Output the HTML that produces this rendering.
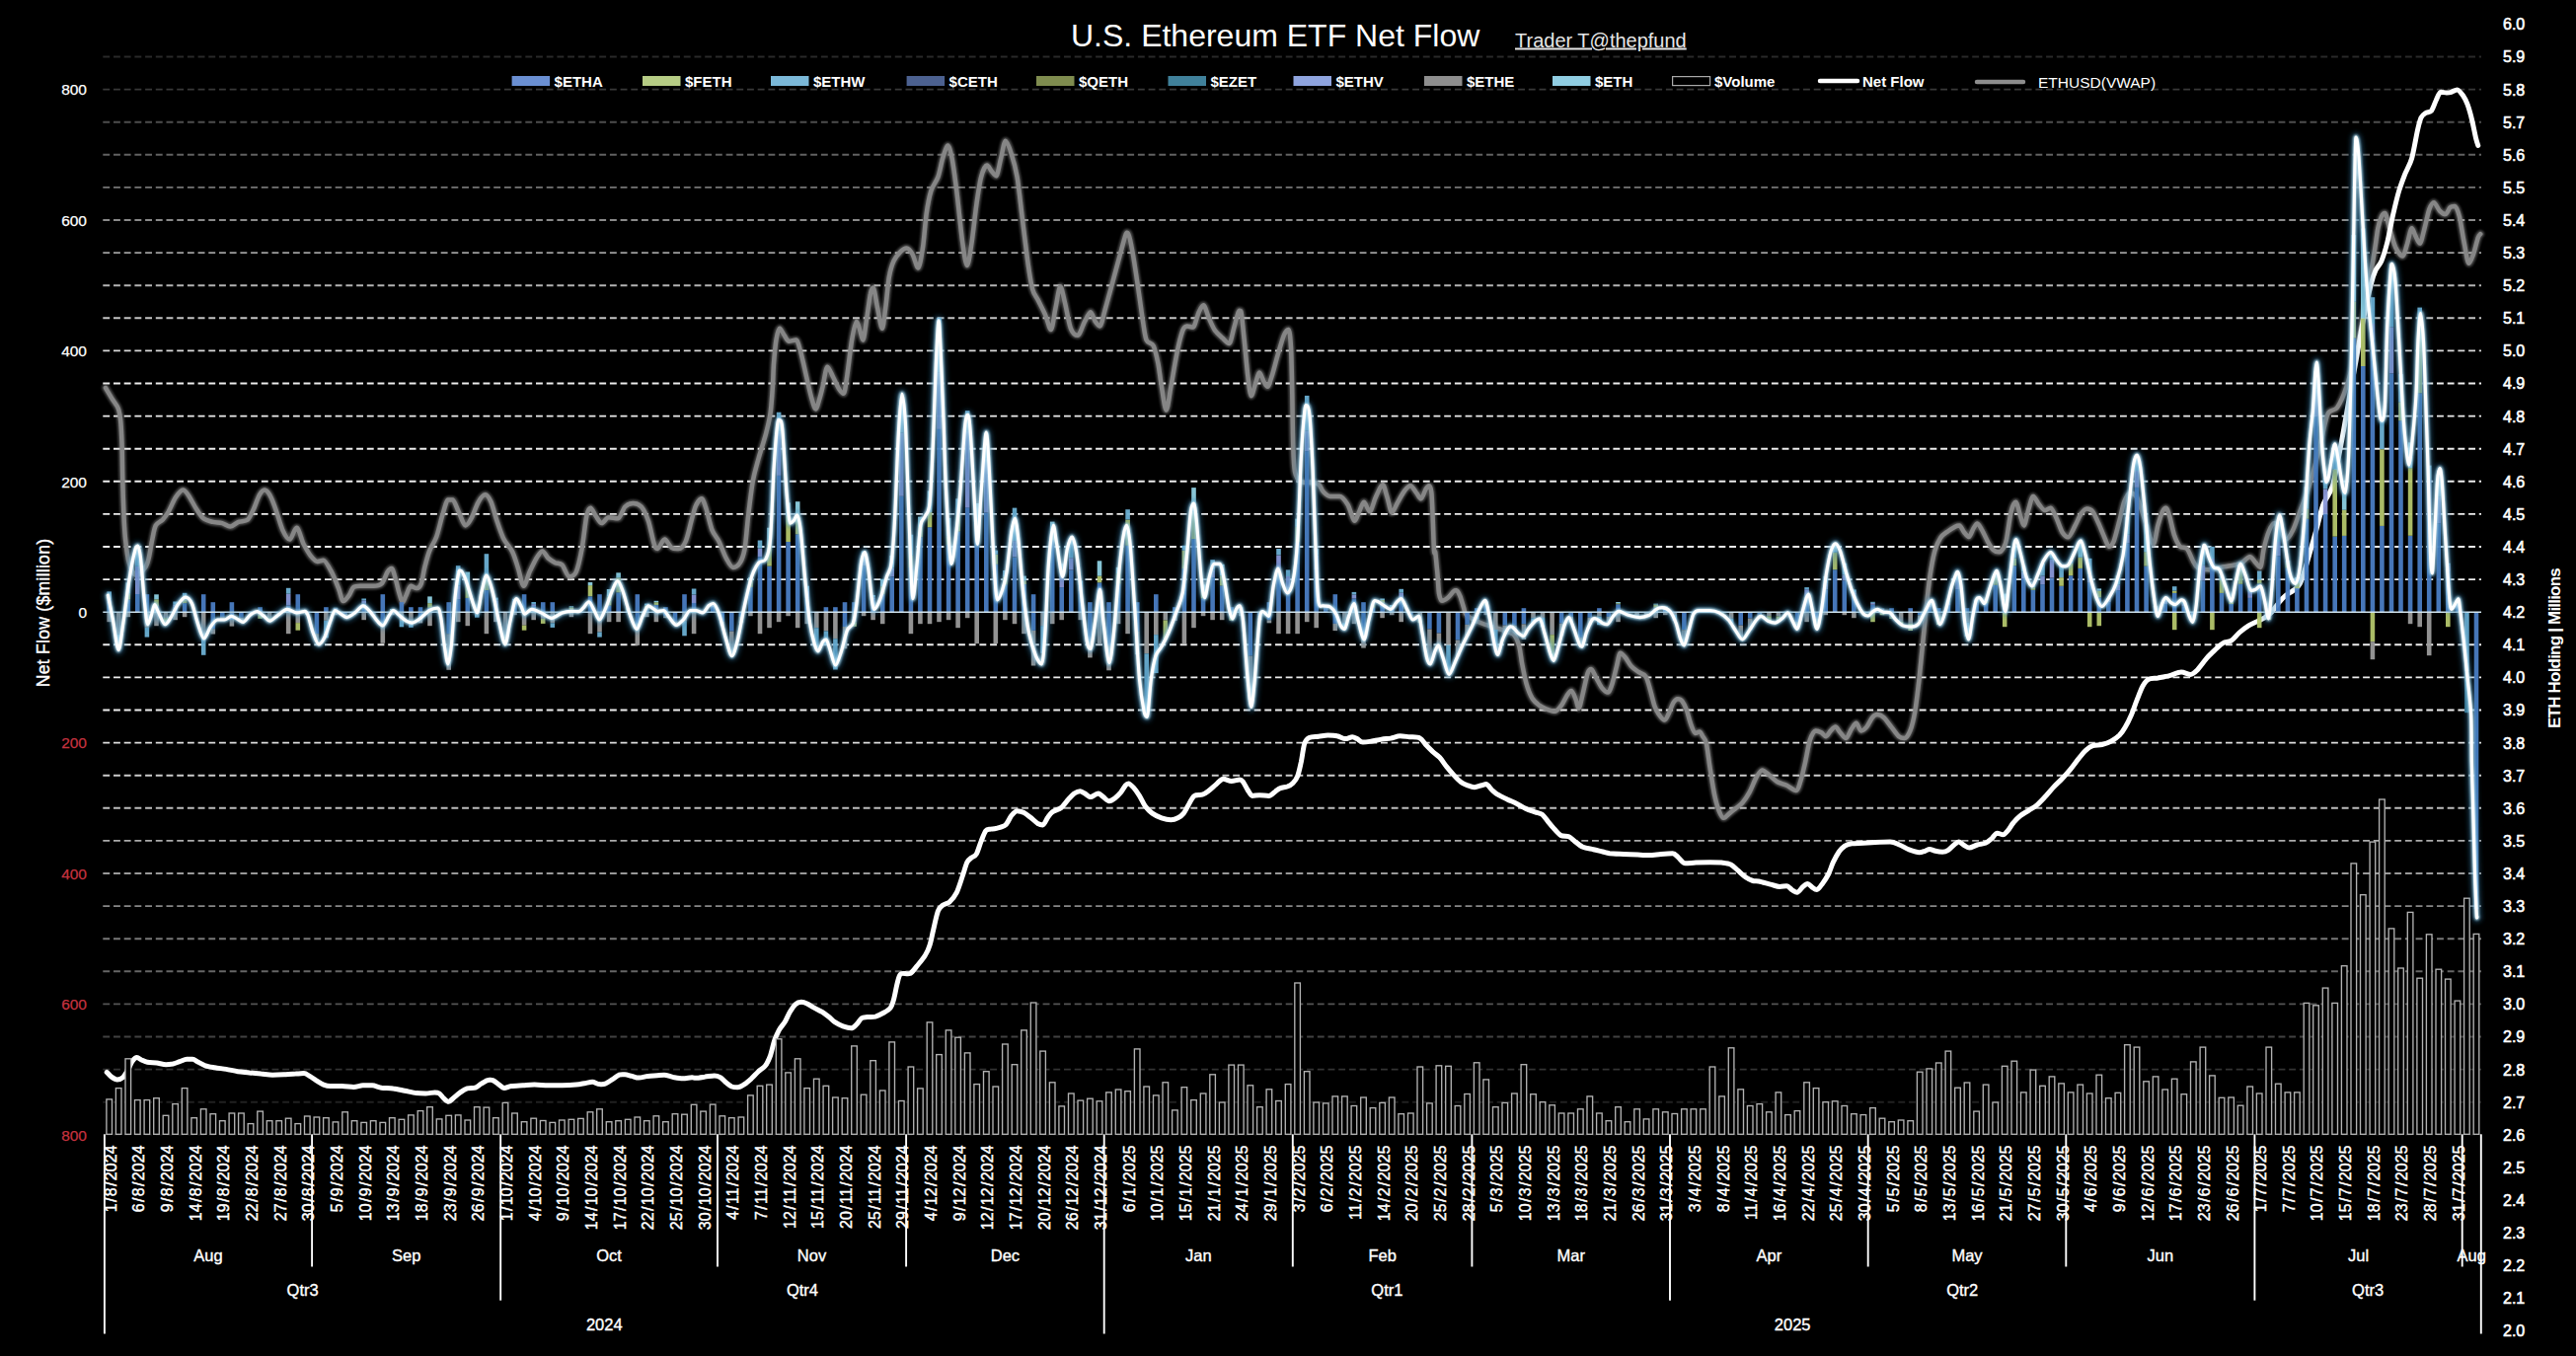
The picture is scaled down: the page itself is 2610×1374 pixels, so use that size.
<!DOCTYPE html><html><head><meta charset="utf-8"><title>U.S. Ethereum ETF Net Flow</title><style>html,body{margin:0;padding:0;background:#000}body{width:2610px;height:1374px;overflow:hidden}svg{display:block;font-family:"Liberation Sans",sans-serif}</style></head><body>
<svg width="2610" height="1374" viewBox="0 0 2610 1374">
<defs><filter id="b3" x="-5%" y="-5%" width="110%" height="110%"><feGaussianBlur stdDeviation="2.4"/></filter><filter id="b2" x="-5%" y="-5%" width="110%" height="110%"><feGaussianBlur stdDeviation="1.2"/></filter></defs>
<rect width="2610" height="1374" fill="#000"/>
<g stroke="#fff" stroke-width="1.9" stroke-dasharray="6.9 3.8" fill="none">
<path d="M104.3 1149.8H2514" stroke-opacity="0.07"/>
<path d="M104.3 1116.7H2514" stroke-opacity="0.13"/>
<path d="M104.3 1083.6H2514" stroke-opacity="0.20"/>
<path d="M104.3 1050.5H2514" stroke-opacity="0.26"/>
<path d="M104.3 1017.4H2514" stroke-opacity="0.33"/>
<path d="M104.3 984.3H2514" stroke-opacity="0.40"/>
<path d="M104.3 951.2H2514" stroke-opacity="0.47"/>
<path d="M104.3 918.1H2514" stroke-opacity="0.53"/>
<path d="M104.3 885H2514" stroke-opacity="0.60"/>
<path d="M104.3 851.9H2514" stroke-opacity="0.67"/>
<path d="M104.3 818.8H2514" stroke-opacity="0.74"/>
<path d="M104.3 785.7H2514" stroke-opacity="0.80"/>
<path d="M104.3 752.6H2514" stroke-opacity="0.87"/>
<path d="M104.3 719.5H2514" stroke-opacity="0.93"/>
<path d="M104.3 686.4H2514" stroke-opacity="0.93"/>
<path d="M104.3 653.3H2514" stroke-opacity="0.93"/>
<path d="M104.3 587.1H2514" stroke-opacity="0.93"/>
<path d="M104.3 554H2514" stroke-opacity="0.93"/>
<path d="M104.3 520.9H2514" stroke-opacity="0.93"/>
<path d="M104.3 487.8H2514" stroke-opacity="0.93"/>
<path d="M104.3 454.7H2514" stroke-opacity="0.93"/>
<path d="M104.3 421.6H2514" stroke-opacity="0.93"/>
<path d="M104.3 388.5H2514" stroke-opacity="0.93"/>
<path d="M104.3 355.4H2514" stroke-opacity="0.85"/>
<path d="M104.3 322.3H2514" stroke-opacity="0.77"/>
<path d="M104.3 289.2H2514" stroke-opacity="0.70"/>
<path d="M104.3 256.1H2514" stroke-opacity="0.62"/>
<path d="M104.3 223H2514" stroke-opacity="0.54"/>
<path d="M104.3 189.9H2514" stroke-opacity="0.46"/>
<path d="M104.3 156.8H2514" stroke-opacity="0.38"/>
<path d="M104.3 123.7H2514" stroke-opacity="0.30"/>
<path d="M104.3 90.6H2514" stroke-opacity="0.22"/>
<path d="M104.3 57.5H2514" stroke-opacity="0.16"/>
</g>
<path d="M107 393C108.1 394.8 112.2 401.8 114.2 405C116.2 408.2 118.8 410.9 120 414.4C121.2 417.9 121.9 422.9 122.4 428.6C122.9 434.3 123.3 443.3 123.6 452.2C123.9 461.1 124 477 124.3 487.6C124.6 498.2 125.1 514.1 125.5 523C125.9 531.9 126.3 539.5 127.1 546.6C127.9 553.7 129.1 564.7 130.7 570.2C132.3 575.7 135.5 583 138 583C140.5 583 145.3 577.5 147.2 574.9C149.1 572.3 149.7 569.7 150.7 565.5C151.8 561.2 153.2 551.5 154.3 546.6C155.3 541.6 156.2 535.4 157.8 532.4C159.4 529.4 162.9 528.6 164.9 526.5C166.8 524.4 168.8 521.6 170.8 518.3C172.7 514.9 175.7 507.4 177.9 504.1C180.1 500.8 183.5 496.6 185.4 496.6C187.4 496.6 188.8 498.8 190.8 501.7C192.9 504.6 196.8 512.4 199.1 515.9C201.4 519.4 203.7 523.4 206.2 525.3C208.7 527.3 212.8 528.2 215.6 528.9C218.5 529.6 222.4 529.4 225.1 530.1C227.7 530.8 230.8 533.6 233.3 533.6C235.8 533.6 238.9 529.9 241.6 528.9C244.2 527.8 248.7 528.5 251 526.5C253.3 524.6 255.1 519.6 256.9 515.9C258.7 512.2 261.1 504.6 262.8 501.7C264.5 498.8 266.4 496.6 268 496.6C269.6 496.6 271.7 498.8 273.4 501.7C275.1 504.6 277.4 510.6 279.3 515.9C281.3 521.2 284.3 532.5 286.4 537.1C288.5 541.7 291.4 546.6 293.5 546.6C295.6 546.6 298.4 534.8 300.6 534.8C302.7 534.8 305.5 547 307.6 551.3C309.8 555.5 312.6 560.4 314.7 563.1C316.8 565.7 319.9 569 321.8 569C323.7 569 325.6 567.8 327.7 567.8C329.8 567.8 333.7 575.4 336 579.6C338.3 583.9 341.3 591.7 343 596.1C344.8 600.6 346.2 609.1 347.8 609.1C349.4 609.1 352.1 605.3 353.7 603.2C355.3 601.1 356.4 596.4 358.4 594.9C360.3 593.5 363.6 593.8 366.6 593.8C369.6 593.8 375.4 593.8 378.4 593.8C381.4 593.8 384.6 593.5 386.7 591.4C388.8 589.3 391.1 581.9 392.6 579.6C394.1 577.3 395.6 576.1 396.8 576.1C398.1 576.1 399.7 583 400.8 586.7C402 590.4 403.3 597.3 404.4 600.8C405.5 604.4 406.9 610.3 407.9 610.3C409 610.3 410.2 605.7 411.5 603.2C412.7 600.7 414.6 593.8 416.2 593.8C417.8 593.8 420.5 596.1 422.1 596.1C423.7 596.1 425.6 594.6 426.8 591.4C428 588.2 429.1 579.8 430.3 574.9C431.6 569.9 433.3 563 435.1 558.4C436.8 553.8 440.2 549.5 442.1 544.2C444.1 538.9 446.3 528.6 448 523C449.8 517.3 452.3 506.5 453.9 506.5C455.5 506.5 457.1 506.5 458.7 506.5C460.3 506.5 462.6 514.4 464.6 518.3C466.5 522.2 469.7 532.4 471.6 532.4C473.6 532.4 475.6 528.9 477.5 525.3C479.5 521.8 482.5 512.4 484.6 508.8C486.7 505.2 489.7 501.3 491.7 501.3C493.6 501.3 495.8 504.9 497.6 508.8C499.4 512.8 501.5 522 503.5 527.7C505.4 533.4 508.3 542 510.6 546.6C512.9 551.2 516.7 554.1 518.8 558.4C521 562.6 523 569.6 524.7 574.9C526.5 580.2 528.9 593.8 530.6 593.8C532.4 593.8 534.6 583.9 536.5 579.6C538.5 575.4 541.7 568.6 543.6 565.5C545.6 562.3 547.7 558.4 549.5 558.4C551.3 558.4 553.5 563.7 555.4 565.5C557.4 567.2 560.4 569.1 562.5 570.2C564.6 571.2 567.4 570.4 569.6 572.5C571.7 574.7 574.5 584.3 576.6 584.3C578.8 584.3 581.8 583.9 583.7 579.6C585.7 575.4 588 564.5 589.6 556C591.2 547.5 593 529.2 594.3 523C595.6 516.8 596.9 514.7 598.3 514.7C599.8 514.7 602.1 520.7 603.8 523C605.5 525.3 607.7 530.1 609.7 530.1C611.6 530.1 614.3 524.2 616.8 524.2C619.2 524.2 623.7 525.3 626.2 525.3C628.7 525.3 631 515.8 633.3 513.5C635.6 511.2 639.1 510 641.5 510C644 510 647.5 510.9 649.8 513.5C652.1 516.2 654.9 522 656.9 527.7C658.8 533.4 661.3 547 662.8 551.3C664.2 555.5 664.7 556 666.3 556C667.9 556 671.3 546.6 673.4 546.6C675.5 546.6 678.3 553.4 680.5 554.8C682.6 556.3 685.4 556 687.5 556C689.7 556 692.7 553.2 694.6 548.9C696.6 544.7 699 533.2 700.5 527.7C702.1 522.2 703.4 515.7 705 512.4C706.6 509 709.3 505.3 710.9 505.3C712.5 505.3 714 511.1 715.6 515.9C717.2 520.7 719.6 532.2 721.5 537.1C723.5 542.1 726.5 544.7 728.6 548.9C730.7 553.2 733.6 561.6 735.7 565.5C737.8 569.3 740.6 574.9 742.8 574.9C744.9 574.9 748.1 573 749.8 570.2C751.6 567.3 753.3 563.1 754.6 556C755.8 548.9 756.9 533.2 758.1 523C759.3 512.7 761.2 496.4 762.8 487.6C764.4 478.7 766.8 471.1 768.7 464C770.7 456.9 774 447.1 775.8 440.4C777.6 433.7 779.4 426.5 780.5 419.2C781.6 411.9 782.3 399.4 782.9 391.7C783.4 384.1 783.5 375.2 784 368.2C784.6 361.1 785.5 349.9 786.4 344.6C787.3 339.2 788.7 332.8 789.9 332.8C791.2 332.8 793.2 337.9 794.7 339.8C796.1 341.8 797.6 345.7 799.4 345.7C801.2 345.7 804.7 344.6 806.5 344.6C808.2 344.6 809.4 350 811.2 356.4C813 362.7 816.5 379.6 818.3 387C820 394.5 821.7 401.8 823 405.9C824.2 410 825.4 414.4 826.5 414.4C827.7 414.4 829.5 406.9 830.5 403.5C831.6 400.1 832.4 396.5 833.6 391.7C834.8 387 836.7 371.7 838.3 371.7C839.9 371.7 842.4 378.9 844.2 382.3C846 385.7 848.5 391.6 850.1 394.1C851.7 396.6 853.6 398.8 854.8 398.8C856.1 398.8 857.1 388.1 858.4 380C859.6 371.8 861.7 352.7 863.1 344.6C864.5 336.4 866.6 325.7 867.8 325.7C869.1 325.7 870.4 332.3 871.4 335.1C872.3 337.9 873.4 344.6 874.4 344.6C875.5 344.6 877.3 328 878.4 321C879.6 313.9 881 301.8 882 297.4C882.9 292.9 883.7 291.5 884.8 291.5C885.9 291.5 887.7 305.3 889 311.5C890.4 317.7 892.5 332.8 893.8 332.8C895 332.8 896.2 319.3 897.3 311.5C898.4 303.7 899.6 287.9 900.8 280.8C902.1 273.8 903.8 268.2 905.6 264.3C907.3 260.4 910.7 256.8 912.6 254.9C914.6 252.9 916.8 251.4 918.5 251.4C920.3 251.4 922.7 254.2 924.4 257.3C926.2 260.3 928.7 271.4 930.3 271.4C931.9 271.4 933.8 258.3 935.1 250.2C936.3 242 937.4 225.6 938.6 217.1C939.8 208.6 941.6 199.2 943.3 193.5C945.1 187.9 948.6 184.3 950.4 179.4C952.2 174.4 953.6 165.3 955.1 160.5C956.6 155.7 958.9 147.5 960.3 147.5C961.7 147.5 963.2 153.6 964.6 160.5C965.9 167.4 967.7 180.8 969.3 193.5C970.9 206.3 973.6 234.1 975.2 245.5C976.8 256.8 978.5 269 979.9 269C981.3 269 983.2 254.7 984.6 245.5C986 236.3 987.9 217.6 989.3 207.7C990.7 197.8 992.5 185.4 994.1 179.4C995.6 173.4 998.4 167.6 1000 167.6C1001.5 167.6 1003.3 171.9 1004.7 173.5C1006.1 175.1 1008 178.2 1009.4 178.2C1010.8 178.2 1012.7 165.8 1014.1 160.5C1015.5 155.2 1017.2 142.8 1018.8 142.8C1020.4 142.8 1023 150.3 1024.7 155.8C1026.5 161.3 1029 170.2 1030.6 179.4C1032.2 188.6 1033.8 204.4 1035.3 217.1C1036.9 229.9 1039.7 253 1041.2 264.3C1042.8 275.7 1044.4 286.6 1046 292.6C1047.6 298.7 1049.9 300.5 1051.9 304.4C1053.8 308.3 1057 314.2 1058.9 318.6C1060.9 323 1063.2 333.9 1064.8 333.9C1066.4 333.9 1068.1 318.1 1069.6 311.5C1071 305 1072.9 290.3 1074.3 290.3C1075.7 290.3 1077.4 300.4 1079 306.8C1080.6 313.2 1082.9 327.8 1084.9 332.8C1086.8 337.7 1089.9 339.8 1092 339.8C1094.1 339.8 1097.1 329.2 1099.1 325.7C1101 322.1 1103.4 316.2 1105 316.2C1106.5 316.2 1108.3 323.6 1109.7 325.7C1111.1 327.8 1112.8 330.4 1114.4 330.4C1116 330.4 1118.3 318.2 1120.3 311.5C1122.2 304.8 1125.2 293.4 1127.4 285.6C1129.5 277.8 1132.5 266.7 1134.4 259.6C1136.4 252.5 1139.1 241.9 1140.3 238.4C1141.6 234.8 1141.6 236 1142.7 236C1143.8 236 1145.8 246.4 1147.4 254.9C1149 263.4 1151.7 282 1153.3 292.6C1154.9 303.3 1156.8 317.9 1158 325.7C1159.3 333.5 1160 340.8 1161.6 344.6C1163.2 348.3 1166.9 346.9 1168.7 350.5C1170.4 354 1172.1 362 1173.4 368.2C1174.6 374.3 1175.7 384.6 1176.9 391.7C1178.2 398.9 1180.2 415.6 1181.6 415.6C1183.1 415.6 1184.8 400.3 1186.4 391.7C1188 383.2 1190.5 367.2 1192.3 358.7C1194 350.2 1196.6 339.4 1198.2 335.1C1199.7 330.9 1201.3 330.4 1202.9 330.4C1204.5 330.4 1207 331.6 1208.8 331.6C1210.5 331.6 1213.1 319.6 1214.7 316.2C1216.3 312.9 1217.8 309.2 1219.4 309.2C1221 309.2 1223.5 319.4 1225.3 323.3C1227.1 327.2 1229.2 332.3 1231.2 335.1C1233.1 337.9 1236.1 340.3 1238.3 342.2C1240.4 344.1 1243.6 348.1 1245.3 348.1C1247.1 348.1 1248.7 337.5 1250.1 332.8C1251.5 328 1253.7 318.9 1254.8 316.2C1255.8 313.6 1256.3 315.1 1257.1 315.1C1258 315.1 1259.6 334.8 1260.7 344.6C1261.7 354.3 1263.2 371.5 1264.2 380C1265.3 388.4 1266.5 401.2 1267.8 401.2C1269 401.2 1271.2 390.6 1272.5 387C1273.7 383.5 1274.8 377.6 1276 377.6C1277.3 377.6 1279.5 384.9 1280.7 387C1282 389.2 1283 391.7 1284.3 391.7C1285.5 391.7 1287.4 384.9 1289 380C1290.6 375 1293.1 364.7 1294.9 358.7C1296.7 352.7 1299.2 343.6 1300.8 339.8C1302.4 336.1 1304.4 333.9 1305.5 333.9C1306.6 333.9 1307.4 342.1 1308 352C1308.6 361.9 1309 385.3 1309.3 400C1309.6 414.7 1309.8 438.3 1310.2 450C1310.6 461.7 1310.8 472.3 1312 478C1313.2 483.7 1314.6 486.2 1318 488C1321.4 489.8 1331.4 488.4 1334.8 489.9C1338.2 491.5 1338.7 496.3 1340.7 498.2C1342.6 500.2 1345.3 502.9 1347.8 502.9C1350.2 502.9 1354.5 502.9 1357.2 502.9C1359.8 502.9 1363.2 507.5 1365.5 511.2C1367.8 514.9 1370.8 527.7 1372.5 527.7C1374.3 527.7 1375.8 521.1 1377.2 518.3C1378.7 515.4 1380.4 508.8 1382 508.8C1383.6 508.8 1386.1 518.3 1387.9 518.3C1389.6 518.3 1391.8 508.2 1393.8 504.1C1395.7 500 1399.1 491.1 1400.8 491.1C1402.6 491.1 1404.1 499.9 1405.6 504.1C1407 508.4 1408.7 519.4 1410.3 519.4C1411.9 519.4 1414.2 512.2 1416.2 508.8C1418.1 505.5 1421.3 499.5 1423.3 497C1425.2 494.5 1427.4 492.3 1429.2 492.3C1430.9 492.3 1433.5 497.4 1435.1 499.4C1436.7 501.3 1438.4 505.3 1439.8 505.3C1441.2 505.3 1443.3 497.8 1444.5 495.8C1445.7 493.9 1447.2 492.3 1448 492.3C1448.9 492.3 1449.9 494.8 1450.4 499.4C1450.9 504 1451.2 514.1 1451.6 523C1452 531.8 1452.6 552.8 1453 558.4C1453.4 563.9 1453.8 556.4 1454.3 560C1454.8 563.6 1455.9 575.9 1456.5 582.1C1457.1 588.3 1457.3 597.3 1458 601.3C1458.7 605.3 1459.7 608.7 1461 608.7C1462.3 608.7 1465.1 607.1 1466.9 605.7C1468.7 604.3 1471.5 600.2 1472.8 599.1C1474.1 598 1474.7 598.3 1475.7 598.3C1476.7 598.3 1478.3 601.5 1479.4 604.2C1480.5 606.9 1482.1 613.1 1483.1 616C1484.1 618.9 1483.5 621.1 1486 623.4C1488.5 625.6 1495.2 629 1500 631C1504.8 633 1513 635.3 1518 637C1523 638.7 1530 640 1533.2 642.6C1536.4 645.2 1537.8 650 1539.1 654.4C1540.4 658.8 1541 666.4 1542.1 672.1C1543.2 677.8 1545 687.4 1546.5 692.7C1548 698 1550.4 704.2 1552.4 707.5C1554.4 710.8 1557.6 713.2 1559.8 714.9C1562 716.6 1564.9 717.7 1567.2 718.6C1569.5 719.5 1573.1 720.8 1575.3 720.8C1577.5 720.8 1580 717.3 1581.9 714.9C1583.8 712.5 1586.3 706.7 1587.8 704.5C1589.3 702.3 1590.9 700.1 1592.2 700.1C1593.5 700.1 1595.6 706.3 1596.7 709C1597.8 711.7 1598.5 717.8 1599.6 717.8C1600.7 717.8 1602.7 706.9 1604 701.6C1605.3 696.3 1607.3 685.9 1608.5 682.4C1609.7 678.9 1610.9 678 1612.2 678C1613.5 678 1615.6 683.9 1617.3 686.8C1619 689.7 1621.4 695 1623.2 697.2C1625 699.4 1627.6 701.6 1629.1 701.6C1630.6 701.6 1632.2 696.7 1633.5 692.7C1634.8 688.7 1636.8 679.6 1638 675C1639.2 670.4 1640.4 661.8 1641.7 661.8C1643 661.8 1645.1 664.2 1646.8 666.2C1648.5 668.2 1650.7 672.8 1652.7 675C1654.7 677.2 1657.9 679.3 1660.1 680.9C1662.3 682.5 1665.7 682.7 1667.5 685.4C1669.3 688.1 1670.6 694.2 1671.9 698.6C1673.2 703 1675 711.1 1676.3 714.9C1677.6 718.7 1679.2 721.5 1680.7 723.7C1682.2 725.9 1685 729.6 1686.6 729.6C1688.2 729.6 1689.8 724.9 1691.1 722.2C1692.4 719.5 1694.2 714 1695.5 711.9C1696.8 709.8 1698.6 708.2 1699.9 708.2C1701.2 708.2 1703 708.7 1704.3 710.4C1705.6 712.1 1707.5 715.8 1708.8 719.3C1710.1 722.8 1711.9 730.5 1713.2 734C1714.5 737.5 1716.3 742.9 1717.6 742.9C1718.9 742.9 1720.9 741.4 1722 741.4C1723.1 741.4 1724 744.1 1725 745.8C1726 747.5 1727.7 748.3 1728.8 753C1729.9 757.7 1731.2 769.1 1732.4 776.9C1733.6 784.7 1735.7 798.5 1737.1 805.2C1738.5 811.9 1740.4 818.3 1741.8 821.8C1743.2 825.3 1744.9 828.8 1746.5 828.8C1748.1 828.8 1750.6 825.5 1752.4 824.1C1754.2 822.7 1756.3 821 1758.3 819.4C1760.2 817.8 1763.3 816 1765.4 813.5C1767.5 811 1770.4 806.8 1772.5 802.9C1774.6 799 1777.6 790.9 1779.6 787.5C1781.5 784.1 1783.6 780.5 1785.5 780.5C1787.4 780.5 1790.2 783.4 1792.5 785.2C1794.8 787 1798.1 790.7 1800.8 792.3C1803.5 793.9 1807.4 794.5 1810.2 795.8C1813 797.1 1817.6 801 1819.7 801C1821.8 801 1823 795.4 1824.4 791.1C1825.8 786.8 1827.7 778.4 1829.1 772.2C1830.5 766 1832.2 754.8 1833.8 750C1835.4 745.2 1837.9 740.4 1839.6 740.4C1841.3 740.4 1843.7 741.4 1845.3 742.3C1846.9 743.2 1848.7 746.2 1850.1 746.2C1851.5 746.2 1853.5 741.8 1854.9 740.4C1856.3 739 1858.3 736.6 1859.7 736.6C1861.1 736.6 1862.9 740.6 1864.5 742.3C1866.1 744 1868.6 748.1 1870.3 748.1C1872 748.1 1874.4 740.8 1876 738.5C1877.6 736.2 1879.4 732.8 1880.8 732.8C1882.2 732.8 1884 740.4 1885.6 740.4C1887.2 740.4 1889.6 738.6 1891.3 736.6C1893 734.6 1895.5 728.9 1897.1 727C1898.7 725.1 1900.2 724.1 1901.9 724.1C1903.6 724.1 1906.4 725.1 1908.6 727C1910.8 728.9 1914 733.7 1916.3 736.6C1918.6 739.5 1921.9 744.5 1923.9 746.2C1925.9 747.9 1928 748.1 1929.7 748.1C1931.4 748.1 1933.8 744.4 1935.4 740.4C1937 736.4 1938.9 728.5 1940.2 721.3C1941.5 714.1 1942.8 702.6 1944 692.5C1945.2 682.4 1946.7 665.7 1947.9 654.2C1949.1 642.7 1950.6 626.4 1951.7 615.8C1952.8 605.2 1954.2 591.9 1955.5 583.3C1956.8 574.7 1958.7 564.1 1960.3 558.3C1961.9 552.5 1964.1 547.9 1966.1 544.9C1968.1 541.9 1971.5 539.9 1973.8 538.2C1976.1 536.5 1979.7 534.3 1981.4 533.4C1983.1 532.5 1984 532.5 1985.3 532.5C1986.6 532.5 1988.6 537.5 1990 539.2C1991.4 540.9 1993.4 544 1994.8 544C1996.2 544 1998.3 537.3 1999.6 535.3C2000.9 533.3 2002.2 530.5 2003.5 530.5C2004.8 530.5 2006.7 534.6 2008.3 537.3C2009.9 540 2012.3 545.8 2014 548.8C2015.7 551.8 2018.1 555.8 2019.8 557.4C2021.5 559 2023.9 559.3 2025.5 559.3C2027.1 559.3 2029.2 556.4 2030.3 554.5C2031.4 552.6 2031.9 552 2033 546.6C2034.1 541.1 2036.3 523.9 2037.7 518.3C2039.1 512.6 2041 508.8 2042.4 508.8C2043.8 508.8 2045.9 519.4 2047.1 523C2048.4 526.5 2049.4 532.4 2050.7 532.4C2051.9 532.4 2054 520.3 2055.4 515.9C2056.8 511.5 2058.5 502.9 2060.1 502.9C2061.7 502.9 2064.2 509.1 2066 511.2C2067.8 513.3 2070.1 517.1 2071.9 517.1C2073.7 517.1 2076 514.7 2077.8 514.7C2079.6 514.7 2081.9 521.6 2083.7 525.3C2085.5 529.1 2087.8 536.7 2089.6 539.5C2091.4 542.3 2093.6 544.2 2095.5 544.2C2097.5 544.2 2100.6 536 2102.6 532.4C2104.5 528.9 2106.7 523.2 2108.5 520.6C2110.3 518.1 2112.6 515.4 2114.4 515.4C2116.2 515.4 2118.5 516.1 2120.3 518.3C2122.1 520.5 2124.4 526.2 2126.2 530.1C2128 534 2130.5 540.7 2132.1 544.2C2133.7 547.8 2135.4 553.7 2136.8 553.7C2138.2 553.7 2139.9 552.8 2141.5 548.9C2143.1 545 2145.8 533.7 2147.4 527.7C2149 521.7 2150.5 513.1 2152.1 508.8C2153.7 504.6 2156.1 499.4 2158 499.4C2160 499.4 2162.8 499.9 2165.1 504.1C2167.4 508.4 2170.9 520.6 2173.4 527.7C2175.9 534.8 2179.7 551.3 2181.6 551.3C2183.6 551.3 2184.9 537.4 2186.4 532.4C2187.8 527.5 2189.8 520.9 2191.1 518.3C2192.3 515.6 2193.6 514.7 2194.6 514.7C2195.7 514.7 2196.9 518.9 2198.2 523C2199.4 527.1 2201.3 537.3 2202.9 541.9C2204.5 546.5 2206.8 551.5 2208.8 553.7C2210.7 555.8 2213.9 553.9 2215.8 556C2217.8 558.1 2220.2 565 2221.7 567.8C2223.3 570.6 2224 573.5 2226.5 574.9C2228.9 576.3 2234.7 577.3 2238.3 577.3C2241.8 577.3 2247.2 575.4 2250.1 574.9C2252.9 574.4 2255 574.1 2257.1 573.7C2259.3 573.4 2262.1 573.1 2264.2 572.5C2266.3 572 2269 571.4 2271.3 570.2C2273.6 568.9 2277.4 564.3 2279.6 564.3C2281.7 564.3 2283.9 568.6 2285.5 570.2C2287.1 571.8 2288.9 574.9 2290.2 574.9C2291.4 574.9 2292.5 561.3 2293.7 556C2295 550.7 2296.8 543.4 2298.4 539.5C2300 535.6 2302.6 530.1 2304.3 530.1C2306.1 530.1 2308.5 534.7 2310.2 537.1C2312 539.6 2314.2 546.6 2316.1 546.6C2318.1 546.6 2321.1 541.4 2323.2 537.1C2325.3 532.9 2328.2 523.9 2330.3 518.3C2332.4 512.6 2335.2 505.8 2337.4 499.4C2339.5 493 2342.3 483.6 2344.4 475.8C2346.6 468 2349.4 456 2351.5 447.5C2353.7 439 2356.1 424.3 2358.6 419.2C2361.1 414 2365.2 417.1 2368 413C2370.9 408.9 2374.7 400.2 2377.5 391.7C2380.3 383.3 2384.1 368.7 2386.9 356.4C2389.8 344 2393.5 324.4 2396.4 309.2C2399.2 293.9 2403.9 266.6 2405.8 254.9C2407.7 243.2 2408.3 236.6 2409.3 231.3C2410.4 226 2411.8 221.8 2412.9 219.5C2413.9 217.2 2415.2 216 2416.4 216C2417.7 216 2419.5 226.2 2421.1 231.3C2422.7 236.4 2425.1 245.9 2427 250.2C2429 254.4 2432.3 259.6 2434.1 259.6C2435.9 259.6 2437.4 252.1 2438.8 247.8C2440.2 243.6 2442.3 231.3 2443.6 231.3C2444.8 231.3 2445.9 236.1 2447.1 238.4C2448.3 240.7 2450.4 246.6 2451.8 246.6C2453.2 246.6 2455.1 236.4 2456.5 231.3C2457.9 226.2 2459.8 216.3 2461.2 212.4C2462.7 208.5 2464.4 205.3 2466 205.3C2467.6 205.3 2470.1 211.8 2471.9 213.6C2473.6 215.4 2476.2 217.1 2477.8 217.1C2479.4 217.1 2481.1 211.3 2482.5 210.1C2483.9 208.8 2485.8 208.9 2487.2 208.9C2488.6 208.9 2490.5 214 2491.9 219.5C2493.3 225 2495.2 238.4 2496.6 245.5C2498.1 252.5 2499.9 266.7 2501.4 266.7C2502.8 266.7 2504.7 261.1 2506.1 257.3C2507.5 253.4 2509.7 243.7 2510.8 240.7C2511.9 237.7 2512.8 237.7 2513.2 237.2" fill="none" stroke="#b5b5b5" stroke-width="7.5" stroke-opacity="0.42" stroke-linejoin="round" stroke-linecap="round" filter="url(#b2)"/>
<path d="M107 393C108.1 394.8 112.2 401.8 114.2 405C116.2 408.2 118.8 410.9 120 414.4C121.2 417.9 121.9 422.9 122.4 428.6C122.9 434.3 123.3 443.3 123.6 452.2C123.9 461.1 124 477 124.3 487.6C124.6 498.2 125.1 514.1 125.5 523C125.9 531.9 126.3 539.5 127.1 546.6C127.9 553.7 129.1 564.7 130.7 570.2C132.3 575.7 135.5 583 138 583C140.5 583 145.3 577.5 147.2 574.9C149.1 572.3 149.7 569.7 150.7 565.5C151.8 561.2 153.2 551.5 154.3 546.6C155.3 541.6 156.2 535.4 157.8 532.4C159.4 529.4 162.9 528.6 164.9 526.5C166.8 524.4 168.8 521.6 170.8 518.3C172.7 514.9 175.7 507.4 177.9 504.1C180.1 500.8 183.5 496.6 185.4 496.6C187.4 496.6 188.8 498.8 190.8 501.7C192.9 504.6 196.8 512.4 199.1 515.9C201.4 519.4 203.7 523.4 206.2 525.3C208.7 527.3 212.8 528.2 215.6 528.9C218.5 529.6 222.4 529.4 225.1 530.1C227.7 530.8 230.8 533.6 233.3 533.6C235.8 533.6 238.9 529.9 241.6 528.9C244.2 527.8 248.7 528.5 251 526.5C253.3 524.6 255.1 519.6 256.9 515.9C258.7 512.2 261.1 504.6 262.8 501.7C264.5 498.8 266.4 496.6 268 496.6C269.6 496.6 271.7 498.8 273.4 501.7C275.1 504.6 277.4 510.6 279.3 515.9C281.3 521.2 284.3 532.5 286.4 537.1C288.5 541.7 291.4 546.6 293.5 546.6C295.6 546.6 298.4 534.8 300.6 534.8C302.7 534.8 305.5 547 307.6 551.3C309.8 555.5 312.6 560.4 314.7 563.1C316.8 565.7 319.9 569 321.8 569C323.7 569 325.6 567.8 327.7 567.8C329.8 567.8 333.7 575.4 336 579.6C338.3 583.9 341.3 591.7 343 596.1C344.8 600.6 346.2 609.1 347.8 609.1C349.4 609.1 352.1 605.3 353.7 603.2C355.3 601.1 356.4 596.4 358.4 594.9C360.3 593.5 363.6 593.8 366.6 593.8C369.6 593.8 375.4 593.8 378.4 593.8C381.4 593.8 384.6 593.5 386.7 591.4C388.8 589.3 391.1 581.9 392.6 579.6C394.1 577.3 395.6 576.1 396.8 576.1C398.1 576.1 399.7 583 400.8 586.7C402 590.4 403.3 597.3 404.4 600.8C405.5 604.4 406.9 610.3 407.9 610.3C409 610.3 410.2 605.7 411.5 603.2C412.7 600.7 414.6 593.8 416.2 593.8C417.8 593.8 420.5 596.1 422.1 596.1C423.7 596.1 425.6 594.6 426.8 591.4C428 588.2 429.1 579.8 430.3 574.9C431.6 569.9 433.3 563 435.1 558.4C436.8 553.8 440.2 549.5 442.1 544.2C444.1 538.9 446.3 528.6 448 523C449.8 517.3 452.3 506.5 453.9 506.5C455.5 506.5 457.1 506.5 458.7 506.5C460.3 506.5 462.6 514.4 464.6 518.3C466.5 522.2 469.7 532.4 471.6 532.4C473.6 532.4 475.6 528.9 477.5 525.3C479.5 521.8 482.5 512.4 484.6 508.8C486.7 505.2 489.7 501.3 491.7 501.3C493.6 501.3 495.8 504.9 497.6 508.8C499.4 512.8 501.5 522 503.5 527.7C505.4 533.4 508.3 542 510.6 546.6C512.9 551.2 516.7 554.1 518.8 558.4C521 562.6 523 569.6 524.7 574.9C526.5 580.2 528.9 593.8 530.6 593.8C532.4 593.8 534.6 583.9 536.5 579.6C538.5 575.4 541.7 568.6 543.6 565.5C545.6 562.3 547.7 558.4 549.5 558.4C551.3 558.4 553.5 563.7 555.4 565.5C557.4 567.2 560.4 569.1 562.5 570.2C564.6 571.2 567.4 570.4 569.6 572.5C571.7 574.7 574.5 584.3 576.6 584.3C578.8 584.3 581.8 583.9 583.7 579.6C585.7 575.4 588 564.5 589.6 556C591.2 547.5 593 529.2 594.3 523C595.6 516.8 596.9 514.7 598.3 514.7C599.8 514.7 602.1 520.7 603.8 523C605.5 525.3 607.7 530.1 609.7 530.1C611.6 530.1 614.3 524.2 616.8 524.2C619.2 524.2 623.7 525.3 626.2 525.3C628.7 525.3 631 515.8 633.3 513.5C635.6 511.2 639.1 510 641.5 510C644 510 647.5 510.9 649.8 513.5C652.1 516.2 654.9 522 656.9 527.7C658.8 533.4 661.3 547 662.8 551.3C664.2 555.5 664.7 556 666.3 556C667.9 556 671.3 546.6 673.4 546.6C675.5 546.6 678.3 553.4 680.5 554.8C682.6 556.3 685.4 556 687.5 556C689.7 556 692.7 553.2 694.6 548.9C696.6 544.7 699 533.2 700.5 527.7C702.1 522.2 703.4 515.7 705 512.4C706.6 509 709.3 505.3 710.9 505.3C712.5 505.3 714 511.1 715.6 515.9C717.2 520.7 719.6 532.2 721.5 537.1C723.5 542.1 726.5 544.7 728.6 548.9C730.7 553.2 733.6 561.6 735.7 565.5C737.8 569.3 740.6 574.9 742.8 574.9C744.9 574.9 748.1 573 749.8 570.2C751.6 567.3 753.3 563.1 754.6 556C755.8 548.9 756.9 533.2 758.1 523C759.3 512.7 761.2 496.4 762.8 487.6C764.4 478.7 766.8 471.1 768.7 464C770.7 456.9 774 447.1 775.8 440.4C777.6 433.7 779.4 426.5 780.5 419.2C781.6 411.9 782.3 399.4 782.9 391.7C783.4 384.1 783.5 375.2 784 368.2C784.6 361.1 785.5 349.9 786.4 344.6C787.3 339.2 788.7 332.8 789.9 332.8C791.2 332.8 793.2 337.9 794.7 339.8C796.1 341.8 797.6 345.7 799.4 345.7C801.2 345.7 804.7 344.6 806.5 344.6C808.2 344.6 809.4 350 811.2 356.4C813 362.7 816.5 379.6 818.3 387C820 394.5 821.7 401.8 823 405.9C824.2 410 825.4 414.4 826.5 414.4C827.7 414.4 829.5 406.9 830.5 403.5C831.6 400.1 832.4 396.5 833.6 391.7C834.8 387 836.7 371.7 838.3 371.7C839.9 371.7 842.4 378.9 844.2 382.3C846 385.7 848.5 391.6 850.1 394.1C851.7 396.6 853.6 398.8 854.8 398.8C856.1 398.8 857.1 388.1 858.4 380C859.6 371.8 861.7 352.7 863.1 344.6C864.5 336.4 866.6 325.7 867.8 325.7C869.1 325.7 870.4 332.3 871.4 335.1C872.3 337.9 873.4 344.6 874.4 344.6C875.5 344.6 877.3 328 878.4 321C879.6 313.9 881 301.8 882 297.4C882.9 292.9 883.7 291.5 884.8 291.5C885.9 291.5 887.7 305.3 889 311.5C890.4 317.7 892.5 332.8 893.8 332.8C895 332.8 896.2 319.3 897.3 311.5C898.4 303.7 899.6 287.9 900.8 280.8C902.1 273.8 903.8 268.2 905.6 264.3C907.3 260.4 910.7 256.8 912.6 254.9C914.6 252.9 916.8 251.4 918.5 251.4C920.3 251.4 922.7 254.2 924.4 257.3C926.2 260.3 928.7 271.4 930.3 271.4C931.9 271.4 933.8 258.3 935.1 250.2C936.3 242 937.4 225.6 938.6 217.1C939.8 208.6 941.6 199.2 943.3 193.5C945.1 187.9 948.6 184.3 950.4 179.4C952.2 174.4 953.6 165.3 955.1 160.5C956.6 155.7 958.9 147.5 960.3 147.5C961.7 147.5 963.2 153.6 964.6 160.5C965.9 167.4 967.7 180.8 969.3 193.5C970.9 206.3 973.6 234.1 975.2 245.5C976.8 256.8 978.5 269 979.9 269C981.3 269 983.2 254.7 984.6 245.5C986 236.3 987.9 217.6 989.3 207.7C990.7 197.8 992.5 185.4 994.1 179.4C995.6 173.4 998.4 167.6 1000 167.6C1001.5 167.6 1003.3 171.9 1004.7 173.5C1006.1 175.1 1008 178.2 1009.4 178.2C1010.8 178.2 1012.7 165.8 1014.1 160.5C1015.5 155.2 1017.2 142.8 1018.8 142.8C1020.4 142.8 1023 150.3 1024.7 155.8C1026.5 161.3 1029 170.2 1030.6 179.4C1032.2 188.6 1033.8 204.4 1035.3 217.1C1036.9 229.9 1039.7 253 1041.2 264.3C1042.8 275.7 1044.4 286.6 1046 292.6C1047.6 298.7 1049.9 300.5 1051.9 304.4C1053.8 308.3 1057 314.2 1058.9 318.6C1060.9 323 1063.2 333.9 1064.8 333.9C1066.4 333.9 1068.1 318.1 1069.6 311.5C1071 305 1072.9 290.3 1074.3 290.3C1075.7 290.3 1077.4 300.4 1079 306.8C1080.6 313.2 1082.9 327.8 1084.9 332.8C1086.8 337.7 1089.9 339.8 1092 339.8C1094.1 339.8 1097.1 329.2 1099.1 325.7C1101 322.1 1103.4 316.2 1105 316.2C1106.5 316.2 1108.3 323.6 1109.7 325.7C1111.1 327.8 1112.8 330.4 1114.4 330.4C1116 330.4 1118.3 318.2 1120.3 311.5C1122.2 304.8 1125.2 293.4 1127.4 285.6C1129.5 277.8 1132.5 266.7 1134.4 259.6C1136.4 252.5 1139.1 241.9 1140.3 238.4C1141.6 234.8 1141.6 236 1142.7 236C1143.8 236 1145.8 246.4 1147.4 254.9C1149 263.4 1151.7 282 1153.3 292.6C1154.9 303.3 1156.8 317.9 1158 325.7C1159.3 333.5 1160 340.8 1161.6 344.6C1163.2 348.3 1166.9 346.9 1168.7 350.5C1170.4 354 1172.1 362 1173.4 368.2C1174.6 374.3 1175.7 384.6 1176.9 391.7C1178.2 398.9 1180.2 415.6 1181.6 415.6C1183.1 415.6 1184.8 400.3 1186.4 391.7C1188 383.2 1190.5 367.2 1192.3 358.7C1194 350.2 1196.6 339.4 1198.2 335.1C1199.7 330.9 1201.3 330.4 1202.9 330.4C1204.5 330.4 1207 331.6 1208.8 331.6C1210.5 331.6 1213.1 319.6 1214.7 316.2C1216.3 312.9 1217.8 309.2 1219.4 309.2C1221 309.2 1223.5 319.4 1225.3 323.3C1227.1 327.2 1229.2 332.3 1231.2 335.1C1233.1 337.9 1236.1 340.3 1238.3 342.2C1240.4 344.1 1243.6 348.1 1245.3 348.1C1247.1 348.1 1248.7 337.5 1250.1 332.8C1251.5 328 1253.7 318.9 1254.8 316.2C1255.8 313.6 1256.3 315.1 1257.1 315.1C1258 315.1 1259.6 334.8 1260.7 344.6C1261.7 354.3 1263.2 371.5 1264.2 380C1265.3 388.4 1266.5 401.2 1267.8 401.2C1269 401.2 1271.2 390.6 1272.5 387C1273.7 383.5 1274.8 377.6 1276 377.6C1277.3 377.6 1279.5 384.9 1280.7 387C1282 389.2 1283 391.7 1284.3 391.7C1285.5 391.7 1287.4 384.9 1289 380C1290.6 375 1293.1 364.7 1294.9 358.7C1296.7 352.7 1299.2 343.6 1300.8 339.8C1302.4 336.1 1304.4 333.9 1305.5 333.9C1306.6 333.9 1307.4 342.1 1308 352C1308.6 361.9 1309 385.3 1309.3 400C1309.6 414.7 1309.8 438.3 1310.2 450C1310.6 461.7 1310.8 472.3 1312 478C1313.2 483.7 1314.6 486.2 1318 488C1321.4 489.8 1331.4 488.4 1334.8 489.9C1338.2 491.5 1338.7 496.3 1340.7 498.2C1342.6 500.2 1345.3 502.9 1347.8 502.9C1350.2 502.9 1354.5 502.9 1357.2 502.9C1359.8 502.9 1363.2 507.5 1365.5 511.2C1367.8 514.9 1370.8 527.7 1372.5 527.7C1374.3 527.7 1375.8 521.1 1377.2 518.3C1378.7 515.4 1380.4 508.8 1382 508.8C1383.6 508.8 1386.1 518.3 1387.9 518.3C1389.6 518.3 1391.8 508.2 1393.8 504.1C1395.7 500 1399.1 491.1 1400.8 491.1C1402.6 491.1 1404.1 499.9 1405.6 504.1C1407 508.4 1408.7 519.4 1410.3 519.4C1411.9 519.4 1414.2 512.2 1416.2 508.8C1418.1 505.5 1421.3 499.5 1423.3 497C1425.2 494.5 1427.4 492.3 1429.2 492.3C1430.9 492.3 1433.5 497.4 1435.1 499.4C1436.7 501.3 1438.4 505.3 1439.8 505.3C1441.2 505.3 1443.3 497.8 1444.5 495.8C1445.7 493.9 1447.2 492.3 1448 492.3C1448.9 492.3 1449.9 494.8 1450.4 499.4C1450.9 504 1451.2 514.1 1451.6 523C1452 531.8 1452.6 552.8 1453 558.4C1453.4 563.9 1453.8 556.4 1454.3 560C1454.8 563.6 1455.9 575.9 1456.5 582.1C1457.1 588.3 1457.3 597.3 1458 601.3C1458.7 605.3 1459.7 608.7 1461 608.7C1462.3 608.7 1465.1 607.1 1466.9 605.7C1468.7 604.3 1471.5 600.2 1472.8 599.1C1474.1 598 1474.7 598.3 1475.7 598.3C1476.7 598.3 1478.3 601.5 1479.4 604.2C1480.5 606.9 1482.1 613.1 1483.1 616C1484.1 618.9 1483.5 621.1 1486 623.4C1488.5 625.6 1495.2 629 1500 631C1504.8 633 1513 635.3 1518 637C1523 638.7 1530 640 1533.2 642.6C1536.4 645.2 1537.8 650 1539.1 654.4C1540.4 658.8 1541 666.4 1542.1 672.1C1543.2 677.8 1545 687.4 1546.5 692.7C1548 698 1550.4 704.2 1552.4 707.5C1554.4 710.8 1557.6 713.2 1559.8 714.9C1562 716.6 1564.9 717.7 1567.2 718.6C1569.5 719.5 1573.1 720.8 1575.3 720.8C1577.5 720.8 1580 717.3 1581.9 714.9C1583.8 712.5 1586.3 706.7 1587.8 704.5C1589.3 702.3 1590.9 700.1 1592.2 700.1C1593.5 700.1 1595.6 706.3 1596.7 709C1597.8 711.7 1598.5 717.8 1599.6 717.8C1600.7 717.8 1602.7 706.9 1604 701.6C1605.3 696.3 1607.3 685.9 1608.5 682.4C1609.7 678.9 1610.9 678 1612.2 678C1613.5 678 1615.6 683.9 1617.3 686.8C1619 689.7 1621.4 695 1623.2 697.2C1625 699.4 1627.6 701.6 1629.1 701.6C1630.6 701.6 1632.2 696.7 1633.5 692.7C1634.8 688.7 1636.8 679.6 1638 675C1639.2 670.4 1640.4 661.8 1641.7 661.8C1643 661.8 1645.1 664.2 1646.8 666.2C1648.5 668.2 1650.7 672.8 1652.7 675C1654.7 677.2 1657.9 679.3 1660.1 680.9C1662.3 682.5 1665.7 682.7 1667.5 685.4C1669.3 688.1 1670.6 694.2 1671.9 698.6C1673.2 703 1675 711.1 1676.3 714.9C1677.6 718.7 1679.2 721.5 1680.7 723.7C1682.2 725.9 1685 729.6 1686.6 729.6C1688.2 729.6 1689.8 724.9 1691.1 722.2C1692.4 719.5 1694.2 714 1695.5 711.9C1696.8 709.8 1698.6 708.2 1699.9 708.2C1701.2 708.2 1703 708.7 1704.3 710.4C1705.6 712.1 1707.5 715.8 1708.8 719.3C1710.1 722.8 1711.9 730.5 1713.2 734C1714.5 737.5 1716.3 742.9 1717.6 742.9C1718.9 742.9 1720.9 741.4 1722 741.4C1723.1 741.4 1724 744.1 1725 745.8C1726 747.5 1727.7 748.3 1728.8 753C1729.9 757.7 1731.2 769.1 1732.4 776.9C1733.6 784.7 1735.7 798.5 1737.1 805.2C1738.5 811.9 1740.4 818.3 1741.8 821.8C1743.2 825.3 1744.9 828.8 1746.5 828.8C1748.1 828.8 1750.6 825.5 1752.4 824.1C1754.2 822.7 1756.3 821 1758.3 819.4C1760.2 817.8 1763.3 816 1765.4 813.5C1767.5 811 1770.4 806.8 1772.5 802.9C1774.6 799 1777.6 790.9 1779.6 787.5C1781.5 784.1 1783.6 780.5 1785.5 780.5C1787.4 780.5 1790.2 783.4 1792.5 785.2C1794.8 787 1798.1 790.7 1800.8 792.3C1803.5 793.9 1807.4 794.5 1810.2 795.8C1813 797.1 1817.6 801 1819.7 801C1821.8 801 1823 795.4 1824.4 791.1C1825.8 786.8 1827.7 778.4 1829.1 772.2C1830.5 766 1832.2 754.8 1833.8 750C1835.4 745.2 1837.9 740.4 1839.6 740.4C1841.3 740.4 1843.7 741.4 1845.3 742.3C1846.9 743.2 1848.7 746.2 1850.1 746.2C1851.5 746.2 1853.5 741.8 1854.9 740.4C1856.3 739 1858.3 736.6 1859.7 736.6C1861.1 736.6 1862.9 740.6 1864.5 742.3C1866.1 744 1868.6 748.1 1870.3 748.1C1872 748.1 1874.4 740.8 1876 738.5C1877.6 736.2 1879.4 732.8 1880.8 732.8C1882.2 732.8 1884 740.4 1885.6 740.4C1887.2 740.4 1889.6 738.6 1891.3 736.6C1893 734.6 1895.5 728.9 1897.1 727C1898.7 725.1 1900.2 724.1 1901.9 724.1C1903.6 724.1 1906.4 725.1 1908.6 727C1910.8 728.9 1914 733.7 1916.3 736.6C1918.6 739.5 1921.9 744.5 1923.9 746.2C1925.9 747.9 1928 748.1 1929.7 748.1C1931.4 748.1 1933.8 744.4 1935.4 740.4C1937 736.4 1938.9 728.5 1940.2 721.3C1941.5 714.1 1942.8 702.6 1944 692.5C1945.2 682.4 1946.7 665.7 1947.9 654.2C1949.1 642.7 1950.6 626.4 1951.7 615.8C1952.8 605.2 1954.2 591.9 1955.5 583.3C1956.8 574.7 1958.7 564.1 1960.3 558.3C1961.9 552.5 1964.1 547.9 1966.1 544.9C1968.1 541.9 1971.5 539.9 1973.8 538.2C1976.1 536.5 1979.7 534.3 1981.4 533.4C1983.1 532.5 1984 532.5 1985.3 532.5C1986.6 532.5 1988.6 537.5 1990 539.2C1991.4 540.9 1993.4 544 1994.8 544C1996.2 544 1998.3 537.3 1999.6 535.3C2000.9 533.3 2002.2 530.5 2003.5 530.5C2004.8 530.5 2006.7 534.6 2008.3 537.3C2009.9 540 2012.3 545.8 2014 548.8C2015.7 551.8 2018.1 555.8 2019.8 557.4C2021.5 559 2023.9 559.3 2025.5 559.3C2027.1 559.3 2029.2 556.4 2030.3 554.5C2031.4 552.6 2031.9 552 2033 546.6C2034.1 541.1 2036.3 523.9 2037.7 518.3C2039.1 512.6 2041 508.8 2042.4 508.8C2043.8 508.8 2045.9 519.4 2047.1 523C2048.4 526.5 2049.4 532.4 2050.7 532.4C2051.9 532.4 2054 520.3 2055.4 515.9C2056.8 511.5 2058.5 502.9 2060.1 502.9C2061.7 502.9 2064.2 509.1 2066 511.2C2067.8 513.3 2070.1 517.1 2071.9 517.1C2073.7 517.1 2076 514.7 2077.8 514.7C2079.6 514.7 2081.9 521.6 2083.7 525.3C2085.5 529.1 2087.8 536.7 2089.6 539.5C2091.4 542.3 2093.6 544.2 2095.5 544.2C2097.5 544.2 2100.6 536 2102.6 532.4C2104.5 528.9 2106.7 523.2 2108.5 520.6C2110.3 518.1 2112.6 515.4 2114.4 515.4C2116.2 515.4 2118.5 516.1 2120.3 518.3C2122.1 520.5 2124.4 526.2 2126.2 530.1C2128 534 2130.5 540.7 2132.1 544.2C2133.7 547.8 2135.4 553.7 2136.8 553.7C2138.2 553.7 2139.9 552.8 2141.5 548.9C2143.1 545 2145.8 533.7 2147.4 527.7C2149 521.7 2150.5 513.1 2152.1 508.8C2153.7 504.6 2156.1 499.4 2158 499.4C2160 499.4 2162.8 499.9 2165.1 504.1C2167.4 508.4 2170.9 520.6 2173.4 527.7C2175.9 534.8 2179.7 551.3 2181.6 551.3C2183.6 551.3 2184.9 537.4 2186.4 532.4C2187.8 527.5 2189.8 520.9 2191.1 518.3C2192.3 515.6 2193.6 514.7 2194.6 514.7C2195.7 514.7 2196.9 518.9 2198.2 523C2199.4 527.1 2201.3 537.3 2202.9 541.9C2204.5 546.5 2206.8 551.5 2208.8 553.7C2210.7 555.8 2213.9 553.9 2215.8 556C2217.8 558.1 2220.2 565 2221.7 567.8C2223.3 570.6 2224 573.5 2226.5 574.9C2228.9 576.3 2234.7 577.3 2238.3 577.3C2241.8 577.3 2247.2 575.4 2250.1 574.9C2252.9 574.4 2255 574.1 2257.1 573.7C2259.3 573.4 2262.1 573.1 2264.2 572.5C2266.3 572 2269 571.4 2271.3 570.2C2273.6 568.9 2277.4 564.3 2279.6 564.3C2281.7 564.3 2283.9 568.6 2285.5 570.2C2287.1 571.8 2288.9 574.9 2290.2 574.9C2291.4 574.9 2292.5 561.3 2293.7 556C2295 550.7 2296.8 543.4 2298.4 539.5C2300 535.6 2302.6 530.1 2304.3 530.1C2306.1 530.1 2308.5 534.7 2310.2 537.1C2312 539.6 2314.2 546.6 2316.1 546.6C2318.1 546.6 2321.1 541.4 2323.2 537.1C2325.3 532.9 2328.2 523.9 2330.3 518.3C2332.4 512.6 2335.2 505.8 2337.4 499.4C2339.5 493 2342.3 483.6 2344.4 475.8C2346.6 468 2349.4 456 2351.5 447.5C2353.7 439 2356.1 424.3 2358.6 419.2C2361.1 414 2365.2 417.1 2368 413C2370.9 408.9 2374.7 400.2 2377.5 391.7C2380.3 383.3 2384.1 368.7 2386.9 356.4C2389.8 344 2393.5 324.4 2396.4 309.2C2399.2 293.9 2403.9 266.6 2405.8 254.9C2407.7 243.2 2408.3 236.6 2409.3 231.3C2410.4 226 2411.8 221.8 2412.9 219.5C2413.9 217.2 2415.2 216 2416.4 216C2417.7 216 2419.5 226.2 2421.1 231.3C2422.7 236.4 2425.1 245.9 2427 250.2C2429 254.4 2432.3 259.6 2434.1 259.6C2435.9 259.6 2437.4 252.1 2438.8 247.8C2440.2 243.6 2442.3 231.3 2443.6 231.3C2444.8 231.3 2445.9 236.1 2447.1 238.4C2448.3 240.7 2450.4 246.6 2451.8 246.6C2453.2 246.6 2455.1 236.4 2456.5 231.3C2457.9 226.2 2459.8 216.3 2461.2 212.4C2462.7 208.5 2464.4 205.3 2466 205.3C2467.6 205.3 2470.1 211.8 2471.9 213.6C2473.6 215.4 2476.2 217.1 2477.8 217.1C2479.4 217.1 2481.1 211.3 2482.5 210.1C2483.9 208.8 2485.8 208.9 2487.2 208.9C2488.6 208.9 2490.5 214 2491.9 219.5C2493.3 225 2495.2 238.4 2496.6 245.5C2498.1 252.5 2499.9 266.7 2501.4 266.7C2502.8 266.7 2504.7 261.1 2506.1 257.3C2507.5 253.4 2509.7 243.7 2510.8 240.7C2511.9 237.7 2512.8 237.7 2513.2 237.2" fill="none" stroke="#868686" stroke-width="4.5" stroke-linejoin="round" stroke-linecap="round"/>
<path d="M108.2 1086.4C108.9 1087.1 111.3 1090 112.9 1091.1C114.5 1092.2 117 1093.9 118.8 1093.9C120.5 1093.9 123.1 1093 124.7 1091.6C126.2 1090.2 127.9 1087 129.4 1084.5C130.8 1082.1 132.6 1077.1 134.1 1075.2C135.5 1073.2 137.3 1071.6 138.8 1071.6C140.2 1071.6 141.9 1073.3 143.4 1074C145 1074.7 147 1075.9 149.3 1076.3C151.6 1076.8 155.9 1076.7 158.7 1077C161.5 1077.4 165.6 1078.7 168.1 1078.7C170.6 1078.7 173 1078.4 175.2 1078C177.3 1077.5 180.1 1076.3 182.2 1075.6C184.3 1074.9 187.3 1073.3 189.2 1073.3C191.2 1073.3 193.4 1073.3 195.1 1073.3C196.9 1073.3 199 1075.3 201 1076.3C202.9 1077.3 205.6 1079 208 1079.8C210.5 1080.7 214.3 1081.2 217.4 1081.7C220.6 1082.3 225.6 1082.8 229.2 1083.4C232.7 1084 237.4 1085.2 240.9 1085.7C244.4 1086.2 249.1 1086.5 252.7 1086.9C256.2 1087.2 260.9 1087.7 264.4 1088.1C267.9 1088.4 272.6 1089.2 276.1 1089.2C279.7 1089.2 284.4 1089 287.9 1088.8C291.4 1088.6 296.6 1088.2 299.6 1088.1C302.6 1087.9 305.7 1087.6 307.8 1087.6C310 1087.6 311.8 1089.3 313.7 1090.4C315.7 1091.5 318.6 1093.8 320.8 1095.1C322.9 1096.4 325.7 1098.3 327.8 1099.1C329.9 1099.9 332 1100.5 334.9 1100.5C337.7 1100.5 343.1 1100.5 346.6 1100.5C350.1 1100.5 355.2 1101.5 358.3 1101.5C361.5 1101.5 364.9 1099.8 367.7 1099.8C370.5 1099.8 374.3 1099.8 377.1 1099.8C379.9 1099.8 383.3 1101.7 386.5 1102.2C389.7 1102.6 394.7 1102.4 398.3 1102.9C401.8 1103.3 406.5 1104.5 410 1105.2C413.5 1105.9 418.6 1107.1 421.7 1107.6C424.9 1108 428.3 1108 431.1 1108C434 1108 438.4 1106.9 440.5 1106.9C442.6 1106.9 443.8 1107.1 445.2 1108C446.6 1109 448.5 1112 449.9 1113.2C451.3 1114.4 453.2 1116.3 454.6 1116.3C456 1116.3 457.6 1114.1 459.3 1112.7C461.1 1111.3 464.3 1108.3 466.4 1106.9C468.5 1105.4 471.1 1103.6 473.4 1102.9C475.7 1102.2 479.5 1102.9 481.6 1102.2C483.7 1101.5 485.6 1099.3 487.5 1098.2C489.4 1097 492.8 1094.4 494.6 1094.4C496.3 1094.4 497.7 1094 499.2 1094.6C500.8 1095.3 503.4 1097.4 505.1 1098.6C506.9 1099.8 509.1 1102.6 511 1102.6C512.9 1102.6 515.2 1100.9 518 1100.5C520.9 1100.1 526.3 1100 529.8 1099.8C533.3 1099.6 537.6 1099.1 541.5 1099.1C545.4 1099.1 551.4 1099.8 555.6 1099.8C559.8 1099.8 565.5 1099.8 569.7 1099.8C573.9 1099.8 580.3 1099.5 583.8 1099.1C587.3 1098.8 590.7 1097.9 593.2 1097.5C595.7 1097 598.1 1096.3 600.2 1096.3C602.3 1096.3 605.3 1098.6 607.3 1098.6C609.2 1098.6 611.2 1098.9 613.2 1098.2C615.1 1097.5 618.1 1095.3 620.2 1093.9C622.3 1092.6 625.3 1090 627.2 1089.2C629.2 1088.5 631.2 1088.8 633.1 1088.8C635.1 1088.8 638 1089.9 640.2 1090.4C642.3 1090.9 644.7 1092.1 647.2 1092.1C649.7 1092.1 653.8 1090.8 656.6 1090.4C659.4 1090.1 663.5 1089.9 666 1089.7C668.5 1089.5 670.6 1089.2 673 1089.2C675.5 1089.2 679.6 1091.1 682.4 1091.6C685.3 1092.1 689 1092.8 691.8 1092.8C694.6 1092.8 699.2 1091.8 701.2 1091.8C703.2 1091.8 703 1092.3 705 1092.3C707 1092.3 711.6 1091.5 714.4 1091.1C717.2 1090.8 721.5 1089.9 723.8 1089.9C726.1 1089.9 727.9 1090.6 729.7 1091.6C731.4 1092.6 733.8 1095.3 735.5 1096.8C737.3 1098.2 739.6 1100.2 741.4 1101C743.2 1101.7 745.3 1101.7 747.3 1101.7C749.2 1101.7 752.2 1100 754.3 1098.6C756.4 1097.3 759.3 1094.7 761.4 1092.8C763.5 1090.8 766.3 1087.7 768.4 1085.7C770.5 1083.8 773.7 1082.1 775.5 1079.8C777.2 1077.6 778.7 1074.3 780.2 1070.5C781.6 1066.6 783.4 1058.1 784.8 1054C786.3 1050 788 1046.3 789.5 1043.4C791.1 1040.6 793.8 1037.9 795.4 1035.2C797 1032.6 798.5 1028.5 800.1 1025.8C801.7 1023.2 804.2 1019.2 806 1017.6C807.7 1016 810.1 1015.3 811.9 1015.3C813.6 1015.3 815.8 1016 817.7 1016.9C819.7 1017.8 822.5 1019.9 824.8 1021.1C827.1 1022.4 830.7 1024 833 1025.4C835.3 1026.8 838.1 1029 840 1030.5C842 1032.1 843.8 1034.3 845.9 1035.7C848 1037.1 851.7 1039 854.1 1039.9C856.6 1040.8 860.2 1041.8 862.4 1041.8C864.5 1041.8 866.6 1039.1 868.2 1037.6C869.8 1036.1 871.3 1032.8 872.9 1031.7C874.5 1030.6 876.7 1030.8 878.8 1030.5C880.9 1030.3 884.5 1030.7 887 1030.1C889.5 1029.4 892.9 1027.6 895.2 1026.3C897.5 1025 900.7 1023.3 902.3 1021.1C903.9 1019 904.8 1015.5 905.8 1011.7C906.8 1008 908.1 1000.1 909.1 996.4C910.1 992.6 910.7 988.4 912.6 986.9C914.6 985.4 919.6 987.7 922.1 986.4C924.6 985.2 926.9 981.4 929.2 978.7C931.5 975.9 935.5 971.2 937.4 968C939.4 964.9 940.9 961.3 942.1 957.4C943.4 953.5 944.4 947.2 945.7 942.1C946.9 937 949 926.9 950.4 923.2C951.8 919.5 953.3 918.7 955.1 917.3C956.9 915.9 960.1 915.7 962.2 913.8C964.3 911.8 967.3 908.2 969.3 904.3C971.2 900.4 973.6 892.4 975.2 887.8C976.8 883.2 978.5 876.5 979.9 873.7C981.3 870.8 983.2 870.2 984.6 868.9C986 867.7 987.9 867.9 989.3 865.4C990.7 862.9 992.6 856 994.1 852.4C995.5 848.9 997.4 843.6 998.8 841.8C1000.2 840 1001.9 840.5 1003.5 840.1C1005.1 839.8 1007.1 840.1 1009.4 839.4C1011.7 838.8 1016.5 837.8 1018.8 835.9C1021.1 834 1023 828.6 1024.7 826.5C1026.5 824.3 1028.7 821.7 1030.6 821.7C1032.6 821.7 1035.6 822.6 1037.7 823.6C1039.8 824.7 1042.7 827.2 1044.8 828.8C1046.9 830.5 1050.1 833.7 1051.9 834.7C1053.6 835.8 1055.2 835.9 1056.6 835.9C1058 835.9 1059.9 830.8 1061.3 828.8C1062.7 826.9 1063.9 824.5 1066 822.9C1068.1 821.3 1073 820.2 1075.5 818.2C1077.9 816.3 1080.6 812.1 1082.5 809.9C1084.5 807.8 1086.7 805.3 1088.4 804C1090.2 802.8 1092.7 801.7 1094.3 801.7C1095.9 801.7 1097.5 803.2 1099.1 804C1100.6 804.9 1103.4 807.6 1105 807.6C1106.5 807.6 1108.4 805.8 1109.7 805.2C1110.9 804.7 1112 804 1113.2 804C1114.5 804 1116.3 806.4 1117.9 807.6C1119.5 808.8 1122.1 811.8 1123.8 811.8C1125.6 811.8 1128 810.1 1129.7 808.8C1131.5 807.4 1134 804.8 1135.6 802.9C1137.2 800.9 1139.2 797.1 1140.3 795.8C1141.5 794.4 1142.2 793.9 1143.4 793.9C1144.7 793.9 1146.9 796.3 1148.6 798.1C1150.3 800 1152.7 803.6 1154.5 806.4C1156.3 809.2 1158.5 814.4 1160.4 817C1162.4 819.7 1165 822.3 1167.5 824.1C1170 825.9 1174.1 827.8 1176.9 828.8C1179.8 829.8 1183.9 830.7 1186.4 830.7C1188.8 830.7 1191.5 829.8 1193.4 828.8C1195.4 827.8 1197.7 826.1 1199.3 824.1C1200.9 822.2 1202.5 818.5 1204.1 815.8C1205.6 813.2 1207.8 808 1210 806.4C1212.1 804.8 1216.1 805.9 1218.2 805.2C1220.3 804.5 1222 803.3 1224.1 801.7C1226.2 800.1 1230.1 796.5 1232.4 794.6C1234.7 792.7 1237.1 789.2 1239.5 789.2C1241.8 789.2 1245.2 791.5 1247.7 791.5C1250.2 791.5 1254.2 789.9 1256 789.9C1257.7 789.9 1258.3 790.7 1259.5 792.2C1260.7 793.8 1262.8 798.4 1264.2 800.5C1265.6 802.6 1267.2 806.4 1268.9 806.4C1270.7 806.4 1273.5 805.7 1276 805.7C1278.5 805.7 1283 806.4 1285.5 806.4C1287.9 806.4 1290.8 802.9 1292.5 801.7C1294.3 800.5 1295.5 799.3 1297.3 798.6C1299 797.9 1302.4 797.7 1304.3 797C1306.3 796.2 1308.4 795 1310 793.4C1311.6 791.8 1313.5 789.5 1314.7 786.3C1316 783.2 1317.2 777.1 1318.3 772.2C1319.3 767.2 1320.6 757 1321.8 753.3C1323 749.6 1324.4 748.5 1326.5 747.4C1328.6 746.4 1333.1 746.6 1336 746.2C1338.8 745.9 1342.6 745.1 1345.4 745.1C1348.2 745.1 1352.2 745.2 1354.8 745.8C1357.5 746.3 1360.8 748.6 1363.1 748.6C1365.4 748.6 1368.4 746.7 1370.2 746.7C1371.9 746.7 1373.3 747.8 1374.9 748.6C1376.5 749.4 1378.8 752.1 1380.8 752.1C1382.7 752.1 1385 751.9 1387.9 751.4C1390.7 751 1396.5 749.6 1399.7 749.1C1402.9 748.6 1406.3 748.6 1409.1 748.1C1411.9 747.6 1415.7 745.8 1418.5 745.8C1421.4 745.8 1425 746.4 1428 746.7C1431 747 1436.1 746.7 1438.6 747.9C1441.1 749.1 1442.6 752.4 1444.5 754.5C1446.4 756.5 1449.5 759.6 1451.6 761.6C1453.7 763.5 1456.5 765.2 1458.7 767.5C1460.8 769.8 1463.6 774.3 1465.7 776.9C1467.9 779.6 1470.7 782.9 1472.8 785.2C1474.9 787.5 1477.8 790.7 1479.9 792.2C1482 793.8 1484.8 795 1487 795.8C1489.1 796.6 1491.9 797.7 1494 797.7C1496.2 797.7 1499.4 796.2 1501.1 795.8C1502.9 795.3 1504.3 794.6 1505.8 794.6C1507.4 794.6 1510 798.9 1511.7 800.5C1513.5 802.1 1515.3 803.8 1517.6 805.2C1519.9 806.6 1524.3 808.6 1527.1 809.9C1529.9 811.3 1533.7 812.8 1536.5 814.2C1539.4 815.6 1543.1 818.1 1546 819.4C1548.8 820.7 1552.9 822 1555.4 822.9C1557.9 823.8 1560.5 823.9 1562.5 825.3C1564.4 826.7 1566.6 830.2 1568.4 832.4C1570.1 834.5 1572.3 837.3 1574.3 839.4C1576.2 841.6 1579.1 845.3 1581.4 846.5C1583.7 847.8 1587.5 846.8 1589.6 847.7C1591.7 848.6 1593.4 850.8 1595.5 852.4C1597.6 854 1600.9 857.1 1603.8 858.3C1606.6 859.6 1611.4 860 1614.4 860.7C1617.4 861.4 1621.3 862.4 1623.8 863C1626.3 863.6 1627.7 864.3 1630.9 864.7C1634.1 865 1640.8 865.2 1645.1 865.4C1649.3 865.6 1655.3 865.9 1659.2 866.1C1663.1 866.3 1667.5 866.6 1671 866.6C1674.6 866.6 1679.3 865.7 1682.8 865.4C1686.4 865.1 1692 864.7 1694.6 864.7C1697.3 864.7 1698.6 867.4 1700.5 868.9C1702.5 870.5 1704.9 874.8 1707.6 874.8C1710.2 874.8 1714.5 874.3 1718.2 874.1C1721.9 873.9 1728.5 873.7 1732.4 873.7C1736.3 873.7 1741 873.8 1744.2 874.1C1747.4 874.5 1751.1 874.8 1753.6 876C1756.1 877.2 1758.4 880 1760.7 881.9C1763 883.9 1766.6 887.4 1768.9 889C1771.2 890.6 1774.1 891.9 1776 892.5C1778 893.1 1779.3 892.5 1781.9 893C1784.6 893.5 1790.5 895.3 1793.7 896.1C1796.9 896.9 1800.7 898.4 1803.2 898.4C1805.6 898.4 1808.3 897.7 1810.2 897.7C1812.2 897.7 1814.5 901 1816.1 902C1817.7 903 1819.3 904.3 1820.9 904.3C1822.4 904.3 1825.2 899.8 1826.8 898.4C1828.3 897.1 1830.1 895.4 1831.5 895.4C1832.9 895.4 1834.8 898.2 1836.2 899.1C1837.6 900.1 1839.3 901.5 1840.9 901.5C1842.5 901.5 1845 897.3 1846.8 894.9C1848.6 892.5 1851.1 888.6 1852.7 885.5C1854.3 882.3 1855.8 877 1857.4 873.7C1859 870.3 1861.6 865.5 1863.3 863C1865.1 860.6 1867.3 858.4 1869.2 857.1C1871.2 855.9 1873.5 855.2 1876.3 854.8C1879.1 854.4 1884.6 854.5 1888.1 854.3C1891.6 854.1 1895.9 853.8 1899.9 853.6C1903.9 853.4 1911.3 853.1 1915 853.1C1918.7 853.1 1921.6 854.8 1924.4 856C1927.3 857.1 1930.9 859.5 1933.9 860.7C1936.9 861.8 1942 863.7 1944.5 863.7C1947 863.7 1948.8 862.8 1950.4 862.3C1952 861.8 1953.5 860.4 1955.1 860.4C1956.7 860.4 1959.1 861.9 1961 862.3C1963 862.8 1966.1 863.3 1968.1 863.3C1970 863.3 1972.2 862.5 1974 861.4C1975.8 860.3 1978.3 857.2 1979.9 856C1981.5 854.7 1983.2 852.9 1984.6 852.9C1986 852.9 1987.7 855 1989.3 856C1990.9 856.9 1993.1 859 1995.2 859C1997.4 859 2001 856.7 2003.5 856C2006 855.3 2009.6 855.2 2011.7 854.3C2013.9 853.4 2015.9 851.6 2017.6 850.1C2019.4 848.5 2021.8 844.2 2023.5 844.2C2025.3 844.2 2027.8 845.8 2029.4 845.8C2031 845.8 2032.6 843.6 2034.2 841.8C2035.8 840 2038.1 835.8 2040.1 833.5C2042 831.2 2044.8 828.3 2047.1 826.5C2049.4 824.6 2052.9 822.9 2055.4 821.3C2057.9 819.7 2061.2 817.9 2063.7 815.8C2066.1 813.8 2069.4 810.2 2071.9 807.6C2074.4 804.9 2077.5 801 2080.2 798.1C2082.8 795.3 2087 791.5 2089.6 788.7C2092.3 785.9 2095.4 782.3 2097.9 779.3C2100.3 776.3 2103.8 771.5 2106.1 768.7C2108.4 765.8 2111.1 762.3 2113.2 760.4C2115.3 758.4 2117.8 756.6 2120.3 755.7C2122.8 754.8 2126.9 755.2 2129.7 754.5C2132.6 753.8 2136.5 752.4 2139.2 751C2141.8 749.5 2145.3 747.2 2147.4 745.1C2149.5 742.9 2151.6 739.8 2153.3 736.8C2155.1 733.8 2157.4 729.1 2159.2 725C2161 720.9 2163.3 713.9 2165.1 709.4C2166.9 704.9 2169.2 698.4 2171 695.2C2172.8 692 2174.6 689.4 2176.9 688.2C2179.2 686.9 2183.2 687.5 2186.4 687C2189.5 686.4 2194.6 685.5 2198.2 684.6C2201.7 683.7 2206.8 681.1 2210 681.1C2213.1 681.1 2216.9 683.4 2219.4 683.4C2221.9 683.4 2224 681.2 2226.5 678.7C2228.9 676.2 2233.1 670.1 2235.9 666.9C2238.7 663.7 2242.9 659.8 2245.3 657.5C2247.8 655.2 2250.1 652.8 2252.4 651.6C2254.7 650.3 2258.2 650.8 2260.7 649.2C2263.2 647.6 2266.3 643.3 2268.9 641C2271.6 638.7 2275.5 635.7 2278.4 633.9C2281.2 632.1 2285.3 630.4 2287.8 629.2C2290.3 627.9 2292.8 627 2294.9 625.6C2297 624.2 2299.9 622 2302 619.7C2304.1 617.4 2306.9 612.8 2309.1 610.3C2311.2 607.8 2314 605 2316.1 603.2C2318.3 601.4 2321.1 600.3 2323.2 598.5C2325.3 596.7 2328.2 595.7 2330.3 591.4C2332.4 587.2 2334.9 578.3 2337.4 570.2C2339.8 562 2344.3 546 2346.8 537.1C2349.3 528.3 2351.4 517.9 2353.9 511.2C2356.4 504.5 2360.6 501.5 2363.3 492.3C2366 483.1 2369.5 463.1 2372 450C2374.5 436.9 2377.6 418.5 2380 405C2382.4 391.5 2385.8 372.6 2388 360C2390.2 347.4 2392.9 331.8 2395 321C2397.1 310.2 2400.5 295.1 2402.3 288C2404.1 280.9 2405.4 277.3 2407 273.8C2408.6 270.3 2411.1 268.6 2412.9 264.4C2414.7 260.2 2417 252.6 2418.8 245.5C2420.6 238.4 2422.9 225 2424.7 217.2C2426.5 209.4 2428.8 199.6 2430.6 193.6C2432.4 187.6 2434.6 182 2436.5 177C2438.4 172 2441.7 167.2 2443.6 160.5C2445.5 153.8 2448 138.4 2449.4 132.2C2450.8 126 2451.8 121.9 2453 119.2C2454.2 116.5 2456.1 115.6 2457.7 114.5C2459.3 113.4 2462 114 2463.6 112.1C2465.2 110.1 2466.9 104.3 2468.3 101.5C2469.7 98.7 2471.4 93.3 2473 93.3C2474.6 93.3 2477.3 94 2478.9 94C2480.5 94 2482.1 93.8 2483.7 93.3C2485.3 92.8 2487.8 90.9 2489.6 90.9C2491.4 90.9 2493.9 94.5 2495.5 96.8C2497.1 99.1 2498.8 102.3 2500.2 106.2C2501.6 110.1 2503.7 117.8 2504.9 122.8C2506.1 127.8 2507.5 135.6 2508.4 139.3C2509.3 143 2510.4 146.3 2510.8 147.5" fill="none" stroke="#fff" stroke-width="5" stroke-linejoin="round" stroke-linecap="round"/>
<g opacity="0.95">
<rect x="108.4" y="611.7" width="4.6" height="8.5" fill="#4a7dc2"/>
<rect x="108.4" y="607.7" width="4.6" height="4" fill="#8a97d8"/>
<rect x="108.4" y="599.4" width="4.6" height="8.3" fill="#6db0d3"/>
<rect x="108.4" y="620.2" width="4.6" height="10" fill="#9a9a9a"/>
<rect x="117.9" y="620.2" width="4.6" height="22.1" fill="#9a9a9a"/>
<rect x="117.9" y="642.3" width="4.6" height="15.3" fill="#6db0d3"/>
<rect x="127.5" y="607.6" width="4.6" height="12.6" fill="#4a7dc2"/>
<rect x="127.5" y="601.8" width="4.6" height="5.7" fill="#b4c66c"/>
<rect x="127.5" y="590.4" width="4.6" height="11.4" fill="#8fd0e2"/>
<rect x="127.5" y="620.2" width="4.6" height="5" fill="#9a9a9a"/>
<rect x="137" y="602" width="4.6" height="18.2" fill="#4a7dc2"/>
<rect x="137" y="573.8" width="4.6" height="28.2" fill="#8a97d8"/>
<rect x="137" y="553.7" width="4.6" height="20.2" fill="#6db0d3"/>
<rect x="146.6" y="620.2" width="4.6" height="15.6" fill="#9a9a9a"/>
<rect x="146.6" y="635.8" width="4.6" height="9.8" fill="#6db0d3"/>
<rect x="146.6" y="602.2" width="4.6" height="18" fill="#4a7dc2"/>
<rect x="156.2" y="614.1" width="4.6" height="6.1" fill="#4a7dc2"/>
<rect x="156.2" y="607.3" width="4.6" height="6.9" fill="#b4c66c"/>
<rect x="156.2" y="602.3" width="4.6" height="5" fill="#8fd0e2"/>
<rect x="156.2" y="620.2" width="4.6" height="14" fill="#9a9a9a"/>
<rect x="165.7" y="620.2" width="4.6" height="5.9" fill="#9a9a9a"/>
<rect x="165.7" y="626.1" width="4.6" height="5.7" fill="#b4c66c"/>
<rect x="175.3" y="614.6" width="4.6" height="5.6" fill="#4a7dc2"/>
<rect x="175.3" y="612.8" width="4.6" height="1.8" fill="#8a97d8"/>
<rect x="175.3" y="609.5" width="4.6" height="3.3" fill="#6db0d3"/>
<rect x="175.3" y="620.2" width="4.6" height="8" fill="#9a9a9a"/>
<rect x="184.8" y="611.1" width="4.6" height="9.1" fill="#4a7dc2"/>
<rect x="184.8" y="607.7" width="4.6" height="3.4" fill="#b4c66c"/>
<rect x="184.8" y="600.8" width="4.6" height="6.9" fill="#6db0d3"/>
<rect x="184.8" y="620.2" width="4.6" height="5" fill="#9a9a9a"/>
<rect x="203.9" y="620.2" width="4.6" height="24.7" fill="#9a9a9a"/>
<rect x="203.9" y="644.9" width="4.6" height="18.9" fill="#6db0d3"/>
<rect x="203.9" y="602.2" width="4.6" height="18" fill="#4a7dc2"/>
<rect x="213.5" y="620.2" width="4.6" height="17" fill="#4a7dc2"/>
<rect x="213.5" y="637.2" width="4.6" height="5.3" fill="#9a9a9a"/>
<rect x="213.5" y="610.2" width="4.6" height="10" fill="#4a7dc2"/>
<rect x="223" y="620.2" width="4.6" height="5.1" fill="#4a7dc2"/>
<rect x="223" y="625.3" width="4.6" height="2.7" fill="#9a9a9a"/>
<rect x="232.6" y="620.2" width="4.6" height="7.9" fill="#4a7dc2"/>
<rect x="232.6" y="628.1" width="4.6" height="6.5" fill="#9a9a9a"/>
<rect x="232.6" y="610.2" width="4.6" height="10" fill="#4a7dc2"/>
<rect x="242.1" y="620.2" width="4.6" height="5.6" fill="#4a7dc2"/>
<rect x="242.1" y="625.8" width="4.6" height="3.6" fill="#9a9a9a"/>
<rect x="251.7" y="620.2" width="4.6" height="1.9" fill="#4a7dc2"/>
<rect x="251.7" y="622.1" width="4.6" height="0.9" fill="#9a9a9a"/>
<rect x="261.3" y="620.2" width="4.6" height="2.1" fill="#9a9a9a"/>
<rect x="261.3" y="622.3" width="4.6" height="4.5" fill="#b4c66c"/>
<rect x="261.3" y="615.2" width="4.6" height="5" fill="#4a7dc2"/>
<rect x="270.8" y="620.2" width="4.6" height="5.6" fill="#9a9a9a"/>
<rect x="270.8" y="625.8" width="4.6" height="3.1" fill="#b4c66c"/>
<rect x="280.4" y="620.2" width="4.6" height="1.8" fill="#9a9a9a"/>
<rect x="280.4" y="622" width="4.6" height="0.7" fill="#6db0d3"/>
<rect x="289.9" y="613.5" width="4.6" height="6.7" fill="#4a7dc2"/>
<rect x="289.9" y="601.7" width="4.6" height="11.8" fill="#8a97d8"/>
<rect x="289.9" y="595.8" width="4.6" height="5.9" fill="#6db0d3"/>
<rect x="289.9" y="620.2" width="4.6" height="22" fill="#9a9a9a"/>
<rect x="299.5" y="620.2" width="4.6" height="10.9" fill="#9a9a9a"/>
<rect x="299.5" y="631.1" width="4.6" height="7.6" fill="#b4c66c"/>
<rect x="299.5" y="602.2" width="4.6" height="18" fill="#4a7dc2"/>
<rect x="309" y="620.2" width="4.6" height="1.8" fill="#9a9a9a"/>
<rect x="309" y="622" width="4.6" height="0.9" fill="#6db0d3"/>
<rect x="318.6" y="620.2" width="4.6" height="21.9" fill="#4a7dc2"/>
<rect x="318.6" y="642.1" width="4.6" height="6.5" fill="#9a9a9a"/>
<rect x="328.1" y="620.2" width="4.6" height="8.6" fill="#9a9a9a"/>
<rect x="328.1" y="628.8" width="4.6" height="17.5" fill="#6db0d3"/>
<rect x="328.1" y="615.2" width="4.6" height="5" fill="#4a7dc2"/>
<rect x="337.7" y="618.4" width="4.6" height="1.8" fill="#4a7dc2"/>
<rect x="337.7" y="616.5" width="4.6" height="2" fill="#8a97d8"/>
<rect x="337.7" y="615.8" width="4.6" height="0.6" fill="#6db0d3"/>
<rect x="337.7" y="620.2" width="4.6" height="3" fill="#9a9a9a"/>
<rect x="347.3" y="620.2" width="4.6" height="1.7" fill="#4a7dc2"/>
<rect x="347.3" y="621.9" width="4.6" height="2.7" fill="#9a9a9a"/>
<rect x="356.8" y="620.2" width="4.6" height="0.7" fill="#9a9a9a"/>
<rect x="356.8" y="620.9" width="4.6" height="0.3" fill="#6db0d3"/>
<rect x="366.4" y="611.4" width="4.6" height="8.8" fill="#4a7dc2"/>
<rect x="366.4" y="608.3" width="4.6" height="3.1" fill="#8a97d8"/>
<rect x="366.4" y="606.5" width="4.6" height="1.7" fill="#6db0d3"/>
<rect x="366.4" y="620.2" width="4.6" height="8" fill="#9a9a9a"/>
<rect x="375.9" y="620.2" width="4.6" height="1.4" fill="#4a7dc2"/>
<rect x="375.9" y="621.6" width="4.6" height="2.4" fill="#9a9a9a"/>
<rect x="385.5" y="620.2" width="4.6" height="13.2" fill="#4a7dc2"/>
<rect x="385.5" y="633.4" width="4.6" height="18.4" fill="#9a9a9a"/>
<rect x="385.5" y="602.2" width="4.6" height="18" fill="#4a7dc2"/>
<rect x="395" y="619.4" width="4.6" height="0.8" fill="#4a7dc2"/>
<rect x="395" y="618.2" width="4.6" height="1.2" fill="#b4c66c"/>
<rect x="395" y="617" width="4.6" height="1.2" fill="#8fd0e2"/>
<rect x="395" y="620.2" width="4.6" height="3" fill="#9a9a9a"/>
<rect x="404.6" y="620.2" width="4.6" height="8.8" fill="#9a9a9a"/>
<rect x="404.6" y="629" width="4.6" height="6.3" fill="#6db0d3"/>
<rect x="404.6" y="610.2" width="4.6" height="10" fill="#4a7dc2"/>
<rect x="414.1" y="620.2" width="4.6" height="11.7" fill="#9a9a9a"/>
<rect x="414.1" y="631.9" width="4.6" height="3.9" fill="#6db0d3"/>
<rect x="414.1" y="615.2" width="4.6" height="5" fill="#4a7dc2"/>
<rect x="423.7" y="620.2" width="4.6" height="5.6" fill="#4a7dc2"/>
<rect x="423.7" y="625.8" width="4.6" height="5.6" fill="#9a9a9a"/>
<rect x="423.7" y="615.2" width="4.6" height="5" fill="#4a7dc2"/>
<rect x="433.2" y="615.8" width="4.6" height="4.4" fill="#4a7dc2"/>
<rect x="433.2" y="611.2" width="4.6" height="4.6" fill="#b4c66c"/>
<rect x="433.2" y="604.4" width="4.6" height="6.8" fill="#8fd0e2"/>
<rect x="433.2" y="620.2" width="4.6" height="14" fill="#9a9a9a"/>
<rect x="442.8" y="620.2" width="4.6" height="0.6" fill="#4a7dc2"/>
<rect x="442.8" y="620.8" width="4.6" height="0.7" fill="#9a9a9a"/>
<rect x="452.4" y="620.2" width="4.6" height="22" fill="#4a7dc2"/>
<rect x="452.4" y="642.2" width="4.6" height="36.6" fill="#9a9a9a"/>
<rect x="452.4" y="610.2" width="4.6" height="10" fill="#4a7dc2"/>
<rect x="461.9" y="607.1" width="4.6" height="13.1" fill="#4a7dc2"/>
<rect x="461.9" y="593.4" width="4.6" height="13.7" fill="#8a97d8"/>
<rect x="461.9" y="573.2" width="4.6" height="20.2" fill="#6db0d3"/>
<rect x="461.9" y="620.2" width="4.6" height="10" fill="#9a9a9a"/>
<rect x="471.5" y="605.9" width="4.6" height="14.3" fill="#4a7dc2"/>
<rect x="471.5" y="593.4" width="4.6" height="12.5" fill="#b4c66c"/>
<rect x="471.5" y="579.5" width="4.6" height="13.9" fill="#8fd0e2"/>
<rect x="471.5" y="620.2" width="4.6" height="14" fill="#9a9a9a"/>
<rect x="481" y="620.2" width="4.6" height="2" fill="#9a9a9a"/>
<rect x="481" y="622.2" width="4.6" height="3.5" fill="#6db0d3"/>
<rect x="481" y="615.2" width="4.6" height="5" fill="#4a7dc2"/>
<rect x="490.6" y="598.1" width="4.6" height="22.1" fill="#4a7dc2"/>
<rect x="490.6" y="584.3" width="4.6" height="13.7" fill="#b4c66c"/>
<rect x="490.6" y="561.2" width="4.6" height="23.2" fill="#6db0d3"/>
<rect x="490.6" y="620.2" width="4.6" height="22" fill="#9a9a9a"/>
<rect x="500.1" y="613.7" width="4.6" height="6.5" fill="#4a7dc2"/>
<rect x="500.1" y="608.5" width="4.6" height="5.3" fill="#8a97d8"/>
<rect x="500.1" y="605.6" width="4.6" height="2.9" fill="#6db0d3"/>
<rect x="500.1" y="620.2" width="4.6" height="10" fill="#9a9a9a"/>
<rect x="509.7" y="620.2" width="4.6" height="24.4" fill="#9a9a9a"/>
<rect x="509.7" y="644.6" width="4.6" height="7.1" fill="#b4c66c"/>
<rect x="519.2" y="611.9" width="4.6" height="8.3" fill="#4a7dc2"/>
<rect x="519.2" y="608.4" width="4.6" height="3.5" fill="#8a97d8"/>
<rect x="519.2" y="606.8" width="4.6" height="1.7" fill="#6db0d3"/>
<rect x="519.2" y="620.2" width="4.6" height="3" fill="#9a9a9a"/>
<rect x="528.8" y="620.2" width="4.6" height="13.5" fill="#9a9a9a"/>
<rect x="528.8" y="633.7" width="4.6" height="5" fill="#b4c66c"/>
<rect x="528.8" y="602.2" width="4.6" height="18" fill="#4a7dc2"/>
<rect x="538.4" y="614" width="4.6" height="6.2" fill="#4a7dc2"/>
<rect x="538.4" y="612.1" width="4.6" height="1.9" fill="#8a97d8"/>
<rect x="538.4" y="610" width="4.6" height="2.1" fill="#6db0d3"/>
<rect x="538.4" y="620.2" width="4.6" height="8" fill="#9a9a9a"/>
<rect x="547.9" y="620.2" width="4.6" height="6.7" fill="#9a9a9a"/>
<rect x="547.9" y="626.9" width="4.6" height="5" fill="#b4c66c"/>
<rect x="547.9" y="610.2" width="4.6" height="10" fill="#4a7dc2"/>
<rect x="557.5" y="620.2" width="4.6" height="11.1" fill="#9a9a9a"/>
<rect x="557.5" y="631.3" width="4.6" height="4.6" fill="#6db0d3"/>
<rect x="557.5" y="610.2" width="4.6" height="10" fill="#4a7dc2"/>
<rect x="567" y="620.2" width="4.6" height="0.6" fill="#9a9a9a"/>
<rect x="567" y="620.8" width="4.6" height="0.2" fill="#b4c66c"/>
<rect x="576.6" y="617.6" width="4.6" height="2.6" fill="#4a7dc2"/>
<rect x="576.6" y="615.4" width="4.6" height="2.2" fill="#b4c66c"/>
<rect x="576.6" y="614.3" width="4.6" height="1.1" fill="#8fd0e2"/>
<rect x="576.6" y="620.2" width="4.6" height="5" fill="#9a9a9a"/>
<rect x="595.7" y="604.3" width="4.6" height="15.9" fill="#4a7dc2"/>
<rect x="595.7" y="593.1" width="4.6" height="11.1" fill="#b4c66c"/>
<rect x="595.7" y="590" width="4.6" height="3.2" fill="#8fd0e2"/>
<rect x="595.7" y="620.2" width="4.6" height="22" fill="#9a9a9a"/>
<rect x="605.2" y="620.2" width="4.6" height="20.2" fill="#9a9a9a"/>
<rect x="605.2" y="640.4" width="4.6" height="5.2" fill="#6db0d3"/>
<rect x="605.2" y="602.2" width="4.6" height="18" fill="#4a7dc2"/>
<rect x="614.8" y="613.5" width="4.6" height="6.7" fill="#4a7dc2"/>
<rect x="614.8" y="604.7" width="4.6" height="8.8" fill="#b4c66c"/>
<rect x="614.8" y="597" width="4.6" height="7.6" fill="#8fd0e2"/>
<rect x="614.8" y="620.2" width="4.6" height="10" fill="#9a9a9a"/>
<rect x="624.3" y="600.3" width="4.6" height="19.9" fill="#4a7dc2"/>
<rect x="624.3" y="585.3" width="4.6" height="15" fill="#b4c66c"/>
<rect x="624.3" y="580.3" width="4.6" height="5" fill="#8fd0e2"/>
<rect x="624.3" y="620.2" width="4.6" height="10" fill="#9a9a9a"/>
<rect x="633.9" y="618.1" width="4.6" height="2.1" fill="#4a7dc2"/>
<rect x="633.9" y="616.7" width="4.6" height="1.4" fill="#b4c66c"/>
<rect x="633.9" y="616.1" width="4.6" height="0.6" fill="#6db0d3"/>
<rect x="643.5" y="620.2" width="4.6" height="12.1" fill="#4a7dc2"/>
<rect x="643.5" y="632.3" width="4.6" height="21.6" fill="#9a9a9a"/>
<rect x="643.5" y="602.2" width="4.6" height="18" fill="#4a7dc2"/>
<rect x="653" y="617.4" width="4.6" height="2.8" fill="#4a7dc2"/>
<rect x="653" y="613.4" width="4.6" height="4" fill="#b4c66c"/>
<rect x="653" y="611.6" width="4.6" height="1.8" fill="#6db0d3"/>
<rect x="653" y="620.2" width="4.6" height="5" fill="#9a9a9a"/>
<rect x="662.6" y="613" width="4.6" height="7.2" fill="#4a7dc2"/>
<rect x="662.6" y="610.2" width="4.6" height="2.8" fill="#b4c66c"/>
<rect x="662.6" y="608.8" width="4.6" height="1.4" fill="#8fd0e2"/>
<rect x="662.6" y="620.2" width="4.6" height="10" fill="#9a9a9a"/>
<rect x="672.1" y="620.2" width="4.6" height="4" fill="#4a7dc2"/>
<rect x="672.1" y="624.2" width="4.6" height="2" fill="#9a9a9a"/>
<rect x="672.1" y="615.2" width="4.6" height="5" fill="#4a7dc2"/>
<rect x="681.7" y="620.2" width="4.6" height="9.5" fill="#4a7dc2"/>
<rect x="681.7" y="629.7" width="4.6" height="2.4" fill="#9a9a9a"/>
<rect x="691.2" y="620.2" width="4.6" height="9" fill="#9a9a9a"/>
<rect x="691.2" y="629.2" width="4.6" height="15.1" fill="#6db0d3"/>
<rect x="691.2" y="602.2" width="4.6" height="18" fill="#4a7dc2"/>
<rect x="700.8" y="611" width="4.6" height="9.2" fill="#4a7dc2"/>
<rect x="700.8" y="602.7" width="4.6" height="8.3" fill="#8a97d8"/>
<rect x="700.8" y="596.5" width="4.6" height="6.1" fill="#6db0d3"/>
<rect x="700.8" y="620.2" width="4.6" height="22" fill="#9a9a9a"/>
<rect x="710.3" y="620.2" width="4.6" height="0" fill="#9a9a9a"/>
<rect x="710.3" y="620.2" width="4.6" height="0" fill="#6db0d3"/>
<rect x="719.9" y="614.9" width="4.6" height="5.3" fill="#4a7dc2"/>
<rect x="719.9" y="613.3" width="4.6" height="1.7" fill="#8a97d8"/>
<rect x="719.9" y="611.7" width="4.6" height="1.5" fill="#6db0d3"/>
<rect x="729.5" y="620.2" width="4.6" height="9.6" fill="#4a7dc2"/>
<rect x="729.5" y="629.8" width="4.6" height="3.9" fill="#9a9a9a"/>
<rect x="739" y="620.2" width="4.6" height="19.5" fill="#4a7dc2"/>
<rect x="739" y="639.7" width="4.6" height="24.1" fill="#9a9a9a"/>
<rect x="748.6" y="620.2" width="4.6" height="4.7" fill="#4a7dc2"/>
<rect x="748.6" y="624.9" width="4.6" height="6.2" fill="#9a9a9a"/>
<rect x="758.1" y="594.9" width="4.6" height="25.3" fill="#4a7dc2"/>
<rect x="758.1" y="587.6" width="4.6" height="7.3" fill="#b4c66c"/>
<rect x="758.1" y="585.2" width="4.6" height="2.4" fill="#8fd0e2"/>
<rect x="758.1" y="620.2" width="4.6" height="4" fill="#9a9a9a"/>
<rect x="767.7" y="564.2" width="4.6" height="56" fill="#4a7dc2"/>
<rect x="767.7" y="555.7" width="4.6" height="8.5" fill="#8a97d8"/>
<rect x="767.7" y="547.5" width="4.6" height="8.1" fill="#6db0d3"/>
<rect x="767.7" y="620.2" width="4.6" height="22" fill="#9a9a9a"/>
<rect x="777.2" y="573.6" width="4.6" height="46.6" fill="#4a7dc2"/>
<rect x="777.2" y="552" width="4.6" height="21.6" fill="#b4c66c"/>
<rect x="777.2" y="534.7" width="4.6" height="17.3" fill="#8fd0e2"/>
<rect x="777.2" y="620.2" width="4.6" height="16" fill="#9a9a9a"/>
<rect x="786.8" y="482" width="4.6" height="138.2" fill="#4a7dc2"/>
<rect x="786.8" y="437.7" width="4.6" height="44.2" fill="#8a97d8"/>
<rect x="786.8" y="417.7" width="4.6" height="20.1" fill="#6db0d3"/>
<rect x="786.8" y="620.2" width="4.6" height="10" fill="#9a9a9a"/>
<rect x="796.3" y="549" width="4.6" height="71.2" fill="#4a7dc2"/>
<rect x="796.3" y="522.7" width="4.6" height="26.3" fill="#b4c66c"/>
<rect x="796.3" y="509.4" width="4.6" height="13.4" fill="#8fd0e2"/>
<rect x="796.3" y="620.2" width="4.6" height="4" fill="#9a9a9a"/>
<rect x="805.9" y="541.3" width="4.6" height="78.9" fill="#4a7dc2"/>
<rect x="805.9" y="522.6" width="4.6" height="18.7" fill="#b4c66c"/>
<rect x="805.9" y="508.2" width="4.6" height="14.4" fill="#8fd0e2"/>
<rect x="805.9" y="620.2" width="4.6" height="16" fill="#9a9a9a"/>
<rect x="815.4" y="606.1" width="4.6" height="14.1" fill="#4a7dc2"/>
<rect x="815.4" y="598.9" width="4.6" height="7.2" fill="#8a97d8"/>
<rect x="815.4" y="593.7" width="4.6" height="5.2" fill="#6db0d3"/>
<rect x="815.4" y="620.2" width="4.6" height="12" fill="#9a9a9a"/>
<rect x="825" y="620.2" width="4.6" height="16" fill="#9a9a9a"/>
<rect x="825" y="636.2" width="4.6" height="20.5" fill="#6db0d3"/>
<rect x="834.6" y="620.2" width="4.6" height="19.2" fill="#9a9a9a"/>
<rect x="834.6" y="639.4" width="4.6" height="13.8" fill="#6db0d3"/>
<rect x="834.6" y="615.2" width="4.6" height="5" fill="#4a7dc2"/>
<rect x="844.1" y="620.2" width="4.6" height="27" fill="#9a9a9a"/>
<rect x="844.1" y="647.2" width="4.6" height="31.3" fill="#6db0d3"/>
<rect x="844.1" y="615.2" width="4.6" height="5" fill="#4a7dc2"/>
<rect x="853.7" y="620.2" width="4.6" height="14.8" fill="#4a7dc2"/>
<rect x="853.7" y="635" width="4.6" height="22.3" fill="#9a9a9a"/>
<rect x="853.7" y="610.2" width="4.6" height="10" fill="#4a7dc2"/>
<rect x="863.2" y="620.2" width="4.6" height="10.3" fill="#9a9a9a"/>
<rect x="863.2" y="630.5" width="4.6" height="4.3" fill="#b4c66c"/>
<rect x="863.2" y="610.2" width="4.6" height="10" fill="#4a7dc2"/>
<rect x="872.8" y="573.2" width="4.6" height="47" fill="#4a7dc2"/>
<rect x="872.8" y="561.9" width="4.6" height="11.3" fill="#8a97d8"/>
<rect x="872.8" y="558.5" width="4.6" height="3.3" fill="#6db0d3"/>
<rect x="872.8" y="620.2" width="4.6" height="4" fill="#9a9a9a"/>
<rect x="882.3" y="607" width="4.6" height="13.2" fill="#4a7dc2"/>
<rect x="882.3" y="605.4" width="4.6" height="1.6" fill="#8a97d8"/>
<rect x="882.3" y="603" width="4.6" height="2.4" fill="#6db0d3"/>
<rect x="882.3" y="620.2" width="4.6" height="8" fill="#9a9a9a"/>
<rect x="891.9" y="602.2" width="4.6" height="18" fill="#4a7dc2"/>
<rect x="891.9" y="594.1" width="4.6" height="8.1" fill="#b4c66c"/>
<rect x="891.9" y="586.7" width="4.6" height="7.4" fill="#8fd0e2"/>
<rect x="891.9" y="620.2" width="4.6" height="12" fill="#9a9a9a"/>
<rect x="901.4" y="584.3" width="4.6" height="35.9" fill="#4a7dc2"/>
<rect x="901.4" y="575.6" width="4.6" height="8.6" fill="#8a97d8"/>
<rect x="901.4" y="563" width="4.6" height="12.6" fill="#6db0d3"/>
<rect x="911" y="502.8" width="4.6" height="117.4" fill="#4a7dc2"/>
<rect x="911" y="438.6" width="4.6" height="64.2" fill="#8a97d8"/>
<rect x="911" y="405.3" width="4.6" height="33.3" fill="#6db0d3"/>
<rect x="920.6" y="575" width="4.6" height="45.2" fill="#4a7dc2"/>
<rect x="920.6" y="562.7" width="4.6" height="12.3" fill="#b4c66c"/>
<rect x="920.6" y="541.7" width="4.6" height="21" fill="#6db0d3"/>
<rect x="920.6" y="620.2" width="4.6" height="22" fill="#9a9a9a"/>
<rect x="930.1" y="544.3" width="4.6" height="75.9" fill="#4a7dc2"/>
<rect x="930.1" y="533.9" width="4.6" height="10.3" fill="#b4c66c"/>
<rect x="930.1" y="523.6" width="4.6" height="10.4" fill="#8fd0e2"/>
<rect x="930.1" y="620.2" width="4.6" height="12" fill="#9a9a9a"/>
<rect x="939.7" y="534.2" width="4.6" height="86" fill="#4a7dc2"/>
<rect x="939.7" y="519" width="4.6" height="15.2" fill="#b4c66c"/>
<rect x="939.7" y="497.4" width="4.6" height="21.6" fill="#8fd0e2"/>
<rect x="939.7" y="620.2" width="4.6" height="12" fill="#9a9a9a"/>
<rect x="949.2" y="434.9" width="4.6" height="185.3" fill="#4a7dc2"/>
<rect x="949.2" y="377.2" width="4.6" height="57.7" fill="#8a97d8"/>
<rect x="949.2" y="321.9" width="4.6" height="55.3" fill="#6db0d3"/>
<rect x="949.2" y="620.2" width="4.6" height="10" fill="#9a9a9a"/>
<rect x="958.8" y="551.9" width="4.6" height="68.3" fill="#4a7dc2"/>
<rect x="958.8" y="543.5" width="4.6" height="8.4" fill="#b4c66c"/>
<rect x="958.8" y="524.9" width="4.6" height="18.6" fill="#6db0d3"/>
<rect x="958.8" y="620.2" width="4.6" height="8" fill="#9a9a9a"/>
<rect x="968.3" y="538.5" width="4.6" height="81.7" fill="#4a7dc2"/>
<rect x="968.3" y="522.1" width="4.6" height="16.4" fill="#b4c66c"/>
<rect x="968.3" y="505.3" width="4.6" height="16.9" fill="#6db0d3"/>
<rect x="968.3" y="620.2" width="4.6" height="16" fill="#9a9a9a"/>
<rect x="977.9" y="514.2" width="4.6" height="106" fill="#4a7dc2"/>
<rect x="977.9" y="436.5" width="4.6" height="77.8" fill="#8a97d8"/>
<rect x="977.9" y="416.1" width="4.6" height="20.4" fill="#6db0d3"/>
<rect x="977.9" y="620.2" width="4.6" height="6" fill="#9a9a9a"/>
<rect x="987.4" y="536.1" width="4.6" height="84.1" fill="#4a7dc2"/>
<rect x="987.4" y="527.2" width="4.6" height="8.9" fill="#b4c66c"/>
<rect x="987.4" y="510" width="4.6" height="17.2" fill="#8fd0e2"/>
<rect x="987.4" y="620.2" width="4.6" height="32" fill="#9a9a9a"/>
<rect x="997" y="519.5" width="4.6" height="100.7" fill="#4a7dc2"/>
<rect x="997" y="464.7" width="4.6" height="54.8" fill="#8a97d8"/>
<rect x="997" y="438.6" width="4.6" height="26.1" fill="#6db0d3"/>
<rect x="1006.5" y="571.8" width="4.6" height="48.4" fill="#4a7dc2"/>
<rect x="1006.5" y="561.7" width="4.6" height="10.1" fill="#b4c66c"/>
<rect x="1006.5" y="557.6" width="4.6" height="4.1" fill="#6db0d3"/>
<rect x="1006.5" y="620.2" width="4.6" height="32" fill="#9a9a9a"/>
<rect x="1016.1" y="592.3" width="4.6" height="27.9" fill="#4a7dc2"/>
<rect x="1016.1" y="584.4" width="4.6" height="8" fill="#b4c66c"/>
<rect x="1016.1" y="578" width="4.6" height="6.3" fill="#6db0d3"/>
<rect x="1016.1" y="620.2" width="4.6" height="8" fill="#9a9a9a"/>
<rect x="1025.7" y="564.6" width="4.6" height="55.6" fill="#4a7dc2"/>
<rect x="1025.7" y="548.1" width="4.6" height="16.4" fill="#8a97d8"/>
<rect x="1025.7" y="514.6" width="4.6" height="33.5" fill="#6db0d3"/>
<rect x="1025.7" y="620.2" width="4.6" height="12" fill="#9a9a9a"/>
<rect x="1035.2" y="592.1" width="4.6" height="28.1" fill="#4a7dc2"/>
<rect x="1035.2" y="588.4" width="4.6" height="3.7" fill="#b4c66c"/>
<rect x="1035.2" y="583.6" width="4.6" height="4.8" fill="#8fd0e2"/>
<rect x="1035.2" y="620.2" width="4.6" height="22" fill="#9a9a9a"/>
<rect x="1044.8" y="620.2" width="4.6" height="18.7" fill="#4a7dc2"/>
<rect x="1044.8" y="638.9" width="4.6" height="35.6" fill="#9a9a9a"/>
<rect x="1044.8" y="602.2" width="4.6" height="18" fill="#4a7dc2"/>
<rect x="1054.3" y="620.2" width="4.6" height="13.9" fill="#9a9a9a"/>
<rect x="1054.3" y="634.1" width="4.6" height="27.7" fill="#6db0d3"/>
<rect x="1063.9" y="547.1" width="4.6" height="73.1" fill="#4a7dc2"/>
<rect x="1063.9" y="537.7" width="4.6" height="9.4" fill="#b4c66c"/>
<rect x="1063.9" y="528.6" width="4.6" height="9.1" fill="#8fd0e2"/>
<rect x="1063.9" y="620.2" width="4.6" height="12" fill="#9a9a9a"/>
<rect x="1073.4" y="595.1" width="4.6" height="25.1" fill="#4a7dc2"/>
<rect x="1073.4" y="579.5" width="4.6" height="15.6" fill="#8a97d8"/>
<rect x="1073.4" y="571.3" width="4.6" height="8.2" fill="#6db0d3"/>
<rect x="1073.4" y="620.2" width="4.6" height="8" fill="#9a9a9a"/>
<rect x="1083" y="577.4" width="4.6" height="42.8" fill="#4a7dc2"/>
<rect x="1083" y="565.2" width="4.6" height="12.2" fill="#8a97d8"/>
<rect x="1083" y="546.2" width="4.6" height="19" fill="#6db0d3"/>
<rect x="1092.5" y="599.2" width="4.6" height="21" fill="#4a7dc2"/>
<rect x="1092.5" y="594.8" width="4.6" height="4.4" fill="#8a97d8"/>
<rect x="1092.5" y="588.4" width="4.6" height="6.5" fill="#6db0d3"/>
<rect x="1092.5" y="620.2" width="4.6" height="8" fill="#9a9a9a"/>
<rect x="1102.1" y="620.2" width="4.6" height="29.4" fill="#4a7dc2"/>
<rect x="1102.1" y="649.6" width="4.6" height="16.8" fill="#9a9a9a"/>
<rect x="1102.1" y="610.2" width="4.6" height="10" fill="#4a7dc2"/>
<rect x="1111.7" y="590.3" width="4.6" height="29.9" fill="#4a7dc2"/>
<rect x="1111.7" y="583.5" width="4.6" height="6.8" fill="#b4c66c"/>
<rect x="1111.7" y="568.3" width="4.6" height="15.3" fill="#8fd0e2"/>
<rect x="1111.7" y="620.2" width="4.6" height="32" fill="#9a9a9a"/>
<rect x="1121.2" y="620.2" width="4.6" height="34" fill="#4a7dc2"/>
<rect x="1121.2" y="654.2" width="4.6" height="25.1" fill="#9a9a9a"/>
<rect x="1121.2" y="610.2" width="4.6" height="10" fill="#4a7dc2"/>
<rect x="1130.8" y="591.4" width="4.6" height="28.8" fill="#4a7dc2"/>
<rect x="1130.8" y="581" width="4.6" height="10.5" fill="#b4c66c"/>
<rect x="1130.8" y="574.8" width="4.6" height="6.2" fill="#8fd0e2"/>
<rect x="1130.8" y="620.2" width="4.6" height="12" fill="#9a9a9a"/>
<rect x="1140.3" y="552.8" width="4.6" height="67.4" fill="#4a7dc2"/>
<rect x="1140.3" y="526.6" width="4.6" height="26.2" fill="#b4c66c"/>
<rect x="1140.3" y="516.2" width="4.6" height="10.3" fill="#6db0d3"/>
<rect x="1140.3" y="620.2" width="4.6" height="22" fill="#9a9a9a"/>
<rect x="1149.9" y="620.2" width="4.6" height="19.5" fill="#4a7dc2"/>
<rect x="1149.9" y="639.7" width="4.6" height="23.5" fill="#9a9a9a"/>
<rect x="1149.9" y="610.2" width="4.6" height="10" fill="#4a7dc2"/>
<rect x="1159.4" y="620.2" width="4.6" height="42" fill="#9a9a9a"/>
<rect x="1159.4" y="662.2" width="4.6" height="63.2" fill="#6db0d3"/>
<rect x="1169" y="620.2" width="4.6" height="22.9" fill="#9a9a9a"/>
<rect x="1169" y="643.1" width="4.6" height="39" fill="#6db0d3"/>
<rect x="1169" y="602.2" width="4.6" height="18" fill="#4a7dc2"/>
<rect x="1178.5" y="620.2" width="4.6" height="8.3" fill="#9a9a9a"/>
<rect x="1178.5" y="628.5" width="4.6" height="18.8" fill="#b4c66c"/>
<rect x="1188.1" y="620.2" width="4.6" height="3.3" fill="#4a7dc2"/>
<rect x="1188.1" y="623.5" width="4.6" height="5.4" fill="#9a9a9a"/>
<rect x="1188.1" y="615.2" width="4.6" height="5" fill="#4a7dc2"/>
<rect x="1197.6" y="576.2" width="4.6" height="44" fill="#4a7dc2"/>
<rect x="1197.6" y="557.8" width="4.6" height="18.5" fill="#b4c66c"/>
<rect x="1197.6" y="552.7" width="4.6" height="5" fill="#6db0d3"/>
<rect x="1197.6" y="620.2" width="4.6" height="32" fill="#9a9a9a"/>
<rect x="1207.2" y="546.1" width="4.6" height="74.1" fill="#4a7dc2"/>
<rect x="1207.2" y="518.6" width="4.6" height="27.5" fill="#b4c66c"/>
<rect x="1207.2" y="494.1" width="4.6" height="24.4" fill="#8fd0e2"/>
<rect x="1207.2" y="620.2" width="4.6" height="16" fill="#9a9a9a"/>
<rect x="1216.8" y="606.3" width="4.6" height="13.9" fill="#4a7dc2"/>
<rect x="1216.8" y="599.6" width="4.6" height="6.7" fill="#b4c66c"/>
<rect x="1216.8" y="592.5" width="4.6" height="7.2" fill="#8fd0e2"/>
<rect x="1216.8" y="620.2" width="4.6" height="4" fill="#9a9a9a"/>
<rect x="1226.3" y="585" width="4.6" height="35.2" fill="#4a7dc2"/>
<rect x="1226.3" y="577.5" width="4.6" height="7.5" fill="#8a97d8"/>
<rect x="1226.3" y="567.2" width="4.6" height="10.3" fill="#6db0d3"/>
<rect x="1226.3" y="620.2" width="4.6" height="8" fill="#9a9a9a"/>
<rect x="1235.9" y="593.4" width="4.6" height="26.8" fill="#4a7dc2"/>
<rect x="1235.9" y="583.3" width="4.6" height="10.1" fill="#b4c66c"/>
<rect x="1235.9" y="571.8" width="4.6" height="11.5" fill="#8fd0e2"/>
<rect x="1235.9" y="620.2" width="4.6" height="8" fill="#9a9a9a"/>
<rect x="1245.4" y="620.2" width="4.6" height="3.7" fill="#9a9a9a"/>
<rect x="1245.4" y="623.9" width="4.6" height="4.8" fill="#b4c66c"/>
<rect x="1245.4" y="615.2" width="4.6" height="5" fill="#4a7dc2"/>
<rect x="1255" y="617.8" width="4.6" height="2.4" fill="#4a7dc2"/>
<rect x="1255" y="616.8" width="4.6" height="1" fill="#8a97d8"/>
<rect x="1255" y="615.5" width="4.6" height="1.3" fill="#6db0d3"/>
<rect x="1255" y="620.2" width="4.6" height="4" fill="#9a9a9a"/>
<rect x="1264.5" y="620.2" width="4.6" height="44.4" fill="#4a7dc2"/>
<rect x="1264.5" y="664.6" width="4.6" height="44.4" fill="#9a9a9a"/>
<rect x="1274.1" y="620.2" width="4.6" height="3.6" fill="#4a7dc2"/>
<rect x="1274.1" y="623.8" width="4.6" height="4.4" fill="#9a9a9a"/>
<rect x="1283.6" y="620.2" width="4.6" height="8.1" fill="#4a7dc2"/>
<rect x="1283.6" y="628.3" width="4.6" height="3" fill="#9a9a9a"/>
<rect x="1283.6" y="610.2" width="4.6" height="10" fill="#4a7dc2"/>
<rect x="1293.2" y="576.6" width="4.6" height="43.6" fill="#4a7dc2"/>
<rect x="1293.2" y="562.6" width="4.6" height="14.1" fill="#8a97d8"/>
<rect x="1293.2" y="556" width="4.6" height="6.5" fill="#6db0d3"/>
<rect x="1293.2" y="620.2" width="4.6" height="22" fill="#9a9a9a"/>
<rect x="1302.8" y="596.9" width="4.6" height="23.3" fill="#4a7dc2"/>
<rect x="1302.8" y="583.9" width="4.6" height="12.9" fill="#8a97d8"/>
<rect x="1302.8" y="577.4" width="4.6" height="6.6" fill="#6db0d3"/>
<rect x="1302.8" y="620.2" width="4.6" height="22" fill="#9a9a9a"/>
<rect x="1312.3" y="549.5" width="4.6" height="70.7" fill="#4a7dc2"/>
<rect x="1312.3" y="533.8" width="4.6" height="15.7" fill="#b4c66c"/>
<rect x="1312.3" y="525.6" width="4.6" height="8.2" fill="#8fd0e2"/>
<rect x="1312.3" y="620.2" width="4.6" height="22" fill="#9a9a9a"/>
<rect x="1321.9" y="457.1" width="4.6" height="163.1" fill="#4a7dc2"/>
<rect x="1321.9" y="436.3" width="4.6" height="20.8" fill="#8a97d8"/>
<rect x="1321.9" y="400.9" width="4.6" height="35.4" fill="#6db0d3"/>
<rect x="1321.9" y="620.2" width="4.6" height="10" fill="#9a9a9a"/>
<rect x="1331.4" y="577.3" width="4.6" height="42.9" fill="#4a7dc2"/>
<rect x="1331.4" y="562.4" width="4.6" height="14.9" fill="#8a97d8"/>
<rect x="1331.4" y="556.2" width="4.6" height="6.2" fill="#6db0d3"/>
<rect x="1331.4" y="620.2" width="4.6" height="16" fill="#9a9a9a"/>
<rect x="1341" y="616.2" width="4.6" height="4" fill="#4a7dc2"/>
<rect x="1341" y="614.7" width="4.6" height="1.4" fill="#8a97d8"/>
<rect x="1350.5" y="620.2" width="4.6" height="11.7" fill="#4a7dc2"/>
<rect x="1350.5" y="631.9" width="4.6" height="7.2" fill="#9a9a9a"/>
<rect x="1350.5" y="602.2" width="4.6" height="18" fill="#4a7dc2"/>
<rect x="1360.1" y="620.2" width="4.6" height="10.7" fill="#9a9a9a"/>
<rect x="1360.1" y="630.9" width="4.6" height="6.6" fill="#6db0d3"/>
<rect x="1369.6" y="606.7" width="4.6" height="13.5" fill="#4a7dc2"/>
<rect x="1369.6" y="602.5" width="4.6" height="4.1" fill="#8a97d8"/>
<rect x="1369.6" y="599.9" width="4.6" height="2.6" fill="#6db0d3"/>
<rect x="1369.6" y="620.2" width="4.6" height="12" fill="#9a9a9a"/>
<rect x="1379.2" y="620.2" width="4.6" height="23.3" fill="#4a7dc2"/>
<rect x="1379.2" y="643.5" width="4.6" height="13.1" fill="#9a9a9a"/>
<rect x="1379.2" y="610.2" width="4.6" height="10" fill="#4a7dc2"/>
<rect x="1388.7" y="615.8" width="4.6" height="4.4" fill="#4a7dc2"/>
<rect x="1388.7" y="612.7" width="4.6" height="3.1" fill="#b4c66c"/>
<rect x="1388.7" y="611.7" width="4.6" height="0.9" fill="#6db0d3"/>
<rect x="1398.3" y="611.2" width="4.6" height="9" fill="#4a7dc2"/>
<rect x="1398.3" y="608" width="4.6" height="3.2" fill="#b4c66c"/>
<rect x="1398.3" y="606.5" width="4.6" height="1.5" fill="#8fd0e2"/>
<rect x="1398.3" y="620.2" width="4.6" height="6" fill="#9a9a9a"/>
<rect x="1407.9" y="616.5" width="4.6" height="3.7" fill="#4a7dc2"/>
<rect x="1407.9" y="615" width="4.6" height="1.5" fill="#b4c66c"/>
<rect x="1407.9" y="613.1" width="4.6" height="1.9" fill="#8fd0e2"/>
<rect x="1407.9" y="620.2" width="4.6" height="3" fill="#9a9a9a"/>
<rect x="1417.4" y="606.9" width="4.6" height="13.3" fill="#4a7dc2"/>
<rect x="1417.4" y="600.5" width="4.6" height="6.3" fill="#8a97d8"/>
<rect x="1417.4" y="596.8" width="4.6" height="3.8" fill="#6db0d3"/>
<rect x="1417.4" y="620.2" width="4.6" height="10" fill="#9a9a9a"/>
<rect x="1427" y="620.2" width="4.6" height="2.7" fill="#4a7dc2"/>
<rect x="1427" y="622.9" width="4.6" height="1" fill="#9a9a9a"/>
<rect x="1436.5" y="620.2" width="4.6" height="7.4" fill="#9a9a9a"/>
<rect x="1436.5" y="627.6" width="4.6" height="3.4" fill="#b4c66c"/>
<rect x="1446.1" y="620.2" width="4.6" height="17.3" fill="#4a7dc2"/>
<rect x="1446.1" y="637.5" width="4.6" height="33.9" fill="#9a9a9a"/>
<rect x="1455.6" y="620.2" width="4.6" height="21.4" fill="#4a7dc2"/>
<rect x="1455.6" y="641.6" width="4.6" height="13.6" fill="#9a9a9a"/>
<rect x="1465.2" y="620.2" width="4.6" height="33.4" fill="#9a9a9a"/>
<rect x="1465.2" y="653.6" width="4.6" height="28.1" fill="#6db0d3"/>
<rect x="1474.7" y="620.2" width="4.6" height="28.4" fill="#4a7dc2"/>
<rect x="1474.7" y="648.6" width="4.6" height="16.1" fill="#9a9a9a"/>
<rect x="1484.3" y="620.2" width="4.6" height="12.7" fill="#4a7dc2"/>
<rect x="1484.3" y="632.9" width="4.6" height="11.2" fill="#9a9a9a"/>
<rect x="1493.9" y="620.2" width="4.6" height="2.9" fill="#9a9a9a"/>
<rect x="1493.9" y="623.1" width="4.6" height="4.4" fill="#6db0d3"/>
<rect x="1493.9" y="616.2" width="4.6" height="4" fill="#4a7dc2"/>
<rect x="1503.4" y="613.3" width="4.6" height="6.9" fill="#4a7dc2"/>
<rect x="1503.4" y="610.6" width="4.6" height="2.8" fill="#b4c66c"/>
<rect x="1503.4" y="609.5" width="4.6" height="1.1" fill="#8fd0e2"/>
<rect x="1503.4" y="620.2" width="4.6" height="3" fill="#9a9a9a"/>
<rect x="1513" y="620.2" width="4.6" height="17.8" fill="#9a9a9a"/>
<rect x="1513" y="638" width="4.6" height="18.3" fill="#6db0d3"/>
<rect x="1522.5" y="620.2" width="4.6" height="13.5" fill="#4a7dc2"/>
<rect x="1522.5" y="633.7" width="4.6" height="9.4" fill="#9a9a9a"/>
<rect x="1532.1" y="620.2" width="4.6" height="13.5" fill="#4a7dc2"/>
<rect x="1532.1" y="633.7" width="4.6" height="3.9" fill="#9a9a9a"/>
<rect x="1541.6" y="620.2" width="4.6" height="12.2" fill="#4a7dc2"/>
<rect x="1541.6" y="632.4" width="4.6" height="15.6" fill="#9a9a9a"/>
<rect x="1541.6" y="616.2" width="4.6" height="4" fill="#4a7dc2"/>
<rect x="1551.2" y="620.2" width="4.6" height="6.1" fill="#9a9a9a"/>
<rect x="1551.2" y="626.3" width="4.6" height="5.1" fill="#6db0d3"/>
<rect x="1560.7" y="620.2" width="4.6" height="5.8" fill="#9a9a9a"/>
<rect x="1560.7" y="626" width="4.6" height="9.5" fill="#6db0d3"/>
<rect x="1570.3" y="620.2" width="4.6" height="23" fill="#9a9a9a"/>
<rect x="1570.3" y="643.2" width="4.6" height="22.7" fill="#b4c66c"/>
<rect x="1579.8" y="620.2" width="4.6" height="11.5" fill="#4a7dc2"/>
<rect x="1579.8" y="631.7" width="4.6" height="12.1" fill="#9a9a9a"/>
<rect x="1589.4" y="620.2" width="4.6" height="4.7" fill="#4a7dc2"/>
<rect x="1589.4" y="624.9" width="4.6" height="5.4" fill="#9a9a9a"/>
<rect x="1599" y="620.2" width="4.6" height="25.7" fill="#4a7dc2"/>
<rect x="1599" y="645.9" width="4.6" height="7.7" fill="#9a9a9a"/>
<rect x="1608.5" y="620.2" width="4.6" height="5.6" fill="#4a7dc2"/>
<rect x="1608.5" y="625.8" width="4.6" height="7.5" fill="#9a9a9a"/>
<rect x="1618.1" y="620.2" width="4.6" height="4.4" fill="#9a9a9a"/>
<rect x="1618.1" y="624.6" width="4.6" height="8.6" fill="#6db0d3"/>
<rect x="1618.1" y="616.2" width="4.6" height="4" fill="#4a7dc2"/>
<rect x="1627.6" y="620.2" width="4.6" height="4.7" fill="#4a7dc2"/>
<rect x="1627.6" y="624.9" width="4.6" height="5.9" fill="#9a9a9a"/>
<rect x="1637.2" y="612.2" width="4.6" height="8" fill="#4a7dc2"/>
<rect x="1637.2" y="611.3" width="4.6" height="0.9" fill="#b4c66c"/>
<rect x="1637.2" y="610" width="4.6" height="1.3" fill="#8fd0e2"/>
<rect x="1637.2" y="620.2" width="4.6" height="10" fill="#9a9a9a"/>
<rect x="1646.7" y="620.2" width="4.6" height="1.5" fill="#4a7dc2"/>
<rect x="1646.7" y="621.7" width="4.6" height="1.2" fill="#9a9a9a"/>
<rect x="1656.3" y="620.2" width="4.6" height="3.6" fill="#9a9a9a"/>
<rect x="1656.3" y="623.8" width="4.6" height="1.2" fill="#6db0d3"/>
<rect x="1665.8" y="620.2" width="4.6" height="2.9" fill="#9a9a9a"/>
<rect x="1665.8" y="623.1" width="4.6" height="0.9" fill="#6db0d3"/>
<rect x="1675.4" y="615.7" width="4.6" height="4.5" fill="#4a7dc2"/>
<rect x="1675.4" y="612.6" width="4.6" height="3.1" fill="#b4c66c"/>
<rect x="1675.4" y="611.7" width="4.6" height="0.9" fill="#8fd0e2"/>
<rect x="1675.4" y="620.2" width="4.6" height="6" fill="#9a9a9a"/>
<rect x="1685" y="615.9" width="4.6" height="4.3" fill="#4a7dc2"/>
<rect x="1685" y="614.9" width="4.6" height="1" fill="#b4c66c"/>
<rect x="1685" y="614.3" width="4.6" height="0.6" fill="#6db0d3"/>
<rect x="1685" y="620.2" width="4.6" height="3" fill="#9a9a9a"/>
<rect x="1694.5" y="620.2" width="4.6" height="2.8" fill="#9a9a9a"/>
<rect x="1694.5" y="623" width="4.6" height="5.8" fill="#6db0d3"/>
<rect x="1704.1" y="620.2" width="4.6" height="18" fill="#4a7dc2"/>
<rect x="1704.1" y="638.2" width="4.6" height="15.6" fill="#9a9a9a"/>
<rect x="1713.6" y="620.2" width="4.6" height="1.2" fill="#9a9a9a"/>
<rect x="1713.6" y="621.4" width="4.6" height="0.6" fill="#6db0d3"/>
<rect x="1742.3" y="620.2" width="4.6" height="1" fill="#9a9a9a"/>
<rect x="1742.3" y="621.2" width="4.6" height="1.8" fill="#b4c66c"/>
<rect x="1751.8" y="620.2" width="4.6" height="6.7" fill="#9a9a9a"/>
<rect x="1751.8" y="626.9" width="4.6" height="5.5" fill="#6db0d3"/>
<rect x="1761.4" y="620.2" width="4.6" height="13.5" fill="#4a7dc2"/>
<rect x="1761.4" y="633.7" width="4.6" height="12.1" fill="#9a9a9a"/>
<rect x="1770.9" y="620.2" width="4.6" height="6.4" fill="#4a7dc2"/>
<rect x="1770.9" y="626.6" width="4.6" height="10.9" fill="#9a9a9a"/>
<rect x="1780.5" y="620.2" width="4.6" height="2.5" fill="#4a7dc2"/>
<rect x="1780.5" y="622.7" width="4.6" height="2.8" fill="#9a9a9a"/>
<rect x="1790.1" y="620.2" width="4.6" height="4" fill="#9a9a9a"/>
<rect x="1790.1" y="624.2" width="4.6" height="5.3" fill="#b4c66c"/>
<rect x="1799.6" y="620.2" width="4.6" height="4.3" fill="#9a9a9a"/>
<rect x="1799.6" y="624.5" width="4.6" height="4.5" fill="#b4c66c"/>
<rect x="1809.2" y="620.2" width="4.6" height="0.3" fill="#9a9a9a"/>
<rect x="1809.2" y="620.5" width="4.6" height="0.4" fill="#6db0d3"/>
<rect x="1818.7" y="620.2" width="4.6" height="9.8" fill="#4a7dc2"/>
<rect x="1818.7" y="630" width="4.6" height="6.9" fill="#9a9a9a"/>
<rect x="1828.3" y="602.9" width="4.6" height="17.3" fill="#4a7dc2"/>
<rect x="1828.3" y="597.2" width="4.6" height="5.7" fill="#8a97d8"/>
<rect x="1828.3" y="595.1" width="4.6" height="2.1" fill="#6db0d3"/>
<rect x="1828.3" y="620.2" width="4.6" height="10" fill="#9a9a9a"/>
<rect x="1837.8" y="620.2" width="4.6" height="6.1" fill="#4a7dc2"/>
<rect x="1837.8" y="626.3" width="4.6" height="7.9" fill="#9a9a9a"/>
<rect x="1847.4" y="597.4" width="4.6" height="22.8" fill="#4a7dc2"/>
<rect x="1847.4" y="591.2" width="4.6" height="6.1" fill="#8a97d8"/>
<rect x="1847.4" y="583.9" width="4.6" height="7.3" fill="#6db0d3"/>
<rect x="1847.4" y="620.2" width="4.6" height="3" fill="#9a9a9a"/>
<rect x="1856.9" y="577.2" width="4.6" height="43" fill="#4a7dc2"/>
<rect x="1856.9" y="559.8" width="4.6" height="17.4" fill="#b4c66c"/>
<rect x="1856.9" y="551.7" width="4.6" height="8.1" fill="#8fd0e2"/>
<rect x="1866.5" y="588.3" width="4.6" height="31.9" fill="#4a7dc2"/>
<rect x="1866.5" y="582.4" width="4.6" height="5.9" fill="#8a97d8"/>
<rect x="1866.5" y="570.8" width="4.6" height="11.6" fill="#6db0d3"/>
<rect x="1866.5" y="620.2" width="4.6" height="3" fill="#9a9a9a"/>
<rect x="1876.1" y="602.2" width="4.6" height="18" fill="#4a7dc2"/>
<rect x="1876.1" y="600.1" width="4.6" height="2" fill="#8a97d8"/>
<rect x="1876.1" y="597.4" width="4.6" height="2.7" fill="#6db0d3"/>
<rect x="1876.1" y="620.2" width="4.6" height="6" fill="#9a9a9a"/>
<rect x="1885.6" y="620.2" width="4.6" height="0.6" fill="#9a9a9a"/>
<rect x="1885.6" y="620.8" width="4.6" height="1" fill="#b4c66c"/>
<rect x="1895.2" y="612.7" width="4.6" height="7.5" fill="#4a7dc2"/>
<rect x="1895.2" y="610.9" width="4.6" height="1.8" fill="#8a97d8"/>
<rect x="1895.2" y="609.8" width="4.6" height="1.1" fill="#6db0d3"/>
<rect x="1895.2" y="620.2" width="4.6" height="10" fill="#b4c66c"/>
<rect x="1904.7" y="618.4" width="4.6" height="1.8" fill="#4a7dc2"/>
<rect x="1904.7" y="617.2" width="4.6" height="1.2" fill="#8a97d8"/>
<rect x="1904.7" y="616.6" width="4.6" height="0.5" fill="#6db0d3"/>
<rect x="1904.7" y="620.2" width="4.6" height="3" fill="#b4c66c"/>
<rect x="1914.3" y="620.2" width="4.6" height="5" fill="#9a9a9a"/>
<rect x="1914.3" y="625.2" width="4.6" height="1.6" fill="#b4c66c"/>
<rect x="1914.3" y="616.2" width="4.6" height="4" fill="#4a7dc2"/>
<rect x="1923.8" y="620.2" width="4.6" height="9.5" fill="#9a9a9a"/>
<rect x="1923.8" y="629.7" width="4.6" height="2.7" fill="#b4c66c"/>
<rect x="1933.4" y="620.2" width="4.6" height="11.6" fill="#9a9a9a"/>
<rect x="1933.4" y="631.8" width="4.6" height="7.2" fill="#b4c66c"/>
<rect x="1933.4" y="616.2" width="4.6" height="4" fill="#4a7dc2"/>
<rect x="1942.9" y="620.2" width="4.6" height="3.2" fill="#4a7dc2"/>
<rect x="1942.9" y="623.4" width="4.6" height="5.9" fill="#9a9a9a"/>
<rect x="1952.5" y="615" width="4.6" height="5.2" fill="#4a7dc2"/>
<rect x="1952.5" y="613.3" width="4.6" height="1.8" fill="#8a97d8"/>
<rect x="1952.5" y="610.9" width="4.6" height="2.3" fill="#6db0d3"/>
<rect x="1962" y="620.2" width="4.6" height="3.8" fill="#9a9a9a"/>
<rect x="1962" y="624" width="4.6" height="8.9" fill="#b4c66c"/>
<rect x="1962" y="616.2" width="4.6" height="4" fill="#4a7dc2"/>
<rect x="1971.6" y="613.2" width="4.6" height="7" fill="#4a7dc2"/>
<rect x="1971.6" y="611" width="4.6" height="2.3" fill="#8a97d8"/>
<rect x="1971.6" y="608.3" width="4.6" height="2.7" fill="#6db0d3"/>
<rect x="1981.2" y="597.1" width="4.6" height="23.1" fill="#4a7dc2"/>
<rect x="1981.2" y="587.4" width="4.6" height="9.7" fill="#8a97d8"/>
<rect x="1981.2" y="579.9" width="4.6" height="7.5" fill="#6db0d3"/>
<rect x="1990.7" y="620.2" width="4.6" height="10.5" fill="#9a9a9a"/>
<rect x="1990.7" y="630.7" width="4.6" height="14.3" fill="#6db0d3"/>
<rect x="1990.7" y="616.2" width="4.6" height="4" fill="#4a7dc2"/>
<rect x="2000.3" y="612.8" width="4.6" height="7.4" fill="#4a7dc2"/>
<rect x="2000.3" y="611.2" width="4.6" height="1.6" fill="#8a97d8"/>
<rect x="2000.3" y="607.8" width="4.6" height="3.5" fill="#6db0d3"/>
<rect x="2009.8" y="611.1" width="4.6" height="9.1" fill="#4a7dc2"/>
<rect x="2009.8" y="609.1" width="4.6" height="2" fill="#b4c66c"/>
<rect x="2009.8" y="607.2" width="4.6" height="1.9" fill="#6db0d3"/>
<rect x="2019.4" y="592.8" width="4.6" height="27.4" fill="#4a7dc2"/>
<rect x="2019.4" y="583.9" width="4.6" height="8.9" fill="#b4c66c"/>
<rect x="2019.4" y="581.1" width="4.6" height="2.8" fill="#8fd0e2"/>
<rect x="2028.9" y="610.7" width="4.6" height="9.5" fill="#4a7dc2"/>
<rect x="2028.9" y="606.4" width="4.6" height="4.3" fill="#b4c66c"/>
<rect x="2028.9" y="601.6" width="4.6" height="4.8" fill="#8fd0e2"/>
<rect x="2028.9" y="620.2" width="4.6" height="15" fill="#b4c66c"/>
<rect x="2038.5" y="573.3" width="4.6" height="46.9" fill="#4a7dc2"/>
<rect x="2038.5" y="565.4" width="4.6" height="7.8" fill="#b4c66c"/>
<rect x="2038.5" y="553.6" width="4.6" height="11.8" fill="#6db0d3"/>
<rect x="2048" y="586.5" width="4.6" height="33.7" fill="#4a7dc2"/>
<rect x="2048" y="579.4" width="4.6" height="7.2" fill="#8a97d8"/>
<rect x="2048" y="573.6" width="4.6" height="5.8" fill="#6db0d3"/>
<rect x="2057.6" y="597.8" width="4.6" height="22.4" fill="#4a7dc2"/>
<rect x="2057.6" y="595.1" width="4.6" height="2.7" fill="#b4c66c"/>
<rect x="2057.6" y="591.8" width="4.6" height="3.2" fill="#8fd0e2"/>
<rect x="2067.2" y="592.1" width="4.6" height="28.1" fill="#4a7dc2"/>
<rect x="2067.2" y="583.4" width="4.6" height="8.7" fill="#8a97d8"/>
<rect x="2067.2" y="570.9" width="4.6" height="12.5" fill="#6db0d3"/>
<rect x="2076.7" y="585.5" width="4.6" height="34.7" fill="#4a7dc2"/>
<rect x="2076.7" y="566.7" width="4.6" height="18.8" fill="#8a97d8"/>
<rect x="2076.7" y="561.2" width="4.6" height="5.4" fill="#6db0d3"/>
<rect x="2086.3" y="593.8" width="4.6" height="26.4" fill="#4a7dc2"/>
<rect x="2086.3" y="585.1" width="4.6" height="8.7" fill="#b4c66c"/>
<rect x="2086.3" y="572.7" width="4.6" height="12.4" fill="#6db0d3"/>
<rect x="2095.8" y="583.2" width="4.6" height="37" fill="#4a7dc2"/>
<rect x="2095.8" y="570.9" width="4.6" height="12.3" fill="#b4c66c"/>
<rect x="2095.8" y="567.3" width="4.6" height="3.6" fill="#6db0d3"/>
<rect x="2105.4" y="575.9" width="4.6" height="44.3" fill="#4a7dc2"/>
<rect x="2105.4" y="564.8" width="4.6" height="11.1" fill="#b4c66c"/>
<rect x="2105.4" y="548.6" width="4.6" height="16.2" fill="#8fd0e2"/>
<rect x="2114.9" y="590.7" width="4.6" height="29.5" fill="#4a7dc2"/>
<rect x="2114.9" y="582.6" width="4.6" height="8.1" fill="#8a97d8"/>
<rect x="2114.9" y="565.8" width="4.6" height="16.8" fill="#6db0d3"/>
<rect x="2114.9" y="620.2" width="4.6" height="15" fill="#b4c66c"/>
<rect x="2124.5" y="605.5" width="4.6" height="14.7" fill="#4a7dc2"/>
<rect x="2124.5" y="598.7" width="4.6" height="6.8" fill="#b4c66c"/>
<rect x="2124.5" y="596.4" width="4.6" height="2.3" fill="#8fd0e2"/>
<rect x="2124.5" y="620.2" width="4.6" height="14" fill="#b4c66c"/>
<rect x="2134" y="610.1" width="4.6" height="10.1" fill="#4a7dc2"/>
<rect x="2134" y="606.9" width="4.6" height="3.1" fill="#8a97d8"/>
<rect x="2134" y="606.2" width="4.6" height="0.8" fill="#6db0d3"/>
<rect x="2143.6" y="598.1" width="4.6" height="22.1" fill="#4a7dc2"/>
<rect x="2143.6" y="592.3" width="4.6" height="5.8" fill="#8a97d8"/>
<rect x="2143.6" y="583.4" width="4.6" height="9" fill="#6db0d3"/>
<rect x="2153.1" y="550.3" width="4.6" height="69.9" fill="#4a7dc2"/>
<rect x="2153.1" y="541.9" width="4.6" height="8.4" fill="#8a97d8"/>
<rect x="2153.1" y="523.6" width="4.6" height="18.2" fill="#6db0d3"/>
<rect x="2162.7" y="493.9" width="4.6" height="126.3" fill="#4a7dc2"/>
<rect x="2162.7" y="477" width="4.6" height="16.9" fill="#8a97d8"/>
<rect x="2162.7" y="461.5" width="4.6" height="15.5" fill="#6db0d3"/>
<rect x="2172.3" y="573.6" width="4.6" height="46.6" fill="#4a7dc2"/>
<rect x="2172.3" y="559.2" width="4.6" height="14.4" fill="#b4c66c"/>
<rect x="2172.3" y="531.3" width="4.6" height="28" fill="#8fd0e2"/>
<rect x="2181.8" y="615.4" width="4.6" height="4.8" fill="#4a7dc2"/>
<rect x="2181.8" y="614.6" width="4.6" height="0.8" fill="#b4c66c"/>
<rect x="2181.8" y="614" width="4.6" height="0.6" fill="#6db0d3"/>
<rect x="2191.4" y="612" width="4.6" height="8.2" fill="#4a7dc2"/>
<rect x="2191.4" y="608.5" width="4.6" height="3.5" fill="#8a97d8"/>
<rect x="2191.4" y="606.8" width="4.6" height="1.6" fill="#6db0d3"/>
<rect x="2200.9" y="601" width="4.6" height="19.2" fill="#4a7dc2"/>
<rect x="2200.9" y="598.6" width="4.6" height="2.3" fill="#b4c66c"/>
<rect x="2200.9" y="594.2" width="4.6" height="4.4" fill="#6db0d3"/>
<rect x="2200.9" y="620.2" width="4.6" height="18" fill="#b4c66c"/>
<rect x="2210.5" y="614.4" width="4.6" height="5.8" fill="#4a7dc2"/>
<rect x="2210.5" y="611.8" width="4.6" height="2.6" fill="#8a97d8"/>
<rect x="2210.5" y="609.8" width="4.6" height="2" fill="#6db0d3"/>
<rect x="2220" y="620.2" width="4.6" height="2.9" fill="#4a7dc2"/>
<rect x="2220" y="623.1" width="4.6" height="4.4" fill="#9a9a9a"/>
<rect x="2229.6" y="588.3" width="4.6" height="31.9" fill="#4a7dc2"/>
<rect x="2229.6" y="572.8" width="4.6" height="15.5" fill="#8a97d8"/>
<rect x="2229.6" y="557.6" width="4.6" height="15.2" fill="#6db0d3"/>
<rect x="2239.1" y="571.7" width="4.6" height="48.5" fill="#4a7dc2"/>
<rect x="2239.1" y="566" width="4.6" height="5.7" fill="#8a97d8"/>
<rect x="2239.1" y="553.8" width="4.6" height="12.2" fill="#6db0d3"/>
<rect x="2239.1" y="620.2" width="4.6" height="18" fill="#b4c66c"/>
<rect x="2248.7" y="601" width="4.6" height="19.2" fill="#4a7dc2"/>
<rect x="2248.7" y="587.4" width="4.6" height="13.5" fill="#b4c66c"/>
<rect x="2248.7" y="583.2" width="4.6" height="4.3" fill="#8fd0e2"/>
<rect x="2258.3" y="611.9" width="4.6" height="8.3" fill="#4a7dc2"/>
<rect x="2258.3" y="609.6" width="4.6" height="2.4" fill="#b4c66c"/>
<rect x="2258.3" y="608.8" width="4.6" height="0.8" fill="#8fd0e2"/>
<rect x="2267.8" y="591.8" width="4.6" height="28.4" fill="#4a7dc2"/>
<rect x="2267.8" y="575.9" width="4.6" height="15.9" fill="#b4c66c"/>
<rect x="2267.8" y="571.4" width="4.6" height="4.5" fill="#6db0d3"/>
<rect x="2277.4" y="605.9" width="4.6" height="14.3" fill="#4a7dc2"/>
<rect x="2277.4" y="599" width="4.6" height="6.9" fill="#8a97d8"/>
<rect x="2277.4" y="595.5" width="4.6" height="3.6" fill="#6db0d3"/>
<rect x="2286.9" y="591.5" width="4.6" height="28.7" fill="#4a7dc2"/>
<rect x="2286.9" y="587.5" width="4.6" height="3.9" fill="#b4c66c"/>
<rect x="2286.9" y="578.5" width="4.6" height="9.1" fill="#6db0d3"/>
<rect x="2286.9" y="620.2" width="4.6" height="16" fill="#b4c66c"/>
<rect x="2296.5" y="620.2" width="4.6" height="5.7" fill="#9a9a9a"/>
<rect x="2296.5" y="625.9" width="4.6" height="1.8" fill="#b4c66c"/>
<rect x="2296.5" y="616.2" width="4.6" height="4" fill="#4a7dc2"/>
<rect x="2306" y="563.2" width="4.6" height="57" fill="#4a7dc2"/>
<rect x="2306" y="549" width="4.6" height="14.2" fill="#8a97d8"/>
<rect x="2306" y="529.2" width="4.6" height="19.8" fill="#6db0d3"/>
<rect x="2315.6" y="575.5" width="4.6" height="44.7" fill="#4a7dc2"/>
<rect x="2315.6" y="569.8" width="4.6" height="5.7" fill="#b4c66c"/>
<rect x="2315.6" y="568.2" width="4.6" height="1.6" fill="#6db0d3"/>
<rect x="2325.1" y="596.1" width="4.6" height="24.1" fill="#4a7dc2"/>
<rect x="2325.1" y="590.3" width="4.6" height="5.8" fill="#b4c66c"/>
<rect x="2325.1" y="584.9" width="4.6" height="5.4" fill="#6db0d3"/>
<rect x="2334.7" y="525.7" width="4.6" height="94.5" fill="#4a7dc2"/>
<rect x="2334.7" y="515.8" width="4.6" height="9.9" fill="#b4c66c"/>
<rect x="2334.7" y="493.2" width="4.6" height="22.6" fill="#8fd0e2"/>
<rect x="2344.2" y="421.9" width="4.6" height="198.3" fill="#4a7dc2"/>
<rect x="2344.2" y="394.4" width="4.6" height="27.5" fill="#8a97d8"/>
<rect x="2344.2" y="376.3" width="4.6" height="18.1" fill="#6db0d3"/>
<rect x="2353.8" y="520.3" width="4.6" height="99.9" fill="#4a7dc2"/>
<rect x="2353.8" y="495.4" width="4.6" height="24.9" fill="#8a97d8"/>
<rect x="2353.8" y="484.3" width="4.6" height="11.1" fill="#6db0d3"/>
<rect x="2363.4" y="543.6" width="4.6" height="76.6" fill="#4a7dc2"/>
<rect x="2363.4" y="475.5" width="4.6" height="68.1" fill="#b4c66c"/>
<rect x="2363.4" y="450" width="4.6" height="25.5" fill="#6db0d3"/>
<rect x="2372.9" y="542.9" width="4.6" height="77.3" fill="#4a7dc2"/>
<rect x="2372.9" y="516.6" width="4.6" height="26.3" fill="#b4c66c"/>
<rect x="2372.9" y="497.3" width="4.6" height="19.4" fill="#8fd0e2"/>
<rect x="2382.5" y="342.6" width="4.6" height="277.6" fill="#4a7dc2"/>
<rect x="2382.5" y="305.7" width="4.6" height="36.8" fill="#b4c66c"/>
<rect x="2382.5" y="238.1" width="4.6" height="67.6" fill="#8fd0e2"/>
<rect x="2392" y="371" width="4.6" height="249.2" fill="#4a7dc2"/>
<rect x="2392" y="322.4" width="4.6" height="48.6" fill="#b4c66c"/>
<rect x="2392" y="231.5" width="4.6" height="91" fill="#8fd0e2"/>
<rect x="2401.6" y="344.9" width="4.6" height="275.3" fill="#4a7dc2"/>
<rect x="2401.6" y="328" width="4.6" height="16.9" fill="#8a97d8"/>
<rect x="2401.6" y="301.2" width="4.6" height="26.8" fill="#6db0d3"/>
<rect x="2401.6" y="620.2" width="4.6" height="30" fill="#b4c66c"/>
<rect x="2401.6" y="650.2" width="4.6" height="18" fill="#9a9a9a"/>
<rect x="2411.1" y="532.8" width="4.6" height="87.4" fill="#4a7dc2"/>
<rect x="2411.1" y="455.2" width="4.6" height="77.7" fill="#b4c66c"/>
<rect x="2411.1" y="426" width="4.6" height="29.1" fill="#6db0d3"/>
<rect x="2420.7" y="378.3" width="4.6" height="241.9" fill="#4a7dc2"/>
<rect x="2420.7" y="331.3" width="4.6" height="47" fill="#8a97d8"/>
<rect x="2420.7" y="271.4" width="4.6" height="59.9" fill="#6db0d3"/>
<rect x="2430.2" y="426.2" width="4.6" height="194" fill="#4a7dc2"/>
<rect x="2430.2" y="407.4" width="4.6" height="18.8" fill="#b4c66c"/>
<rect x="2430.2" y="379.1" width="4.6" height="28.3" fill="#6db0d3"/>
<rect x="2439.8" y="542.9" width="4.6" height="77.3" fill="#4a7dc2"/>
<rect x="2439.8" y="474.1" width="4.6" height="68.7" fill="#b4c66c"/>
<rect x="2439.8" y="448.4" width="4.6" height="25.8" fill="#8fd0e2"/>
<rect x="2439.8" y="620.2" width="4.6" height="12" fill="#9a9a9a"/>
<rect x="2449.4" y="398.3" width="4.6" height="221.9" fill="#4a7dc2"/>
<rect x="2449.4" y="329.3" width="4.6" height="69" fill="#b4c66c"/>
<rect x="2449.4" y="311.6" width="4.6" height="17.7" fill="#6db0d3"/>
<rect x="2449.4" y="620.2" width="4.6" height="15" fill="#9a9a9a"/>
<rect x="2458.9" y="519.5" width="4.6" height="100.7" fill="#4a7dc2"/>
<rect x="2458.9" y="485.7" width="4.6" height="33.7" fill="#8a97d8"/>
<rect x="2458.9" y="471.6" width="4.6" height="14.2" fill="#6db0d3"/>
<rect x="2458.9" y="620.2" width="4.6" height="44" fill="#9a9a9a"/>
<rect x="2468.5" y="530.2" width="4.6" height="90" fill="#4a7dc2"/>
<rect x="2468.5" y="503.6" width="4.6" height="26.6" fill="#8a97d8"/>
<rect x="2468.5" y="480.8" width="4.6" height="22.9" fill="#6db0d3"/>
<rect x="2478" y="579.1" width="4.6" height="41.1" fill="#4a7dc2"/>
<rect x="2478" y="572.7" width="4.6" height="6.4" fill="#8a97d8"/>
<rect x="2478" y="570.7" width="4.6" height="2" fill="#6db0d3"/>
<rect x="2478" y="620.2" width="4.6" height="15" fill="#b4c66c"/>
<rect x="2487.6" y="611.9" width="4.6" height="8.3" fill="#4a7dc2"/>
<rect x="2487.6" y="610.6" width="4.6" height="1.3" fill="#b4c66c"/>
<rect x="2487.6" y="608.2" width="4.6" height="2.4" fill="#8fd0e2"/>
<rect x="2497.1" y="620.2" width="4.6" height="60" fill="#6db0d3"/>
<rect x="2497.1" y="680.2" width="4.6" height="42" fill="#3f7f99"/>
<rect x="2506.7" y="620.2" width="4.6" height="301" fill="#4a7dc2"/>
</g>
<path d="M104.3 620.2H2514" stroke="#d4e6f0" stroke-width="1.5"/>
<g fill="#000" stroke="#b2b2b2" stroke-width="1.35">
<rect x="107.9" y="1113.9" width="5.6" height="35.4"/>
<rect x="117.4" y="1102.6" width="5.6" height="46.7"/>
<rect x="127" y="1072.8" width="5.6" height="76.5"/>
<rect x="136.5" y="1114.6" width="5.6" height="34.7"/>
<rect x="146.1" y="1114.6" width="5.6" height="34.7"/>
<rect x="155.7" y="1112.7" width="5.6" height="36.6"/>
<rect x="165.2" y="1130.3" width="5.6" height="19"/>
<rect x="174.8" y="1118.6" width="5.6" height="30.7"/>
<rect x="184.3" y="1102.6" width="5.6" height="46.7"/>
<rect x="193.9" y="1132.7" width="5.6" height="16.6"/>
<rect x="203.4" y="1123.8" width="5.6" height="25.5"/>
<rect x="213" y="1128.7" width="5.6" height="20.6"/>
<rect x="222.5" y="1135.7" width="5.6" height="13.6"/>
<rect x="232.1" y="1128" width="5.6" height="21.3"/>
<rect x="241.6" y="1128" width="5.6" height="21.3"/>
<rect x="251.2" y="1138.6" width="5.6" height="10.7"/>
<rect x="260.8" y="1126.1" width="5.6" height="23.2"/>
<rect x="270.3" y="1135.7" width="5.6" height="13.6"/>
<rect x="279.9" y="1135.7" width="5.6" height="13.6"/>
<rect x="289.4" y="1133.2" width="5.6" height="16.1"/>
<rect x="299" y="1138.6" width="5.6" height="10.7"/>
<rect x="308.5" y="1131" width="5.6" height="18.3"/>
<rect x="318.1" y="1132" width="5.6" height="17.3"/>
<rect x="327.6" y="1132.7" width="5.6" height="16.6"/>
<rect x="337.2" y="1136.9" width="5.6" height="12.4"/>
<rect x="346.8" y="1126.8" width="5.6" height="22.5"/>
<rect x="356.3" y="1135.7" width="5.6" height="13.6"/>
<rect x="365.9" y="1137.4" width="5.6" height="11.9"/>
<rect x="375.4" y="1135.7" width="5.6" height="13.6"/>
<rect x="385" y="1137.4" width="5.6" height="11.9"/>
<rect x="394.5" y="1132.7" width="5.6" height="16.6"/>
<rect x="404.1" y="1134.3" width="5.6" height="15"/>
<rect x="413.6" y="1129.9" width="5.6" height="19.4"/>
<rect x="423.2" y="1125.6" width="5.6" height="23.7"/>
<rect x="432.7" y="1121.7" width="5.6" height="27.6"/>
<rect x="442.3" y="1133.9" width="5.6" height="15.4"/>
<rect x="451.9" y="1130.3" width="5.6" height="19"/>
<rect x="461.4" y="1129.9" width="5.6" height="19.4"/>
<rect x="471" y="1135" width="5.6" height="14.3"/>
<rect x="480.5" y="1121.7" width="5.6" height="27.6"/>
<rect x="490.1" y="1122.1" width="5.6" height="27.2"/>
<rect x="499.6" y="1132.7" width="5.6" height="16.6"/>
<rect x="509.2" y="1117.4" width="5.6" height="31.9"/>
<rect x="518.7" y="1128" width="5.6" height="21.3"/>
<rect x="528.3" y="1136.7" width="5.6" height="12.6"/>
<rect x="537.9" y="1133.2" width="5.6" height="16.1"/>
<rect x="547.4" y="1135.5" width="5.6" height="13.8"/>
<rect x="557" y="1137.4" width="5.6" height="11.9"/>
<rect x="566.5" y="1135" width="5.6" height="14.3"/>
<rect x="576.1" y="1134.3" width="5.6" height="15"/>
<rect x="585.6" y="1133.4" width="5.6" height="15.9"/>
<rect x="595.2" y="1126.8" width="5.6" height="22.5"/>
<rect x="604.7" y="1123.8" width="5.6" height="25.5"/>
<rect x="614.3" y="1136.7" width="5.6" height="12.6"/>
<rect x="623.8" y="1135.7" width="5.6" height="13.6"/>
<rect x="633.4" y="1134.3" width="5.6" height="15"/>
<rect x="643" y="1132" width="5.6" height="17.3"/>
<rect x="652.5" y="1135.7" width="5.6" height="13.6"/>
<rect x="662.1" y="1130.8" width="5.6" height="18.5"/>
<rect x="671.6" y="1136.7" width="5.6" height="12.6"/>
<rect x="681.2" y="1128.7" width="5.6" height="20.6"/>
<rect x="690.7" y="1129.2" width="5.6" height="20.1"/>
<rect x="700.3" y="1119.3" width="5.6" height="30"/>
<rect x="709.8" y="1126.1" width="5.6" height="23.2"/>
<rect x="719.4" y="1119.1" width="5.6" height="30.2"/>
<rect x="729" y="1130.8" width="5.6" height="18.5"/>
<rect x="738.5" y="1132.7" width="5.6" height="16.6"/>
<rect x="748.1" y="1132" width="5.6" height="17.3"/>
<rect x="757.6" y="1109.9" width="5.6" height="39.4"/>
<rect x="767.2" y="1100.3" width="5.6" height="49"/>
<rect x="776.7" y="1099.1" width="5.6" height="50.2"/>
<rect x="786.3" y="1052.8" width="5.6" height="96.5"/>
<rect x="795.8" y="1086.9" width="5.6" height="62.4"/>
<rect x="805.4" y="1072.8" width="5.6" height="76.5"/>
<rect x="814.9" y="1102.6" width="5.6" height="46.7"/>
<rect x="824.5" y="1093.2" width="5.6" height="56.1"/>
<rect x="834.1" y="1100.3" width="5.6" height="49"/>
<rect x="843.6" y="1112" width="5.6" height="37.3"/>
<rect x="853.2" y="1112.7" width="5.6" height="36.6"/>
<rect x="862.7" y="1059.9" width="5.6" height="89.4"/>
<rect x="872.3" y="1109.2" width="5.6" height="40.1"/>
<rect x="881.8" y="1074.7" width="5.6" height="74.6"/>
<rect x="891.4" y="1105" width="5.6" height="44.3"/>
<rect x="900.9" y="1055.9" width="5.6" height="93.4"/>
<rect x="910.5" y="1115.5" width="5.6" height="33.8"/>
<rect x="920.1" y="1081" width="5.6" height="68.3"/>
<rect x="929.6" y="1102.9" width="5.6" height="46.4"/>
<rect x="939.2" y="1035.9" width="5.6" height="113.4"/>
<rect x="948.7" y="1068.6" width="5.6" height="80.7"/>
<rect x="958.3" y="1043.9" width="5.6" height="105.4"/>
<rect x="967.8" y="1051.2" width="5.6" height="98.1"/>
<rect x="977.4" y="1066.9" width="5.6" height="82.4"/>
<rect x="986.9" y="1098.6" width="5.6" height="50.7"/>
<rect x="996.5" y="1085.7" width="5.6" height="63.6"/>
<rect x="1006" y="1101" width="5.6" height="48.3"/>
<rect x="1015.6" y="1058" width="5.6" height="91.3"/>
<rect x="1025.2" y="1078.7" width="5.6" height="70.6"/>
<rect x="1034.7" y="1043.9" width="5.6" height="105.4"/>
<rect x="1044.3" y="1016" width="5.6" height="133.3"/>
<rect x="1053.8" y="1065.1" width="5.6" height="84.2"/>
<rect x="1063.4" y="1096.8" width="5.6" height="52.5"/>
<rect x="1072.9" y="1120.9" width="5.6" height="28.4"/>
<rect x="1082.5" y="1108" width="5.6" height="41.3"/>
<rect x="1092" y="1115.1" width="5.6" height="34.2"/>
<rect x="1101.6" y="1113.2" width="5.6" height="36.1"/>
<rect x="1111.2" y="1115.8" width="5.6" height="33.5"/>
<rect x="1120.7" y="1106.9" width="5.6" height="42.4"/>
<rect x="1130.3" y="1104" width="5.6" height="45.3"/>
<rect x="1139.8" y="1105.7" width="5.6" height="43.6"/>
<rect x="1149.4" y="1062.9" width="5.6" height="86.4"/>
<rect x="1158.9" y="1101" width="5.6" height="48.3"/>
<rect x="1168.5" y="1109.9" width="5.6" height="39.4"/>
<rect x="1178" y="1096.8" width="5.6" height="52.5"/>
<rect x="1187.6" y="1124.9" width="5.6" height="24.4"/>
<rect x="1197.1" y="1101.7" width="5.6" height="47.6"/>
<rect x="1206.7" y="1114.6" width="5.6" height="34.7"/>
<rect x="1216.3" y="1108" width="5.6" height="41.3"/>
<rect x="1225.8" y="1088.8" width="5.6" height="60.5"/>
<rect x="1235.4" y="1117" width="5.6" height="32.3"/>
<rect x="1244.9" y="1079.1" width="5.6" height="70.2"/>
<rect x="1254.5" y="1079.1" width="5.6" height="70.2"/>
<rect x="1264" y="1099.8" width="5.6" height="49.5"/>
<rect x="1273.6" y="1121.7" width="5.6" height="27.6"/>
<rect x="1283.1" y="1103.8" width="5.6" height="45.5"/>
<rect x="1292.7" y="1115.5" width="5.6" height="33.8"/>
<rect x="1302.3" y="1098.6" width="5.6" height="50.7"/>
<rect x="1311.8" y="996" width="5.6" height="153.3"/>
<rect x="1321.4" y="1085.7" width="5.6" height="63.6"/>
<rect x="1330.9" y="1117" width="5.6" height="32.3"/>
<rect x="1340.5" y="1117.9" width="5.6" height="31.4"/>
<rect x="1350" y="1110.9" width="5.6" height="38.4"/>
<rect x="1359.6" y="1110.9" width="5.6" height="38.4"/>
<rect x="1369.1" y="1120.5" width="5.6" height="28.8"/>
<rect x="1378.7" y="1112" width="5.6" height="37.3"/>
<rect x="1388.2" y="1122.6" width="5.6" height="26.7"/>
<rect x="1397.8" y="1117.4" width="5.6" height="31.9"/>
<rect x="1407.4" y="1112" width="5.6" height="37.3"/>
<rect x="1416.9" y="1128.7" width="5.6" height="20.6"/>
<rect x="1426.5" y="1128" width="5.6" height="21.3"/>
<rect x="1436" y="1081" width="5.6" height="68.3"/>
<rect x="1445.6" y="1117.9" width="5.6" height="31.4"/>
<rect x="1455.1" y="1079.8" width="5.6" height="69.5"/>
<rect x="1464.7" y="1080.3" width="5.6" height="69"/>
<rect x="1474.2" y="1120.5" width="5.6" height="28.8"/>
<rect x="1483.8" y="1108.5" width="5.6" height="40.8"/>
<rect x="1493.4" y="1076.8" width="5.6" height="72.5"/>
<rect x="1502.9" y="1093.9" width="5.6" height="55.4"/>
<rect x="1512.5" y="1121.7" width="5.6" height="27.6"/>
<rect x="1522" y="1117.4" width="5.6" height="31.9"/>
<rect x="1531.6" y="1108" width="5.6" height="41.3"/>
<rect x="1541.1" y="1078.7" width="5.6" height="70.6"/>
<rect x="1550.7" y="1108.7" width="5.6" height="40.6"/>
<rect x="1560.2" y="1116.7" width="5.6" height="32.6"/>
<rect x="1569.8" y="1119.8" width="5.6" height="29.5"/>
<rect x="1579.3" y="1128" width="5.6" height="21.3"/>
<rect x="1588.9" y="1128" width="5.6" height="21.3"/>
<rect x="1598.5" y="1123.8" width="5.6" height="25.5"/>
<rect x="1608" y="1110.9" width="5.6" height="38.4"/>
<rect x="1617.6" y="1128" width="5.6" height="21.3"/>
<rect x="1627.1" y="1135.7" width="5.6" height="13.6"/>
<rect x="1636.7" y="1121.7" width="5.6" height="27.6"/>
<rect x="1646.2" y="1136.7" width="5.6" height="12.6"/>
<rect x="1655.8" y="1123.8" width="5.6" height="25.5"/>
<rect x="1665.3" y="1133.9" width="5.6" height="15.4"/>
<rect x="1674.9" y="1123.8" width="5.6" height="25.5"/>
<rect x="1684.5" y="1126.8" width="5.6" height="22.5"/>
<rect x="1694" y="1128.5" width="5.6" height="20.8"/>
<rect x="1703.6" y="1123.8" width="5.6" height="25.5"/>
<rect x="1713.1" y="1123.8" width="5.6" height="25.5"/>
<rect x="1722.7" y="1123.8" width="5.6" height="25.5"/>
<rect x="1732.2" y="1081" width="5.6" height="68.3"/>
<rect x="1741.8" y="1110.9" width="5.6" height="38.4"/>
<rect x="1751.3" y="1061.8" width="5.6" height="87.5"/>
<rect x="1760.9" y="1103.8" width="5.6" height="45.5"/>
<rect x="1770.4" y="1120.5" width="5.6" height="28.8"/>
<rect x="1780" y="1118.6" width="5.6" height="30.7"/>
<rect x="1789.6" y="1126.8" width="5.6" height="22.5"/>
<rect x="1799.1" y="1106.9" width="5.6" height="42.4"/>
<rect x="1808.7" y="1129.6" width="5.6" height="19.7"/>
<rect x="1818.2" y="1125.6" width="5.6" height="23.7"/>
<rect x="1827.8" y="1096.8" width="5.6" height="52.5"/>
<rect x="1837.3" y="1102.6" width="5.6" height="46.7"/>
<rect x="1846.9" y="1116.7" width="5.6" height="32.6"/>
<rect x="1856.4" y="1115.8" width="5.6" height="33.5"/>
<rect x="1866" y="1120.5" width="5.6" height="28.8"/>
<rect x="1875.6" y="1128.7" width="5.6" height="20.6"/>
<rect x="1885.1" y="1129.6" width="5.6" height="19.7"/>
<rect x="1894.7" y="1122.6" width="5.6" height="26.7"/>
<rect x="1904.2" y="1133.2" width="5.6" height="16.1"/>
<rect x="1913.8" y="1136.7" width="5.6" height="12.6"/>
<rect x="1923.3" y="1135" width="5.6" height="14.3"/>
<rect x="1932.9" y="1135.7" width="5.6" height="13.6"/>
<rect x="1942.4" y="1086.2" width="5.6" height="63.1"/>
<rect x="1952" y="1082.9" width="5.6" height="66.4"/>
<rect x="1961.5" y="1077" width="5.6" height="72.3"/>
<rect x="1971.1" y="1065.1" width="5.6" height="84.2"/>
<rect x="1980.7" y="1102.2" width="5.6" height="47.1"/>
<rect x="1990.2" y="1097" width="5.6" height="52.3"/>
<rect x="1999.8" y="1126.1" width="5.6" height="23.2"/>
<rect x="2009.3" y="1099.1" width="5.6" height="50.2"/>
<rect x="2018.9" y="1117" width="5.6" height="32.3"/>
<rect x="2028.4" y="1080.3" width="5.6" height="69"/>
<rect x="2038" y="1075.2" width="5.6" height="74.1"/>
<rect x="2047.5" y="1106.9" width="5.6" height="42.4"/>
<rect x="2057.1" y="1084.1" width="5.6" height="65.2"/>
<rect x="2066.7" y="1100.3" width="5.6" height="49"/>
<rect x="2076.2" y="1090.9" width="5.6" height="58.4"/>
<rect x="2085.8" y="1097.9" width="5.6" height="51.4"/>
<rect x="2095.3" y="1106.9" width="5.6" height="42.4"/>
<rect x="2104.9" y="1099.1" width="5.6" height="50.2"/>
<rect x="2114.4" y="1108" width="5.6" height="41.3"/>
<rect x="2124" y="1089.2" width="5.6" height="60.1"/>
<rect x="2133.5" y="1112.7" width="5.6" height="36.6"/>
<rect x="2143.1" y="1107.3" width="5.6" height="42"/>
<rect x="2152.6" y="1058.7" width="5.6" height="90.6"/>
<rect x="2162.2" y="1061.1" width="5.6" height="88.2"/>
<rect x="2171.8" y="1095.8" width="5.6" height="53.5"/>
<rect x="2181.3" y="1090.9" width="5.6" height="58.4"/>
<rect x="2190.9" y="1104" width="5.6" height="45.3"/>
<rect x="2200.4" y="1093.2" width="5.6" height="56.1"/>
<rect x="2210" y="1108.7" width="5.6" height="40.6"/>
<rect x="2219.5" y="1075.9" width="5.6" height="73.4"/>
<rect x="2229.1" y="1061.1" width="5.6" height="88.2"/>
<rect x="2238.6" y="1089.9" width="5.6" height="59.4"/>
<rect x="2248.2" y="1112.3" width="5.6" height="37"/>
<rect x="2257.8" y="1112" width="5.6" height="37.3"/>
<rect x="2267.3" y="1120.2" width="5.6" height="29.1"/>
<rect x="2276.9" y="1101" width="5.6" height="48.3"/>
<rect x="2286.4" y="1108" width="5.6" height="41.3"/>
<rect x="2296" y="1061.1" width="5.6" height="88.2"/>
<rect x="2305.5" y="1098.2" width="5.6" height="51.1"/>
<rect x="2315.1" y="1106.9" width="5.6" height="42.4"/>
<rect x="2324.6" y="1106.9" width="5.6" height="42.4"/>
<rect x="2334.2" y="1016.4" width="5.6" height="132.9"/>
<rect x="2343.7" y="1018.8" width="5.6" height="130.5"/>
<rect x="2353.3" y="1001.1" width="5.6" height="148.2"/>
<rect x="2362.9" y="1016.4" width="5.6" height="132.9"/>
<rect x="2372.4" y="978.7" width="5.6" height="170.6"/>
<rect x="2382" y="874.9" width="5.6" height="274.4"/>
<rect x="2391.5" y="906.7" width="5.6" height="242.6"/>
<rect x="2401.1" y="853.1" width="5.6" height="296.2"/>
<rect x="2410.6" y="810" width="5.6" height="339.3"/>
<rect x="2420.2" y="940.9" width="5.6" height="208.4"/>
<rect x="2429.7" y="981" width="5.6" height="168.3"/>
<rect x="2439.3" y="924.4" width="5.6" height="224.9"/>
<rect x="2448.9" y="991.2" width="5.6" height="158.1"/>
<rect x="2458.4" y="946.8" width="5.6" height="202.5"/>
<rect x="2468" y="982.2" width="5.6" height="167.1"/>
<rect x="2477.5" y="992.1" width="5.6" height="157.2"/>
<rect x="2487.1" y="1014.1" width="5.6" height="135.2"/>
<rect x="2496.6" y="910.2" width="5.6" height="239.1"/>
<rect x="2506.2" y="946.4" width="5.6" height="202.9"/>
</g>
<path d="M109.4 603.2C110.1 606.7 112.6 618.5 114.2 626.8C115.8 635.1 118.5 658.7 120.1 658.7C121.6 658.7 123.2 642 124.8 631.5C126.4 621.1 128.9 600 130.7 589C132.4 578.1 135.2 563.8 136.6 558.4C137.9 553 138.8 553.2 139.6 553.2C140.5 553.2 141.5 557.6 142.5 565.5C143.4 573.3 145 595.5 146 605.6C147.1 615.7 148.5 632.7 149.6 632.7C150.6 632.7 152 627.5 153.1 624.4C154.2 621.4 155.6 612.6 156.6 612.6C157.7 612.6 158.6 616.7 160.2 619.7C161.8 622.7 165.3 632.7 167.2 632.7C169.2 632.7 171.2 628.6 173.1 625.6C175.1 622.6 178 615.7 180.2 612.6C182.4 609.6 185.7 605.1 187.8 605.1C189.9 605.1 192.5 607.5 194.4 611.5C196.3 615.4 198.4 626.2 200.3 631.5C202.1 636.8 204.7 646.9 206.7 646.9C208.6 646.9 211.2 637.9 213.3 635.1C215.3 632.2 218.2 628 220.3 628C222.5 628 225.3 628 227.4 628C229.5 628 232.4 624.4 234.5 624.4C236.6 624.4 239.8 627.1 241.6 628C243.3 628.9 244.5 630.3 246.3 630.3C248.1 630.3 251.3 624.9 253.4 623.3C255.5 621.7 258.3 619.7 260.5 619.7C262.6 619.7 265.6 623 267.5 624.4C269.5 625.9 271.3 629.2 273.4 629.2C275.6 629.2 279 625 281.7 623.3C284.3 621.5 288.3 617.4 291.1 617.4C294 617.4 297.9 620.9 300.6 620.9C303.2 620.9 307.1 619.3 308.8 619.3C310.6 619.3 311.1 621.2 312.4 624.4C313.6 627.7 315.5 636.7 317.1 641C318.7 645.2 321.2 652.8 323 652.8C324.8 652.8 327.1 649.2 328.9 645.7C330.7 642.1 333.2 633.2 334.8 629.2C336.4 625.1 337.9 618.5 339.5 618.5C341.1 618.5 343.6 621 345.4 622.1C347.2 623.1 349.2 625.6 351.3 625.6C353.4 625.6 357.1 622.7 359.6 620.9C362 619.1 365.5 613.8 367.8 613.8C370.1 613.8 372.6 617.2 374.9 619.7C377.2 622.2 381.2 628.2 383.2 630.3C385.1 632.5 386.3 633.9 387.9 633.9C389.5 633.9 392.2 626.7 393.8 624.4C395.4 622.1 396.9 618.5 398.5 618.5C400.1 618.5 402.4 621.7 404.4 623.3C406.3 624.9 409.5 628 411.5 629.2C413.4 630.3 415.2 631.1 417.4 631.1C419.5 631.1 423 628.7 425.6 626.8C428.3 624.9 432.4 620.1 435.1 618.5C437.7 617 441.6 616.2 443.3 616.2C445.1 616.2 445.8 621 446.9 626.8C447.9 632.6 449.3 648.2 450.4 655.1C451.5 662 452.9 672.8 453.9 672.8C455 672.8 456.4 662.8 457.5 652.8C458.5 642.7 460 616.4 461 605.6C462.1 594.8 463.7 584.9 464.6 580.8C465.4 576.7 465.9 578.4 466.9 578.4C468 578.4 470 582.6 471.6 586.7C473.2 590.8 475.8 600.4 477.5 605.6C479.3 610.7 481.8 620.9 483.4 620.9C485 620.9 486.7 604.2 488.2 598.5C489.6 592.8 491.3 583.2 492.9 583.2C494.5 583.2 496.8 591.2 498.8 598.5C500.7 605.7 503.9 623.4 505.9 631.5C507.8 639.7 510.2 652.8 511.8 652.8C513.3 652.8 515.1 637.9 516.5 631.5C517.9 625.2 520.1 614 521.2 610.3C522.3 606.6 522.5 606.7 523.5 606.7C524.6 606.7 527 612.7 528.3 615C529.5 617.3 530.2 622.1 531.8 622.1C533.4 622.1 536.4 617.4 538.9 617.4C541.4 617.4 545.3 619.6 548.3 620.9C551.3 622.2 555.8 626.3 558.9 626.3C562.1 626.3 566.6 622 569.6 620.9C572.6 619.8 576.5 619.3 579 619.3C581.5 619.3 584.3 619.7 586.1 619.7C587.8 619.7 589.2 617.7 590.8 616.2C592.4 614.7 594.9 609.8 596.7 609.8C598.5 609.8 601 617 602.6 619.7C604.2 622.4 605.7 628 607.3 628C608.9 628 611.3 621.8 613.2 617.4C615.2 612.9 618.4 602.8 620.3 598.5C622.2 594.2 624.1 588.6 625.7 588.6C627.3 588.6 629.1 593.5 630.9 598.5C632.8 603.5 635.9 616.2 638 622.1C640.1 627.9 643.1 637.4 645.1 637.4C647 637.4 649.2 628 651 624.4C652.7 620.9 655.1 613.8 656.9 613.8C658.6 613.8 661.3 616.5 662.8 617.4C664.2 618.2 664.9 619.7 666.3 619.7C667.7 619.7 670.4 618.5 672.2 618.5C674 618.5 676.2 623.4 678.1 625.6C680 627.9 683.1 633.4 685.2 633.4C687.3 633.4 690.1 630.2 692.3 628C694.4 625.8 697.4 618.5 699.3 618.5C701.3 618.5 703.1 618.5 705 618.5C706.9 618.5 710.1 620.9 712.1 620.9C714 620.9 716.4 615.2 718 613.8C719.6 612.4 721.1 611.5 722.7 611.5C724.3 611.5 726.6 616.6 728.6 622.1C730.5 627.6 733.7 641.7 735.7 648C737.6 654.4 739.8 664.6 741.6 664.6C743.3 664.6 745.5 655.8 747.5 648C749.4 640.3 752.4 622.2 754.6 612.6C756.7 603.1 759.5 590.7 761.6 584.3C763.8 578 766.6 572.8 768.7 570.2C770.8 567.5 774 570.2 775.8 566.6C777.6 563.1 779.3 560.2 780.5 546.6C781.7 532.9 783 493.1 784 475.8C785.1 458.4 786.7 438.5 787.6 431C788.5 423.5 789.2 425.8 789.9 425.8C790.7 425.8 791.7 424.6 792.8 435.7C793.8 446.7 795.9 485.2 797 499.4C798.2 513.5 799.5 530.1 800.6 530.1C801.6 530.1 803 528.9 804.1 527.7C805.2 526.5 806.6 521.8 807.6 521.8C808.7 521.8 809.9 527.1 811.2 537.1C812.4 547.2 814.5 574.9 815.9 589C817.3 603.2 819.2 622 820.6 631.5C822 641.1 824.1 648.5 825.3 652.8C826.6 657 827.6 659.8 828.9 659.8C830.1 659.8 832.4 652.2 833.6 650.4C834.8 648.6 836.1 648 837.1 648C838.2 648 839.3 653.6 840.7 657.5C842.1 661.4 844.8 674 846.6 674C848.3 674 850.7 665.1 852.5 659.8C854.2 654.5 856.6 642.8 858.4 638.6C860.1 634.4 862.9 635.4 864.3 631.5C865.7 627.6 866.6 621.8 867.8 612.6C869.1 603.4 871.3 578.1 872.5 570.2C873.8 562.2 875 559.6 876.1 559.6C877.1 559.6 878.2 566.2 879.6 574.9C881 583.6 883.7 617.4 885.5 617.4C887.3 617.4 889.5 612.9 891.4 607.9C893.4 603 896.7 590 898.5 584.3C900.3 578.7 902 579.4 903.2 570.2C904.4 561 905.7 542.4 906.7 523C907.8 503.5 909.2 459 910.3 440.4C911.3 421.8 912.8 399.1 913.8 399.1C914.9 399.1 916.3 410 917.4 428.6C918.4 447.2 919.8 496.3 920.9 523C922 549.7 923.7 606.7 924.9 606.7C926.2 606.7 928 581.3 929.2 570.2C930.3 559 931.5 539.5 932.7 532.4C933.9 525.3 936 526.5 937.4 523C938.8 519.4 940.9 521.2 942.1 508.8C943.4 496.4 944.8 461.3 945.7 440.4C946.6 419.5 947.5 386.9 948.3 369.6C949.1 352.3 950.3 324.8 951.1 324.8C951.9 324.8 953 354 953.7 369.6C954.4 385.2 955.3 409.1 956.1 428.6C956.8 448.1 957.5 478 958.7 499.4C959.8 520.8 962.4 571.4 963.8 571.4C965.3 571.4 966.8 557.4 968.1 546.6C969.4 535.8 971.4 516.4 972.8 499.4C974.2 482.4 976.4 445.2 977.5 433.3C978.7 421.5 979.7 420.3 980.6 420.3C981.5 420.3 982.3 425 983.4 440.4C984.6 455.8 987.1 506.3 988.2 523C989.2 539.6 989.6 551.3 990.5 551.3C991.4 551.3 992.7 516.4 994.1 499.4C995.4 482.4 998 438 999.2 438C1000.5 438 1001.1 456 1002.3 475.8C1003.5 495.6 1005.8 550.4 1007 570.2C1008.3 590 1009.3 607.9 1010.6 607.9C1011.8 607.9 1013.9 602.7 1015.3 598.5C1016.7 594.2 1018.6 588.5 1020 579.6C1021.4 570.8 1023.5 547.6 1024.7 539.5C1026 531.4 1027.2 525.3 1028.3 525.3C1029.3 525.3 1030.6 535.6 1031.8 546.6C1033 557.5 1034.9 584.3 1036.5 598.5C1038.1 612.6 1040.5 631.1 1042.4 641C1044.4 650.9 1047.6 659.8 1049.5 664.6C1051.4 669.3 1054 672.8 1055.4 672.8C1056.8 672.8 1057.9 656.4 1058.9 641C1060 625.6 1061.2 586.5 1062.5 570.2C1063.7 553.9 1066 532.4 1067.2 532.4C1068.4 532.4 1069.3 543.5 1070.7 551.3C1072.2 559.1 1075 584.3 1076.6 584.3C1078.2 584.3 1079.9 562 1081.4 556C1082.8 550 1084.7 544.2 1086.1 544.2C1087.5 544.2 1089.2 550.5 1090.8 560.7C1092.4 571 1095.1 599.2 1096.7 612.6C1098.3 626.1 1100.2 643.7 1101.4 650.4C1102.7 657.1 1103.7 657.5 1105 657.5C1106.2 657.5 1108.3 638.2 1109.7 629.2C1111.1 620.1 1113.2 597.3 1114.4 597.3C1115.6 597.3 1116.5 618 1117.9 629.2C1119.3 640.3 1122.2 671.6 1123.8 671.6C1125.4 671.6 1127.1 654.1 1128.5 641C1130 627.9 1131.9 598.8 1133.3 584.3C1134.7 569.8 1136.7 552 1138 544.2C1139.2 536.4 1140.5 532.4 1141.5 532.4C1142.6 532.4 1143.8 538.6 1145.1 551.3C1146.3 564 1148.4 596.8 1149.8 617.4C1151.2 637.9 1153.1 672.6 1154.5 688.2C1155.9 703.7 1158.1 715.5 1159.2 721.2C1160.4 726.9 1161.2 726.4 1162.3 726.4C1163.4 726.4 1165 697.4 1166.3 688.2C1167.6 678.9 1169.4 669.5 1171 664.6C1172.6 659.6 1175 658.7 1176.9 655.1C1178.9 651.6 1181.9 645.9 1184 641C1186.1 636 1189 628.1 1191.1 622.1C1193.2 616.1 1196.4 610.4 1198.2 600.8C1199.9 591.3 1201.6 570.8 1202.9 558.4C1204.1 546 1205.4 525.5 1206.4 518.3C1207.4 511 1208.6 510 1209.5 510C1210.4 510 1211.2 516.6 1212.3 527.7C1213.4 538.8 1215.8 572.6 1217 584.3C1218.3 596 1219.3 605.6 1220.6 605.6C1221.8 605.6 1223.9 589.5 1225.3 584.3C1226.7 579.2 1228.4 571.4 1230 571.4C1231.6 571.4 1234.3 571.4 1235.9 571.4C1237.5 571.4 1239.2 582.1 1240.6 589C1242 596 1244.1 611.7 1245.3 617.4C1246.6 623 1247.8 626.8 1248.9 626.8C1250 626.8 1251.4 619.3 1252.4 617.4C1253.5 615.4 1254.9 613.8 1256 613.8C1257 613.8 1258.3 618 1259.5 629.2C1260.7 640.3 1263 675.1 1264.2 688.2C1265.5 701.2 1266.7 716.5 1267.8 716.5C1268.8 716.5 1270.1 701.2 1271.3 688.2C1272.5 675.1 1274.8 639.4 1276 629.2C1277.3 618.9 1278.1 619.7 1279.6 619.7C1281 619.7 1283.9 624.4 1285.5 624.4C1287.1 624.4 1288.8 601 1290.2 593.8C1291.6 586.5 1293.5 576.1 1294.9 576.1C1296.3 576.1 1298.2 587.7 1299.6 591.4C1301 595.1 1302.8 600.8 1304.3 600.8C1305.9 600.8 1308.4 597.2 1310 589C1311.6 580.9 1313.5 565.3 1314.7 546.6C1316 527.8 1317.2 483.5 1318.3 464C1319.3 444.5 1320.9 424.8 1321.8 416.8C1322.7 408.8 1323.4 410.9 1324.2 410.9C1324.9 410.9 1326.1 411.8 1327 421.5C1327.9 431.3 1329.1 453.5 1330.1 475.8C1331 498.1 1332.7 550 1333.6 570.2C1334.5 590.3 1334.9 603.7 1336 610.3C1337 616.8 1338.9 613.1 1340.7 613.8C1342.4 614.5 1345.8 613.8 1347.8 615C1349.7 616.2 1352.1 619.3 1353.7 622.1C1355.2 624.9 1357.1 631.6 1358.4 633.9C1359.7 636.2 1361.1 637.4 1362.4 637.4C1363.6 637.4 1365.2 628.3 1366.6 624.4C1368 620.5 1370.4 611.5 1371.8 611.5C1373.2 611.5 1374.5 623.7 1376.1 629.2C1377.6 634.6 1380.4 648 1382 648C1383.6 648 1385.3 634.8 1386.7 629.2C1388.1 623.5 1390.2 613.3 1391.4 610.3C1392.6 607.3 1393.5 609.1 1394.9 609.1C1396.4 609.1 1398.7 611.4 1400.8 612.6C1403 613.9 1407 617.4 1409.1 617.4C1411.2 617.4 1413.4 611.9 1415 610.3C1416.6 608.7 1418.1 606.7 1419.7 606.7C1421.3 606.7 1423.9 614.2 1425.6 617.4C1427.4 620.5 1429.7 628 1431.5 628C1433.3 628 1436 624.4 1437.4 624.4C1438.8 624.4 1439.7 634.6 1441 641C1442.2 647.3 1444.4 662.1 1445.7 666.9C1446.9 671.7 1448 672.8 1449.2 672.8C1450.5 672.8 1452.7 662.7 1453.9 659.8C1455.2 657 1456.2 653.9 1457.5 653.9C1458.7 653.9 1460.6 662.5 1462.2 666.9C1463.8 671.3 1466.3 683.4 1468.1 683.4C1469.9 683.4 1471.9 676.2 1474 671.6C1476.1 667 1479.6 658.4 1482.3 652.8C1484.9 647.1 1489.2 639.2 1491.7 633.9C1494.2 628.6 1496.8 621.2 1498.8 617.4C1500.7 613.5 1503.1 608.4 1504.7 608.4C1506.3 608.4 1508 620.1 1509.4 626.8C1510.8 633.5 1512.9 647.3 1514.1 652.8C1515.3 658.2 1516.4 663.4 1517.6 663.4C1518.9 663.4 1520.8 652.1 1522.4 648C1524 644 1526.8 638.2 1528.3 636.2C1529.7 634.3 1530.4 635.1 1531.8 635.1C1533.2 635.1 1535.9 639.5 1537.7 641C1539.5 642.4 1542 644.5 1543.6 644.5C1545.2 644.5 1546.6 639.7 1548.3 637.4C1550.1 635.1 1553.6 630.8 1555.4 629.2C1557.2 627.6 1558.7 626.8 1560.1 626.8C1561.5 626.8 1563.2 635.7 1564.8 641C1566.4 646.3 1569.3 657.9 1570.7 662.2C1572.2 666.4 1573 669.3 1574.3 669.3C1575.5 669.3 1577.4 660.4 1579 655.1C1580.6 649.8 1583.3 638.3 1584.9 633.9C1586.5 629.5 1588.2 625.6 1589.6 625.6C1591 625.6 1592.7 632.2 1594.3 636.2C1595.9 640.3 1598.9 649.9 1600.2 652.8C1601.5 655.6 1602 655.1 1603.1 655.1C1604.1 655.1 1605.8 645 1607.3 641C1608.8 636.9 1611.8 630.1 1613.2 628C1614.6 625.9 1615.2 626.8 1616.7 626.8C1618.3 626.8 1622.1 630.6 1623.8 631.5C1625.6 632.4 1627 632.7 1628.5 632.7C1630.1 632.7 1632.7 626.5 1634.4 624.4C1636.2 622.4 1638 619.3 1640.3 619.3C1642.6 619.3 1646.6 622.3 1649.8 623.3C1653 624.2 1658.4 625.6 1661.6 625.6C1664.8 625.6 1668.5 624.5 1671 623.3C1673.5 622 1676.2 618.5 1678.1 617.4C1680 616.2 1681.9 615.7 1684 615.7C1686.1 615.7 1690.1 617.4 1692.3 619.7C1694.4 622.1 1696.6 627.3 1698.2 631.5C1699.7 635.8 1701.6 644.7 1702.9 648C1704.1 651.4 1705.2 653.9 1706.4 653.9C1707.7 653.9 1709.7 643.4 1711.1 638.6C1712.5 633.8 1714.3 625.1 1715.9 622.1C1717.4 619.1 1719.3 618.5 1721.8 618.5C1724.2 618.5 1729.4 618.5 1732.4 618.5C1735.4 618.5 1739 619.5 1741.8 620.9C1744.6 622.3 1748.8 625.3 1751.2 628C1753.7 630.6 1756.2 635.6 1758.3 638.6C1760.4 641.6 1763.3 648 1765.4 648C1767.5 648 1770.4 641.6 1772.5 638.6C1774.6 635.6 1777.8 630.1 1779.6 628C1781.3 625.9 1782.5 624.4 1784.3 624.4C1786.1 624.4 1789.2 628.2 1791.4 629.2C1793.5 630.2 1796.3 631.1 1798.4 631.1C1800.6 631.1 1803.6 628.3 1805.5 626.8C1807.5 625.3 1809.8 620.9 1811.4 620.9C1813 620.9 1814.7 626.7 1816.1 629.2C1817.6 631.6 1819.4 637.4 1820.9 637.4C1822.3 637.4 1824.2 626.9 1825.6 622.1C1827 617.3 1829.2 608.6 1830.3 605.6C1831.4 602.6 1831.8 602 1832.7 602C1833.5 602 1835 612.1 1836.2 617.4C1837.4 622.7 1839.5 637.4 1840.9 637.4C1842.3 637.4 1844.2 625.7 1845.6 617.4C1847 609 1848.9 590.8 1850.3 582C1851.8 573.1 1853.7 563 1855.1 558.4C1856.5 553.7 1858.4 550.8 1859.8 550.8C1861.2 550.8 1862.9 554.1 1864.5 558.4C1866.1 562.7 1868.6 573.6 1870.4 579.6C1872.2 585.6 1874.5 593.5 1876.3 598.5C1878.1 603.4 1880.4 609.1 1882.2 612.6C1884 616.2 1886.5 620.4 1888.1 622.1C1889.7 623.8 1891.4 624 1892.8 624C1894.2 624 1896.1 620.7 1897.5 619.7C1899 618.7 1900.7 617.4 1902.3 617.4C1903.9 617.4 1906.2 619.7 1908.2 620.2C1910.1 620.7 1913.1 619.7 1915 620.9C1916.9 622.1 1919 626 1920.9 628C1922.8 629.9 1925.7 632.8 1928 633.9C1930.3 634.9 1933.9 635.1 1936.2 635.1C1938.5 635.1 1941.4 634.6 1943.3 632.7C1945.3 630.8 1947.4 625.4 1949.2 622.1C1951 618.7 1953.9 612.3 1955.1 610.3C1956.4 608.2 1956.6 608.4 1957.5 608.4C1958.4 608.4 1959.8 616.1 1961 619.7C1962.3 623.4 1964.1 632.7 1965.7 632.7C1967.3 632.7 1969.9 623.2 1971.6 617.4C1973.4 611.5 1975.9 599.3 1977.5 593.8C1979.1 588.3 1981.3 582.9 1982.2 580.8C1983.2 578.7 1983.2 579.6 1983.9 579.6C1984.6 579.6 1986 586.3 1987 593.8C1988 601.2 1989.4 621 1990.5 629.2C1991.6 637.3 1993.3 648 1994.5 648C1995.8 648 1997.6 630.5 1998.8 624.4C1999.9 618.4 2001.2 610.8 2002.3 607.9C2003.4 605.1 2004.6 605.6 2005.8 605.6C2007.1 605.6 2009.1 611.5 2010.6 611.5C2012 611.5 2013.9 602.6 2015.3 598.5C2016.7 594.4 2018.8 587.3 2020 584.3C2021.2 581.3 2022 578.4 2023.1 578.4C2024.1 578.4 2025.8 587.6 2027.1 593.8C2028.4 600 2030.6 619.7 2031.8 619.7C2033 619.7 2034.1 603.3 2035.3 593.8C2036.6 584.2 2038.9 563.1 2040.1 556C2041.2 548.9 2041.8 546.6 2042.9 546.6C2044 546.6 2045.6 555.1 2047.1 560.7C2048.7 566.4 2051.3 579.4 2053 584.3C2054.8 589.3 2057.2 593.8 2058.9 593.8C2060.7 593.8 2063.1 585.9 2064.8 582C2066.6 578.1 2068.8 571.2 2070.7 567.8C2072.7 564.5 2075.9 559.6 2077.8 559.6C2079.8 559.6 2081.9 565.7 2083.7 567.8C2085.5 569.9 2087.8 573.7 2089.6 573.7C2091.4 573.7 2093.7 574.5 2095.5 572.5C2097.3 570.6 2099.8 564.1 2101.4 560.7C2103 557.4 2105.1 552.1 2106.1 550.1C2107.2 548.2 2107.4 547.8 2108.5 547.8C2109.5 547.8 2111.6 556.9 2113.2 563.1C2114.8 569.3 2117.3 582.3 2119.1 589C2120.9 595.8 2123.4 604.1 2125 607.9C2126.6 611.7 2128 614.5 2129.7 614.5C2131.5 614.5 2134.7 609 2136.8 605.6C2138.9 602.1 2141.8 597.8 2143.9 591.4C2146 585 2149 575.1 2151 563.1C2152.9 551.1 2155.3 525 2156.9 511.2C2158.5 497.4 2160.3 478.6 2161.6 471.1C2162.8 463.6 2164.1 461.2 2165.1 461.2C2166.2 461.2 2167.4 464.9 2168.7 473.4C2169.9 482 2172 503.7 2173.4 518.3C2174.8 532.8 2176.7 556.7 2178.1 570.2C2179.5 583.6 2181.6 599.8 2182.8 607.9C2184.1 616.1 2185.1 624.4 2186.4 624.4C2187.6 624.4 2189.8 613.1 2191.1 610.3C2192.3 607.5 2193.4 605.6 2194.6 605.6C2195.9 605.6 2197.9 609.2 2199.3 610.3C2200.7 611.3 2202.5 612.6 2204.1 612.6C2205.6 612.6 2208.5 607.9 2210 607.9C2211.4 607.9 2212.3 607.8 2213.5 610.3C2214.7 612.8 2217 621.4 2218.2 624.4C2219.4 627.5 2220.7 630.3 2221.7 630.3C2222.8 630.3 2224.2 621 2225.3 612.6C2226.3 604.3 2227.8 583.6 2228.8 574.9C2229.9 566.2 2231.6 558.2 2232.4 554.8C2233.1 551.5 2233.1 552.5 2234 552.5C2234.9 552.5 2236.9 562.1 2238.3 565.5C2239.6 568.8 2241.4 573.1 2243 574.9C2244.6 576.7 2247.1 574.4 2248.9 577.3C2250.7 580.1 2253 589 2254.8 593.8C2256.6 598.5 2259.1 609.1 2260.7 609.1C2262.3 609.1 2264 594.7 2265.4 589C2266.8 583.4 2268.7 571.4 2270.1 571.4C2271.5 571.4 2273.2 577.9 2274.8 582C2276.4 586 2279.1 598.5 2280.7 598.5C2282.3 598.5 2284 598 2285.5 597.3C2286.9 596.6 2288.8 593.8 2290.2 593.8C2291.6 593.8 2293.7 605.3 2294.9 610.3C2296.1 615.2 2297.4 626.8 2298.4 626.8C2299.5 626.8 2300.9 605.8 2302 593.8C2303 581.7 2304.4 557.4 2305.5 546.6C2306.6 535.8 2308.3 521.8 2309.5 521.8C2310.8 521.8 2312.3 533.2 2313.8 541.9C2315.3 550.5 2317.9 572.2 2319.7 579.6C2321.4 587 2324 591.4 2325.6 591.4C2327.2 591.4 2328.9 585.2 2330.3 574.9C2331.7 564.6 2333.6 541.4 2335 523C2336.4 504.6 2338.5 468.1 2339.7 452.2C2341 436.3 2342.1 429.6 2343.3 416.8C2344.4 404 2345.9 367 2347.3 367C2348.7 367 2351.4 434.5 2352.7 452.2C2354 469.9 2355.4 479.9 2356.2 485.2C2357 490.5 2357.2 487.6 2358.1 487.6C2359 487.6 2361 472.1 2362.1 466.4C2363.2 460.7 2364.6 449.8 2365.7 449.8C2366.8 449.8 2368 459.7 2369.2 466.4C2370.4 473.1 2372.8 489.8 2373.9 494.7C2375 499.6 2375.5 499.4 2376.3 499.4C2377.1 499.4 2378.6 481.9 2379.5 464C2380.4 446.1 2381.2 412.1 2382 380C2382.8 347.9 2383.8 286.1 2384.5 250C2385.2 213.8 2386.2 139 2387 139C2387.8 139 2388.6 142.7 2389.7 155.8C2390.8 168.9 2392.7 205.4 2394 226.6C2395.3 247.8 2397.1 277.9 2398.7 297.4C2400.3 316.9 2402.8 338.8 2404.6 356.4C2406.4 374 2409.2 404.5 2410.5 415C2411.8 425.5 2412.5 426.2 2413.4 426.2C2414.3 426.2 2415.6 424.4 2416.4 410C2417.2 395.6 2417.9 350.4 2418.8 330C2419.7 309.6 2421.5 283.1 2422.3 273.8C2423.1 264.5 2423.3 267.9 2424 267.9C2424.7 267.9 2426 274.1 2427 285.6C2428 297.1 2429.5 326.7 2430.6 344.6C2431.7 362.5 2433.1 390.6 2434 405C2434.9 419.4 2435.5 430.5 2436.5 440.4C2437.5 450.3 2439.5 471.1 2440.7 471.1C2441.9 471.1 2443.6 451.1 2444.7 440.4C2445.8 429.7 2447.2 414.4 2448 400C2448.8 385.6 2449.3 357 2450 344.6C2450.7 332.2 2451.7 317.4 2452.5 317.4C2453.3 317.4 2454.6 331.5 2455.4 344.6C2456.2 357.7 2457 385.3 2457.7 405C2458.4 424.7 2459.4 452.8 2460.1 475.8C2460.8 498.8 2461.8 542.6 2462.4 558.4C2463 574.1 2463.6 580.8 2464.3 580.8C2465 580.8 2466.3 548.8 2467.1 534.8C2467.9 520.8 2468.8 496.6 2469.5 487.6C2470.2 478.6 2471.2 474.6 2471.9 474.6C2472.6 474.6 2473.3 476.8 2474.2 487.6C2475.1 498.4 2476.7 529.6 2477.8 546.6C2478.9 563.6 2480.4 590.3 2481.3 600.9C2482.2 611.5 2482.8 617.4 2483.7 617.4C2484.6 617.4 2486.1 614.3 2487.2 612.7C2488.2 611.1 2489.8 606.8 2490.7 606.8C2491.6 606.8 2492.2 615.2 2493.1 622.1C2494 629 2495.5 642.9 2496.6 652.8C2497.7 662.7 2499.1 677.4 2500.2 688.2C2501.3 699 2503.1 712.4 2503.7 725C2504.3 737.6 2504 758 2504.3 772.2C2504.6 786.4 2505.3 803.5 2505.7 819.4C2506.2 835.3 2506.8 862.5 2507.3 878.4C2507.8 894.3 2508.8 918 2509.2 925.6C2509.6 933.2 2509.7 928.5 2509.8 929" fill="none" stroke="#2f7fb0" stroke-width="9" stroke-opacity="0.5" stroke-linejoin="round" stroke-linecap="round" filter="url(#b3)"/>
<path d="M109.4 603.2C110.1 606.7 112.6 618.5 114.2 626.8C115.8 635.1 118.5 658.7 120.1 658.7C121.6 658.7 123.2 642 124.8 631.5C126.4 621.1 128.9 600 130.7 589C132.4 578.1 135.2 563.8 136.6 558.4C137.9 553 138.8 553.2 139.6 553.2C140.5 553.2 141.5 557.6 142.5 565.5C143.4 573.3 145 595.5 146 605.6C147.1 615.7 148.5 632.7 149.6 632.7C150.6 632.7 152 627.5 153.1 624.4C154.2 621.4 155.6 612.6 156.6 612.6C157.7 612.6 158.6 616.7 160.2 619.7C161.8 622.7 165.3 632.7 167.2 632.7C169.2 632.7 171.2 628.6 173.1 625.6C175.1 622.6 178 615.7 180.2 612.6C182.4 609.6 185.7 605.1 187.8 605.1C189.9 605.1 192.5 607.5 194.4 611.5C196.3 615.4 198.4 626.2 200.3 631.5C202.1 636.8 204.7 646.9 206.7 646.9C208.6 646.9 211.2 637.9 213.3 635.1C215.3 632.2 218.2 628 220.3 628C222.5 628 225.3 628 227.4 628C229.5 628 232.4 624.4 234.5 624.4C236.6 624.4 239.8 627.1 241.6 628C243.3 628.9 244.5 630.3 246.3 630.3C248.1 630.3 251.3 624.9 253.4 623.3C255.5 621.7 258.3 619.7 260.5 619.7C262.6 619.7 265.6 623 267.5 624.4C269.5 625.9 271.3 629.2 273.4 629.2C275.6 629.2 279 625 281.7 623.3C284.3 621.5 288.3 617.4 291.1 617.4C294 617.4 297.9 620.9 300.6 620.9C303.2 620.9 307.1 619.3 308.8 619.3C310.6 619.3 311.1 621.2 312.4 624.4C313.6 627.7 315.5 636.7 317.1 641C318.7 645.2 321.2 652.8 323 652.8C324.8 652.8 327.1 649.2 328.9 645.7C330.7 642.1 333.2 633.2 334.8 629.2C336.4 625.1 337.9 618.5 339.5 618.5C341.1 618.5 343.6 621 345.4 622.1C347.2 623.1 349.2 625.6 351.3 625.6C353.4 625.6 357.1 622.7 359.6 620.9C362 619.1 365.5 613.8 367.8 613.8C370.1 613.8 372.6 617.2 374.9 619.7C377.2 622.2 381.2 628.2 383.2 630.3C385.1 632.5 386.3 633.9 387.9 633.9C389.5 633.9 392.2 626.7 393.8 624.4C395.4 622.1 396.9 618.5 398.5 618.5C400.1 618.5 402.4 621.7 404.4 623.3C406.3 624.9 409.5 628 411.5 629.2C413.4 630.3 415.2 631.1 417.4 631.1C419.5 631.1 423 628.7 425.6 626.8C428.3 624.9 432.4 620.1 435.1 618.5C437.7 617 441.6 616.2 443.3 616.2C445.1 616.2 445.8 621 446.9 626.8C447.9 632.6 449.3 648.2 450.4 655.1C451.5 662 452.9 672.8 453.9 672.8C455 672.8 456.4 662.8 457.5 652.8C458.5 642.7 460 616.4 461 605.6C462.1 594.8 463.7 584.9 464.6 580.8C465.4 576.7 465.9 578.4 466.9 578.4C468 578.4 470 582.6 471.6 586.7C473.2 590.8 475.8 600.4 477.5 605.6C479.3 610.7 481.8 620.9 483.4 620.9C485 620.9 486.7 604.2 488.2 598.5C489.6 592.8 491.3 583.2 492.9 583.2C494.5 583.2 496.8 591.2 498.8 598.5C500.7 605.7 503.9 623.4 505.9 631.5C507.8 639.7 510.2 652.8 511.8 652.8C513.3 652.8 515.1 637.9 516.5 631.5C517.9 625.2 520.1 614 521.2 610.3C522.3 606.6 522.5 606.7 523.5 606.7C524.6 606.7 527 612.7 528.3 615C529.5 617.3 530.2 622.1 531.8 622.1C533.4 622.1 536.4 617.4 538.9 617.4C541.4 617.4 545.3 619.6 548.3 620.9C551.3 622.2 555.8 626.3 558.9 626.3C562.1 626.3 566.6 622 569.6 620.9C572.6 619.8 576.5 619.3 579 619.3C581.5 619.3 584.3 619.7 586.1 619.7C587.8 619.7 589.2 617.7 590.8 616.2C592.4 614.7 594.9 609.8 596.7 609.8C598.5 609.8 601 617 602.6 619.7C604.2 622.4 605.7 628 607.3 628C608.9 628 611.3 621.8 613.2 617.4C615.2 612.9 618.4 602.8 620.3 598.5C622.2 594.2 624.1 588.6 625.7 588.6C627.3 588.6 629.1 593.5 630.9 598.5C632.8 603.5 635.9 616.2 638 622.1C640.1 627.9 643.1 637.4 645.1 637.4C647 637.4 649.2 628 651 624.4C652.7 620.9 655.1 613.8 656.9 613.8C658.6 613.8 661.3 616.5 662.8 617.4C664.2 618.2 664.9 619.7 666.3 619.7C667.7 619.7 670.4 618.5 672.2 618.5C674 618.5 676.2 623.4 678.1 625.6C680 627.9 683.1 633.4 685.2 633.4C687.3 633.4 690.1 630.2 692.3 628C694.4 625.8 697.4 618.5 699.3 618.5C701.3 618.5 703.1 618.5 705 618.5C706.9 618.5 710.1 620.9 712.1 620.9C714 620.9 716.4 615.2 718 613.8C719.6 612.4 721.1 611.5 722.7 611.5C724.3 611.5 726.6 616.6 728.6 622.1C730.5 627.6 733.7 641.7 735.7 648C737.6 654.4 739.8 664.6 741.6 664.6C743.3 664.6 745.5 655.8 747.5 648C749.4 640.3 752.4 622.2 754.6 612.6C756.7 603.1 759.5 590.7 761.6 584.3C763.8 578 766.6 572.8 768.7 570.2C770.8 567.5 774 570.2 775.8 566.6C777.6 563.1 779.3 560.2 780.5 546.6C781.7 532.9 783 493.1 784 475.8C785.1 458.4 786.7 438.5 787.6 431C788.5 423.5 789.2 425.8 789.9 425.8C790.7 425.8 791.7 424.6 792.8 435.7C793.8 446.7 795.9 485.2 797 499.4C798.2 513.5 799.5 530.1 800.6 530.1C801.6 530.1 803 528.9 804.1 527.7C805.2 526.5 806.6 521.8 807.6 521.8C808.7 521.8 809.9 527.1 811.2 537.1C812.4 547.2 814.5 574.9 815.9 589C817.3 603.2 819.2 622 820.6 631.5C822 641.1 824.1 648.5 825.3 652.8C826.6 657 827.6 659.8 828.9 659.8C830.1 659.8 832.4 652.2 833.6 650.4C834.8 648.6 836.1 648 837.1 648C838.2 648 839.3 653.6 840.7 657.5C842.1 661.4 844.8 674 846.6 674C848.3 674 850.7 665.1 852.5 659.8C854.2 654.5 856.6 642.8 858.4 638.6C860.1 634.4 862.9 635.4 864.3 631.5C865.7 627.6 866.6 621.8 867.8 612.6C869.1 603.4 871.3 578.1 872.5 570.2C873.8 562.2 875 559.6 876.1 559.6C877.1 559.6 878.2 566.2 879.6 574.9C881 583.6 883.7 617.4 885.5 617.4C887.3 617.4 889.5 612.9 891.4 607.9C893.4 603 896.7 590 898.5 584.3C900.3 578.7 902 579.4 903.2 570.2C904.4 561 905.7 542.4 906.7 523C907.8 503.5 909.2 459 910.3 440.4C911.3 421.8 912.8 399.1 913.8 399.1C914.9 399.1 916.3 410 917.4 428.6C918.4 447.2 919.8 496.3 920.9 523C922 549.7 923.7 606.7 924.9 606.7C926.2 606.7 928 581.3 929.2 570.2C930.3 559 931.5 539.5 932.7 532.4C933.9 525.3 936 526.5 937.4 523C938.8 519.4 940.9 521.2 942.1 508.8C943.4 496.4 944.8 461.3 945.7 440.4C946.6 419.5 947.5 386.9 948.3 369.6C949.1 352.3 950.3 324.8 951.1 324.8C951.9 324.8 953 354 953.7 369.6C954.4 385.2 955.3 409.1 956.1 428.6C956.8 448.1 957.5 478 958.7 499.4C959.8 520.8 962.4 571.4 963.8 571.4C965.3 571.4 966.8 557.4 968.1 546.6C969.4 535.8 971.4 516.4 972.8 499.4C974.2 482.4 976.4 445.2 977.5 433.3C978.7 421.5 979.7 420.3 980.6 420.3C981.5 420.3 982.3 425 983.4 440.4C984.6 455.8 987.1 506.3 988.2 523C989.2 539.6 989.6 551.3 990.5 551.3C991.4 551.3 992.7 516.4 994.1 499.4C995.4 482.4 998 438 999.2 438C1000.5 438 1001.1 456 1002.3 475.8C1003.5 495.6 1005.8 550.4 1007 570.2C1008.3 590 1009.3 607.9 1010.6 607.9C1011.8 607.9 1013.9 602.7 1015.3 598.5C1016.7 594.2 1018.6 588.5 1020 579.6C1021.4 570.8 1023.5 547.6 1024.7 539.5C1026 531.4 1027.2 525.3 1028.3 525.3C1029.3 525.3 1030.6 535.6 1031.8 546.6C1033 557.5 1034.9 584.3 1036.5 598.5C1038.1 612.6 1040.5 631.1 1042.4 641C1044.4 650.9 1047.6 659.8 1049.5 664.6C1051.4 669.3 1054 672.8 1055.4 672.8C1056.8 672.8 1057.9 656.4 1058.9 641C1060 625.6 1061.2 586.5 1062.5 570.2C1063.7 553.9 1066 532.4 1067.2 532.4C1068.4 532.4 1069.3 543.5 1070.7 551.3C1072.2 559.1 1075 584.3 1076.6 584.3C1078.2 584.3 1079.9 562 1081.4 556C1082.8 550 1084.7 544.2 1086.1 544.2C1087.5 544.2 1089.2 550.5 1090.8 560.7C1092.4 571 1095.1 599.2 1096.7 612.6C1098.3 626.1 1100.2 643.7 1101.4 650.4C1102.7 657.1 1103.7 657.5 1105 657.5C1106.2 657.5 1108.3 638.2 1109.7 629.2C1111.1 620.1 1113.2 597.3 1114.4 597.3C1115.6 597.3 1116.5 618 1117.9 629.2C1119.3 640.3 1122.2 671.6 1123.8 671.6C1125.4 671.6 1127.1 654.1 1128.5 641C1130 627.9 1131.9 598.8 1133.3 584.3C1134.7 569.8 1136.7 552 1138 544.2C1139.2 536.4 1140.5 532.4 1141.5 532.4C1142.6 532.4 1143.8 538.6 1145.1 551.3C1146.3 564 1148.4 596.8 1149.8 617.4C1151.2 637.9 1153.1 672.6 1154.5 688.2C1155.9 703.7 1158.1 715.5 1159.2 721.2C1160.4 726.9 1161.2 726.4 1162.3 726.4C1163.4 726.4 1165 697.4 1166.3 688.2C1167.6 678.9 1169.4 669.5 1171 664.6C1172.6 659.6 1175 658.7 1176.9 655.1C1178.9 651.6 1181.9 645.9 1184 641C1186.1 636 1189 628.1 1191.1 622.1C1193.2 616.1 1196.4 610.4 1198.2 600.8C1199.9 591.3 1201.6 570.8 1202.9 558.4C1204.1 546 1205.4 525.5 1206.4 518.3C1207.4 511 1208.6 510 1209.5 510C1210.4 510 1211.2 516.6 1212.3 527.7C1213.4 538.8 1215.8 572.6 1217 584.3C1218.3 596 1219.3 605.6 1220.6 605.6C1221.8 605.6 1223.9 589.5 1225.3 584.3C1226.7 579.2 1228.4 571.4 1230 571.4C1231.6 571.4 1234.3 571.4 1235.9 571.4C1237.5 571.4 1239.2 582.1 1240.6 589C1242 596 1244.1 611.7 1245.3 617.4C1246.6 623 1247.8 626.8 1248.9 626.8C1250 626.8 1251.4 619.3 1252.4 617.4C1253.5 615.4 1254.9 613.8 1256 613.8C1257 613.8 1258.3 618 1259.5 629.2C1260.7 640.3 1263 675.1 1264.2 688.2C1265.5 701.2 1266.7 716.5 1267.8 716.5C1268.8 716.5 1270.1 701.2 1271.3 688.2C1272.5 675.1 1274.8 639.4 1276 629.2C1277.3 618.9 1278.1 619.7 1279.6 619.7C1281 619.7 1283.9 624.4 1285.5 624.4C1287.1 624.4 1288.8 601 1290.2 593.8C1291.6 586.5 1293.5 576.1 1294.9 576.1C1296.3 576.1 1298.2 587.7 1299.6 591.4C1301 595.1 1302.8 600.8 1304.3 600.8C1305.9 600.8 1308.4 597.2 1310 589C1311.6 580.9 1313.5 565.3 1314.7 546.6C1316 527.8 1317.2 483.5 1318.3 464C1319.3 444.5 1320.9 424.8 1321.8 416.8C1322.7 408.8 1323.4 410.9 1324.2 410.9C1324.9 410.9 1326.1 411.8 1327 421.5C1327.9 431.3 1329.1 453.5 1330.1 475.8C1331 498.1 1332.7 550 1333.6 570.2C1334.5 590.3 1334.9 603.7 1336 610.3C1337 616.8 1338.9 613.1 1340.7 613.8C1342.4 614.5 1345.8 613.8 1347.8 615C1349.7 616.2 1352.1 619.3 1353.7 622.1C1355.2 624.9 1357.1 631.6 1358.4 633.9C1359.7 636.2 1361.1 637.4 1362.4 637.4C1363.6 637.4 1365.2 628.3 1366.6 624.4C1368 620.5 1370.4 611.5 1371.8 611.5C1373.2 611.5 1374.5 623.7 1376.1 629.2C1377.6 634.6 1380.4 648 1382 648C1383.6 648 1385.3 634.8 1386.7 629.2C1388.1 623.5 1390.2 613.3 1391.4 610.3C1392.6 607.3 1393.5 609.1 1394.9 609.1C1396.4 609.1 1398.7 611.4 1400.8 612.6C1403 613.9 1407 617.4 1409.1 617.4C1411.2 617.4 1413.4 611.9 1415 610.3C1416.6 608.7 1418.1 606.7 1419.7 606.7C1421.3 606.7 1423.9 614.2 1425.6 617.4C1427.4 620.5 1429.7 628 1431.5 628C1433.3 628 1436 624.4 1437.4 624.4C1438.8 624.4 1439.7 634.6 1441 641C1442.2 647.3 1444.4 662.1 1445.7 666.9C1446.9 671.7 1448 672.8 1449.2 672.8C1450.5 672.8 1452.7 662.7 1453.9 659.8C1455.2 657 1456.2 653.9 1457.5 653.9C1458.7 653.9 1460.6 662.5 1462.2 666.9C1463.8 671.3 1466.3 683.4 1468.1 683.4C1469.9 683.4 1471.9 676.2 1474 671.6C1476.1 667 1479.6 658.4 1482.3 652.8C1484.9 647.1 1489.2 639.2 1491.7 633.9C1494.2 628.6 1496.8 621.2 1498.8 617.4C1500.7 613.5 1503.1 608.4 1504.7 608.4C1506.3 608.4 1508 620.1 1509.4 626.8C1510.8 633.5 1512.9 647.3 1514.1 652.8C1515.3 658.2 1516.4 663.4 1517.6 663.4C1518.9 663.4 1520.8 652.1 1522.4 648C1524 644 1526.8 638.2 1528.3 636.2C1529.7 634.3 1530.4 635.1 1531.8 635.1C1533.2 635.1 1535.9 639.5 1537.7 641C1539.5 642.4 1542 644.5 1543.6 644.5C1545.2 644.5 1546.6 639.7 1548.3 637.4C1550.1 635.1 1553.6 630.8 1555.4 629.2C1557.2 627.6 1558.7 626.8 1560.1 626.8C1561.5 626.8 1563.2 635.7 1564.8 641C1566.4 646.3 1569.3 657.9 1570.7 662.2C1572.2 666.4 1573 669.3 1574.3 669.3C1575.5 669.3 1577.4 660.4 1579 655.1C1580.6 649.8 1583.3 638.3 1584.9 633.9C1586.5 629.5 1588.2 625.6 1589.6 625.6C1591 625.6 1592.7 632.2 1594.3 636.2C1595.9 640.3 1598.9 649.9 1600.2 652.8C1601.5 655.6 1602 655.1 1603.1 655.1C1604.1 655.1 1605.8 645 1607.3 641C1608.8 636.9 1611.8 630.1 1613.2 628C1614.6 625.9 1615.2 626.8 1616.7 626.8C1618.3 626.8 1622.1 630.6 1623.8 631.5C1625.6 632.4 1627 632.7 1628.5 632.7C1630.1 632.7 1632.7 626.5 1634.4 624.4C1636.2 622.4 1638 619.3 1640.3 619.3C1642.6 619.3 1646.6 622.3 1649.8 623.3C1653 624.2 1658.4 625.6 1661.6 625.6C1664.8 625.6 1668.5 624.5 1671 623.3C1673.5 622 1676.2 618.5 1678.1 617.4C1680 616.2 1681.9 615.7 1684 615.7C1686.1 615.7 1690.1 617.4 1692.3 619.7C1694.4 622.1 1696.6 627.3 1698.2 631.5C1699.7 635.8 1701.6 644.7 1702.9 648C1704.1 651.4 1705.2 653.9 1706.4 653.9C1707.7 653.9 1709.7 643.4 1711.1 638.6C1712.5 633.8 1714.3 625.1 1715.9 622.1C1717.4 619.1 1719.3 618.5 1721.8 618.5C1724.2 618.5 1729.4 618.5 1732.4 618.5C1735.4 618.5 1739 619.5 1741.8 620.9C1744.6 622.3 1748.8 625.3 1751.2 628C1753.7 630.6 1756.2 635.6 1758.3 638.6C1760.4 641.6 1763.3 648 1765.4 648C1767.5 648 1770.4 641.6 1772.5 638.6C1774.6 635.6 1777.8 630.1 1779.6 628C1781.3 625.9 1782.5 624.4 1784.3 624.4C1786.1 624.4 1789.2 628.2 1791.4 629.2C1793.5 630.2 1796.3 631.1 1798.4 631.1C1800.6 631.1 1803.6 628.3 1805.5 626.8C1807.5 625.3 1809.8 620.9 1811.4 620.9C1813 620.9 1814.7 626.7 1816.1 629.2C1817.6 631.6 1819.4 637.4 1820.9 637.4C1822.3 637.4 1824.2 626.9 1825.6 622.1C1827 617.3 1829.2 608.6 1830.3 605.6C1831.4 602.6 1831.8 602 1832.7 602C1833.5 602 1835 612.1 1836.2 617.4C1837.4 622.7 1839.5 637.4 1840.9 637.4C1842.3 637.4 1844.2 625.7 1845.6 617.4C1847 609 1848.9 590.8 1850.3 582C1851.8 573.1 1853.7 563 1855.1 558.4C1856.5 553.7 1858.4 550.8 1859.8 550.8C1861.2 550.8 1862.9 554.1 1864.5 558.4C1866.1 562.7 1868.6 573.6 1870.4 579.6C1872.2 585.6 1874.5 593.5 1876.3 598.5C1878.1 603.4 1880.4 609.1 1882.2 612.6C1884 616.2 1886.5 620.4 1888.1 622.1C1889.7 623.8 1891.4 624 1892.8 624C1894.2 624 1896.1 620.7 1897.5 619.7C1899 618.7 1900.7 617.4 1902.3 617.4C1903.9 617.4 1906.2 619.7 1908.2 620.2C1910.1 620.7 1913.1 619.7 1915 620.9C1916.9 622.1 1919 626 1920.9 628C1922.8 629.9 1925.7 632.8 1928 633.9C1930.3 634.9 1933.9 635.1 1936.2 635.1C1938.5 635.1 1941.4 634.6 1943.3 632.7C1945.3 630.8 1947.4 625.4 1949.2 622.1C1951 618.7 1953.9 612.3 1955.1 610.3C1956.4 608.2 1956.6 608.4 1957.5 608.4C1958.4 608.4 1959.8 616.1 1961 619.7C1962.3 623.4 1964.1 632.7 1965.7 632.7C1967.3 632.7 1969.9 623.2 1971.6 617.4C1973.4 611.5 1975.9 599.3 1977.5 593.8C1979.1 588.3 1981.3 582.9 1982.2 580.8C1983.2 578.7 1983.2 579.6 1983.9 579.6C1984.6 579.6 1986 586.3 1987 593.8C1988 601.2 1989.4 621 1990.5 629.2C1991.6 637.3 1993.3 648 1994.5 648C1995.8 648 1997.6 630.5 1998.8 624.4C1999.9 618.4 2001.2 610.8 2002.3 607.9C2003.4 605.1 2004.6 605.6 2005.8 605.6C2007.1 605.6 2009.1 611.5 2010.6 611.5C2012 611.5 2013.9 602.6 2015.3 598.5C2016.7 594.4 2018.8 587.3 2020 584.3C2021.2 581.3 2022 578.4 2023.1 578.4C2024.1 578.4 2025.8 587.6 2027.1 593.8C2028.4 600 2030.6 619.7 2031.8 619.7C2033 619.7 2034.1 603.3 2035.3 593.8C2036.6 584.2 2038.9 563.1 2040.1 556C2041.2 548.9 2041.8 546.6 2042.9 546.6C2044 546.6 2045.6 555.1 2047.1 560.7C2048.7 566.4 2051.3 579.4 2053 584.3C2054.8 589.3 2057.2 593.8 2058.9 593.8C2060.7 593.8 2063.1 585.9 2064.8 582C2066.6 578.1 2068.8 571.2 2070.7 567.8C2072.7 564.5 2075.9 559.6 2077.8 559.6C2079.8 559.6 2081.9 565.7 2083.7 567.8C2085.5 569.9 2087.8 573.7 2089.6 573.7C2091.4 573.7 2093.7 574.5 2095.5 572.5C2097.3 570.6 2099.8 564.1 2101.4 560.7C2103 557.4 2105.1 552.1 2106.1 550.1C2107.2 548.2 2107.4 547.8 2108.5 547.8C2109.5 547.8 2111.6 556.9 2113.2 563.1C2114.8 569.3 2117.3 582.3 2119.1 589C2120.9 595.8 2123.4 604.1 2125 607.9C2126.6 611.7 2128 614.5 2129.7 614.5C2131.5 614.5 2134.7 609 2136.8 605.6C2138.9 602.1 2141.8 597.8 2143.9 591.4C2146 585 2149 575.1 2151 563.1C2152.9 551.1 2155.3 525 2156.9 511.2C2158.5 497.4 2160.3 478.6 2161.6 471.1C2162.8 463.6 2164.1 461.2 2165.1 461.2C2166.2 461.2 2167.4 464.9 2168.7 473.4C2169.9 482 2172 503.7 2173.4 518.3C2174.8 532.8 2176.7 556.7 2178.1 570.2C2179.5 583.6 2181.6 599.8 2182.8 607.9C2184.1 616.1 2185.1 624.4 2186.4 624.4C2187.6 624.4 2189.8 613.1 2191.1 610.3C2192.3 607.5 2193.4 605.6 2194.6 605.6C2195.9 605.6 2197.9 609.2 2199.3 610.3C2200.7 611.3 2202.5 612.6 2204.1 612.6C2205.6 612.6 2208.5 607.9 2210 607.9C2211.4 607.9 2212.3 607.8 2213.5 610.3C2214.7 612.8 2217 621.4 2218.2 624.4C2219.4 627.5 2220.7 630.3 2221.7 630.3C2222.8 630.3 2224.2 621 2225.3 612.6C2226.3 604.3 2227.8 583.6 2228.8 574.9C2229.9 566.2 2231.6 558.2 2232.4 554.8C2233.1 551.5 2233.1 552.5 2234 552.5C2234.9 552.5 2236.9 562.1 2238.3 565.5C2239.6 568.8 2241.4 573.1 2243 574.9C2244.6 576.7 2247.1 574.4 2248.9 577.3C2250.7 580.1 2253 589 2254.8 593.8C2256.6 598.5 2259.1 609.1 2260.7 609.1C2262.3 609.1 2264 594.7 2265.4 589C2266.8 583.4 2268.7 571.4 2270.1 571.4C2271.5 571.4 2273.2 577.9 2274.8 582C2276.4 586 2279.1 598.5 2280.7 598.5C2282.3 598.5 2284 598 2285.5 597.3C2286.9 596.6 2288.8 593.8 2290.2 593.8C2291.6 593.8 2293.7 605.3 2294.9 610.3C2296.1 615.2 2297.4 626.8 2298.4 626.8C2299.5 626.8 2300.9 605.8 2302 593.8C2303 581.7 2304.4 557.4 2305.5 546.6C2306.6 535.8 2308.3 521.8 2309.5 521.8C2310.8 521.8 2312.3 533.2 2313.8 541.9C2315.3 550.5 2317.9 572.2 2319.7 579.6C2321.4 587 2324 591.4 2325.6 591.4C2327.2 591.4 2328.9 585.2 2330.3 574.9C2331.7 564.6 2333.6 541.4 2335 523C2336.4 504.6 2338.5 468.1 2339.7 452.2C2341 436.3 2342.1 429.6 2343.3 416.8C2344.4 404 2345.9 367 2347.3 367C2348.7 367 2351.4 434.5 2352.7 452.2C2354 469.9 2355.4 479.9 2356.2 485.2C2357 490.5 2357.2 487.6 2358.1 487.6C2359 487.6 2361 472.1 2362.1 466.4C2363.2 460.7 2364.6 449.8 2365.7 449.8C2366.8 449.8 2368 459.7 2369.2 466.4C2370.4 473.1 2372.8 489.8 2373.9 494.7C2375 499.6 2375.5 499.4 2376.3 499.4C2377.1 499.4 2378.6 481.9 2379.5 464C2380.4 446.1 2381.2 412.1 2382 380C2382.8 347.9 2383.8 286.1 2384.5 250C2385.2 213.8 2386.2 139 2387 139C2387.8 139 2388.6 142.7 2389.7 155.8C2390.8 168.9 2392.7 205.4 2394 226.6C2395.3 247.8 2397.1 277.9 2398.7 297.4C2400.3 316.9 2402.8 338.8 2404.6 356.4C2406.4 374 2409.2 404.5 2410.5 415C2411.8 425.5 2412.5 426.2 2413.4 426.2C2414.3 426.2 2415.6 424.4 2416.4 410C2417.2 395.6 2417.9 350.4 2418.8 330C2419.7 309.6 2421.5 283.1 2422.3 273.8C2423.1 264.5 2423.3 267.9 2424 267.9C2424.7 267.9 2426 274.1 2427 285.6C2428 297.1 2429.5 326.7 2430.6 344.6C2431.7 362.5 2433.1 390.6 2434 405C2434.9 419.4 2435.5 430.5 2436.5 440.4C2437.5 450.3 2439.5 471.1 2440.7 471.1C2441.9 471.1 2443.6 451.1 2444.7 440.4C2445.8 429.7 2447.2 414.4 2448 400C2448.8 385.6 2449.3 357 2450 344.6C2450.7 332.2 2451.7 317.4 2452.5 317.4C2453.3 317.4 2454.6 331.5 2455.4 344.6C2456.2 357.7 2457 385.3 2457.7 405C2458.4 424.7 2459.4 452.8 2460.1 475.8C2460.8 498.8 2461.8 542.6 2462.4 558.4C2463 574.1 2463.6 580.8 2464.3 580.8C2465 580.8 2466.3 548.8 2467.1 534.8C2467.9 520.8 2468.8 496.6 2469.5 487.6C2470.2 478.6 2471.2 474.6 2471.9 474.6C2472.6 474.6 2473.3 476.8 2474.2 487.6C2475.1 498.4 2476.7 529.6 2477.8 546.6C2478.9 563.6 2480.4 590.3 2481.3 600.9C2482.2 611.5 2482.8 617.4 2483.7 617.4C2484.6 617.4 2486.1 614.3 2487.2 612.7C2488.2 611.1 2489.8 606.8 2490.7 606.8C2491.6 606.8 2492.2 615.2 2493.1 622.1C2494 629 2495.5 642.9 2496.6 652.8C2497.7 662.7 2499.1 677.4 2500.2 688.2C2501.3 699 2503.1 712.4 2503.7 725C2504.3 737.6 2504 758 2504.3 772.2C2504.6 786.4 2505.3 803.5 2505.7 819.4C2506.2 835.3 2506.8 862.5 2507.3 878.4C2507.8 894.3 2508.8 918 2509.2 925.6C2509.6 933.2 2509.7 928.5 2509.8 929" fill="none" stroke="#bfe6f6" stroke-width="5.2" stroke-opacity="0.85" stroke-linejoin="round" stroke-linecap="round" filter="url(#b2)"/>
<path d="M109.4 603.2C110.1 606.7 112.6 618.5 114.2 626.8C115.8 635.1 118.5 658.7 120.1 658.7C121.6 658.7 123.2 642 124.8 631.5C126.4 621.1 128.9 600 130.7 589C132.4 578.1 135.2 563.8 136.6 558.4C137.9 553 138.8 553.2 139.6 553.2C140.5 553.2 141.5 557.6 142.5 565.5C143.4 573.3 145 595.5 146 605.6C147.1 615.7 148.5 632.7 149.6 632.7C150.6 632.7 152 627.5 153.1 624.4C154.2 621.4 155.6 612.6 156.6 612.6C157.7 612.6 158.6 616.7 160.2 619.7C161.8 622.7 165.3 632.7 167.2 632.7C169.2 632.7 171.2 628.6 173.1 625.6C175.1 622.6 178 615.7 180.2 612.6C182.4 609.6 185.7 605.1 187.8 605.1C189.9 605.1 192.5 607.5 194.4 611.5C196.3 615.4 198.4 626.2 200.3 631.5C202.1 636.8 204.7 646.9 206.7 646.9C208.6 646.9 211.2 637.9 213.3 635.1C215.3 632.2 218.2 628 220.3 628C222.5 628 225.3 628 227.4 628C229.5 628 232.4 624.4 234.5 624.4C236.6 624.4 239.8 627.1 241.6 628C243.3 628.9 244.5 630.3 246.3 630.3C248.1 630.3 251.3 624.9 253.4 623.3C255.5 621.7 258.3 619.7 260.5 619.7C262.6 619.7 265.6 623 267.5 624.4C269.5 625.9 271.3 629.2 273.4 629.2C275.6 629.2 279 625 281.7 623.3C284.3 621.5 288.3 617.4 291.1 617.4C294 617.4 297.9 620.9 300.6 620.9C303.2 620.9 307.1 619.3 308.8 619.3C310.6 619.3 311.1 621.2 312.4 624.4C313.6 627.7 315.5 636.7 317.1 641C318.7 645.2 321.2 652.8 323 652.8C324.8 652.8 327.1 649.2 328.9 645.7C330.7 642.1 333.2 633.2 334.8 629.2C336.4 625.1 337.9 618.5 339.5 618.5C341.1 618.5 343.6 621 345.4 622.1C347.2 623.1 349.2 625.6 351.3 625.6C353.4 625.6 357.1 622.7 359.6 620.9C362 619.1 365.5 613.8 367.8 613.8C370.1 613.8 372.6 617.2 374.9 619.7C377.2 622.2 381.2 628.2 383.2 630.3C385.1 632.5 386.3 633.9 387.9 633.9C389.5 633.9 392.2 626.7 393.8 624.4C395.4 622.1 396.9 618.5 398.5 618.5C400.1 618.5 402.4 621.7 404.4 623.3C406.3 624.9 409.5 628 411.5 629.2C413.4 630.3 415.2 631.1 417.4 631.1C419.5 631.1 423 628.7 425.6 626.8C428.3 624.9 432.4 620.1 435.1 618.5C437.7 617 441.6 616.2 443.3 616.2C445.1 616.2 445.8 621 446.9 626.8C447.9 632.6 449.3 648.2 450.4 655.1C451.5 662 452.9 672.8 453.9 672.8C455 672.8 456.4 662.8 457.5 652.8C458.5 642.7 460 616.4 461 605.6C462.1 594.8 463.7 584.9 464.6 580.8C465.4 576.7 465.9 578.4 466.9 578.4C468 578.4 470 582.6 471.6 586.7C473.2 590.8 475.8 600.4 477.5 605.6C479.3 610.7 481.8 620.9 483.4 620.9C485 620.9 486.7 604.2 488.2 598.5C489.6 592.8 491.3 583.2 492.9 583.2C494.5 583.2 496.8 591.2 498.8 598.5C500.7 605.7 503.9 623.4 505.9 631.5C507.8 639.7 510.2 652.8 511.8 652.8C513.3 652.8 515.1 637.9 516.5 631.5C517.9 625.2 520.1 614 521.2 610.3C522.3 606.6 522.5 606.7 523.5 606.7C524.6 606.7 527 612.7 528.3 615C529.5 617.3 530.2 622.1 531.8 622.1C533.4 622.1 536.4 617.4 538.9 617.4C541.4 617.4 545.3 619.6 548.3 620.9C551.3 622.2 555.8 626.3 558.9 626.3C562.1 626.3 566.6 622 569.6 620.9C572.6 619.8 576.5 619.3 579 619.3C581.5 619.3 584.3 619.7 586.1 619.7C587.8 619.7 589.2 617.7 590.8 616.2C592.4 614.7 594.9 609.8 596.7 609.8C598.5 609.8 601 617 602.6 619.7C604.2 622.4 605.7 628 607.3 628C608.9 628 611.3 621.8 613.2 617.4C615.2 612.9 618.4 602.8 620.3 598.5C622.2 594.2 624.1 588.6 625.7 588.6C627.3 588.6 629.1 593.5 630.9 598.5C632.8 603.5 635.9 616.2 638 622.1C640.1 627.9 643.1 637.4 645.1 637.4C647 637.4 649.2 628 651 624.4C652.7 620.9 655.1 613.8 656.9 613.8C658.6 613.8 661.3 616.5 662.8 617.4C664.2 618.2 664.9 619.7 666.3 619.7C667.7 619.7 670.4 618.5 672.2 618.5C674 618.5 676.2 623.4 678.1 625.6C680 627.9 683.1 633.4 685.2 633.4C687.3 633.4 690.1 630.2 692.3 628C694.4 625.8 697.4 618.5 699.3 618.5C701.3 618.5 703.1 618.5 705 618.5C706.9 618.5 710.1 620.9 712.1 620.9C714 620.9 716.4 615.2 718 613.8C719.6 612.4 721.1 611.5 722.7 611.5C724.3 611.5 726.6 616.6 728.6 622.1C730.5 627.6 733.7 641.7 735.7 648C737.6 654.4 739.8 664.6 741.6 664.6C743.3 664.6 745.5 655.8 747.5 648C749.4 640.3 752.4 622.2 754.6 612.6C756.7 603.1 759.5 590.7 761.6 584.3C763.8 578 766.6 572.8 768.7 570.2C770.8 567.5 774 570.2 775.8 566.6C777.6 563.1 779.3 560.2 780.5 546.6C781.7 532.9 783 493.1 784 475.8C785.1 458.4 786.7 438.5 787.6 431C788.5 423.5 789.2 425.8 789.9 425.8C790.7 425.8 791.7 424.6 792.8 435.7C793.8 446.7 795.9 485.2 797 499.4C798.2 513.5 799.5 530.1 800.6 530.1C801.6 530.1 803 528.9 804.1 527.7C805.2 526.5 806.6 521.8 807.6 521.8C808.7 521.8 809.9 527.1 811.2 537.1C812.4 547.2 814.5 574.9 815.9 589C817.3 603.2 819.2 622 820.6 631.5C822 641.1 824.1 648.5 825.3 652.8C826.6 657 827.6 659.8 828.9 659.8C830.1 659.8 832.4 652.2 833.6 650.4C834.8 648.6 836.1 648 837.1 648C838.2 648 839.3 653.6 840.7 657.5C842.1 661.4 844.8 674 846.6 674C848.3 674 850.7 665.1 852.5 659.8C854.2 654.5 856.6 642.8 858.4 638.6C860.1 634.4 862.9 635.4 864.3 631.5C865.7 627.6 866.6 621.8 867.8 612.6C869.1 603.4 871.3 578.1 872.5 570.2C873.8 562.2 875 559.6 876.1 559.6C877.1 559.6 878.2 566.2 879.6 574.9C881 583.6 883.7 617.4 885.5 617.4C887.3 617.4 889.5 612.9 891.4 607.9C893.4 603 896.7 590 898.5 584.3C900.3 578.7 902 579.4 903.2 570.2C904.4 561 905.7 542.4 906.7 523C907.8 503.5 909.2 459 910.3 440.4C911.3 421.8 912.8 399.1 913.8 399.1C914.9 399.1 916.3 410 917.4 428.6C918.4 447.2 919.8 496.3 920.9 523C922 549.7 923.7 606.7 924.9 606.7C926.2 606.7 928 581.3 929.2 570.2C930.3 559 931.5 539.5 932.7 532.4C933.9 525.3 936 526.5 937.4 523C938.8 519.4 940.9 521.2 942.1 508.8C943.4 496.4 944.8 461.3 945.7 440.4C946.6 419.5 947.5 386.9 948.3 369.6C949.1 352.3 950.3 324.8 951.1 324.8C951.9 324.8 953 354 953.7 369.6C954.4 385.2 955.3 409.1 956.1 428.6C956.8 448.1 957.5 478 958.7 499.4C959.8 520.8 962.4 571.4 963.8 571.4C965.3 571.4 966.8 557.4 968.1 546.6C969.4 535.8 971.4 516.4 972.8 499.4C974.2 482.4 976.4 445.2 977.5 433.3C978.7 421.5 979.7 420.3 980.6 420.3C981.5 420.3 982.3 425 983.4 440.4C984.6 455.8 987.1 506.3 988.2 523C989.2 539.6 989.6 551.3 990.5 551.3C991.4 551.3 992.7 516.4 994.1 499.4C995.4 482.4 998 438 999.2 438C1000.5 438 1001.1 456 1002.3 475.8C1003.5 495.6 1005.8 550.4 1007 570.2C1008.3 590 1009.3 607.9 1010.6 607.9C1011.8 607.9 1013.9 602.7 1015.3 598.5C1016.7 594.2 1018.6 588.5 1020 579.6C1021.4 570.8 1023.5 547.6 1024.7 539.5C1026 531.4 1027.2 525.3 1028.3 525.3C1029.3 525.3 1030.6 535.6 1031.8 546.6C1033 557.5 1034.9 584.3 1036.5 598.5C1038.1 612.6 1040.5 631.1 1042.4 641C1044.4 650.9 1047.6 659.8 1049.5 664.6C1051.4 669.3 1054 672.8 1055.4 672.8C1056.8 672.8 1057.9 656.4 1058.9 641C1060 625.6 1061.2 586.5 1062.5 570.2C1063.7 553.9 1066 532.4 1067.2 532.4C1068.4 532.4 1069.3 543.5 1070.7 551.3C1072.2 559.1 1075 584.3 1076.6 584.3C1078.2 584.3 1079.9 562 1081.4 556C1082.8 550 1084.7 544.2 1086.1 544.2C1087.5 544.2 1089.2 550.5 1090.8 560.7C1092.4 571 1095.1 599.2 1096.7 612.6C1098.3 626.1 1100.2 643.7 1101.4 650.4C1102.7 657.1 1103.7 657.5 1105 657.5C1106.2 657.5 1108.3 638.2 1109.7 629.2C1111.1 620.1 1113.2 597.3 1114.4 597.3C1115.6 597.3 1116.5 618 1117.9 629.2C1119.3 640.3 1122.2 671.6 1123.8 671.6C1125.4 671.6 1127.1 654.1 1128.5 641C1130 627.9 1131.9 598.8 1133.3 584.3C1134.7 569.8 1136.7 552 1138 544.2C1139.2 536.4 1140.5 532.4 1141.5 532.4C1142.6 532.4 1143.8 538.6 1145.1 551.3C1146.3 564 1148.4 596.8 1149.8 617.4C1151.2 637.9 1153.1 672.6 1154.5 688.2C1155.9 703.7 1158.1 715.5 1159.2 721.2C1160.4 726.9 1161.2 726.4 1162.3 726.4C1163.4 726.4 1165 697.4 1166.3 688.2C1167.6 678.9 1169.4 669.5 1171 664.6C1172.6 659.6 1175 658.7 1176.9 655.1C1178.9 651.6 1181.9 645.9 1184 641C1186.1 636 1189 628.1 1191.1 622.1C1193.2 616.1 1196.4 610.4 1198.2 600.8C1199.9 591.3 1201.6 570.8 1202.9 558.4C1204.1 546 1205.4 525.5 1206.4 518.3C1207.4 511 1208.6 510 1209.5 510C1210.4 510 1211.2 516.6 1212.3 527.7C1213.4 538.8 1215.8 572.6 1217 584.3C1218.3 596 1219.3 605.6 1220.6 605.6C1221.8 605.6 1223.9 589.5 1225.3 584.3C1226.7 579.2 1228.4 571.4 1230 571.4C1231.6 571.4 1234.3 571.4 1235.9 571.4C1237.5 571.4 1239.2 582.1 1240.6 589C1242 596 1244.1 611.7 1245.3 617.4C1246.6 623 1247.8 626.8 1248.9 626.8C1250 626.8 1251.4 619.3 1252.4 617.4C1253.5 615.4 1254.9 613.8 1256 613.8C1257 613.8 1258.3 618 1259.5 629.2C1260.7 640.3 1263 675.1 1264.2 688.2C1265.5 701.2 1266.7 716.5 1267.8 716.5C1268.8 716.5 1270.1 701.2 1271.3 688.2C1272.5 675.1 1274.8 639.4 1276 629.2C1277.3 618.9 1278.1 619.7 1279.6 619.7C1281 619.7 1283.9 624.4 1285.5 624.4C1287.1 624.4 1288.8 601 1290.2 593.8C1291.6 586.5 1293.5 576.1 1294.9 576.1C1296.3 576.1 1298.2 587.7 1299.6 591.4C1301 595.1 1302.8 600.8 1304.3 600.8C1305.9 600.8 1308.4 597.2 1310 589C1311.6 580.9 1313.5 565.3 1314.7 546.6C1316 527.8 1317.2 483.5 1318.3 464C1319.3 444.5 1320.9 424.8 1321.8 416.8C1322.7 408.8 1323.4 410.9 1324.2 410.9C1324.9 410.9 1326.1 411.8 1327 421.5C1327.9 431.3 1329.1 453.5 1330.1 475.8C1331 498.1 1332.7 550 1333.6 570.2C1334.5 590.3 1334.9 603.7 1336 610.3C1337 616.8 1338.9 613.1 1340.7 613.8C1342.4 614.5 1345.8 613.8 1347.8 615C1349.7 616.2 1352.1 619.3 1353.7 622.1C1355.2 624.9 1357.1 631.6 1358.4 633.9C1359.7 636.2 1361.1 637.4 1362.4 637.4C1363.6 637.4 1365.2 628.3 1366.6 624.4C1368 620.5 1370.4 611.5 1371.8 611.5C1373.2 611.5 1374.5 623.7 1376.1 629.2C1377.6 634.6 1380.4 648 1382 648C1383.6 648 1385.3 634.8 1386.7 629.2C1388.1 623.5 1390.2 613.3 1391.4 610.3C1392.6 607.3 1393.5 609.1 1394.9 609.1C1396.4 609.1 1398.7 611.4 1400.8 612.6C1403 613.9 1407 617.4 1409.1 617.4C1411.2 617.4 1413.4 611.9 1415 610.3C1416.6 608.7 1418.1 606.7 1419.7 606.7C1421.3 606.7 1423.9 614.2 1425.6 617.4C1427.4 620.5 1429.7 628 1431.5 628C1433.3 628 1436 624.4 1437.4 624.4C1438.8 624.4 1439.7 634.6 1441 641C1442.2 647.3 1444.4 662.1 1445.7 666.9C1446.9 671.7 1448 672.8 1449.2 672.8C1450.5 672.8 1452.7 662.7 1453.9 659.8C1455.2 657 1456.2 653.9 1457.5 653.9C1458.7 653.9 1460.6 662.5 1462.2 666.9C1463.8 671.3 1466.3 683.4 1468.1 683.4C1469.9 683.4 1471.9 676.2 1474 671.6C1476.1 667 1479.6 658.4 1482.3 652.8C1484.9 647.1 1489.2 639.2 1491.7 633.9C1494.2 628.6 1496.8 621.2 1498.8 617.4C1500.7 613.5 1503.1 608.4 1504.7 608.4C1506.3 608.4 1508 620.1 1509.4 626.8C1510.8 633.5 1512.9 647.3 1514.1 652.8C1515.3 658.2 1516.4 663.4 1517.6 663.4C1518.9 663.4 1520.8 652.1 1522.4 648C1524 644 1526.8 638.2 1528.3 636.2C1529.7 634.3 1530.4 635.1 1531.8 635.1C1533.2 635.1 1535.9 639.5 1537.7 641C1539.5 642.4 1542 644.5 1543.6 644.5C1545.2 644.5 1546.6 639.7 1548.3 637.4C1550.1 635.1 1553.6 630.8 1555.4 629.2C1557.2 627.6 1558.7 626.8 1560.1 626.8C1561.5 626.8 1563.2 635.7 1564.8 641C1566.4 646.3 1569.3 657.9 1570.7 662.2C1572.2 666.4 1573 669.3 1574.3 669.3C1575.5 669.3 1577.4 660.4 1579 655.1C1580.6 649.8 1583.3 638.3 1584.9 633.9C1586.5 629.5 1588.2 625.6 1589.6 625.6C1591 625.6 1592.7 632.2 1594.3 636.2C1595.9 640.3 1598.9 649.9 1600.2 652.8C1601.5 655.6 1602 655.1 1603.1 655.1C1604.1 655.1 1605.8 645 1607.3 641C1608.8 636.9 1611.8 630.1 1613.2 628C1614.6 625.9 1615.2 626.8 1616.7 626.8C1618.3 626.8 1622.1 630.6 1623.8 631.5C1625.6 632.4 1627 632.7 1628.5 632.7C1630.1 632.7 1632.7 626.5 1634.4 624.4C1636.2 622.4 1638 619.3 1640.3 619.3C1642.6 619.3 1646.6 622.3 1649.8 623.3C1653 624.2 1658.4 625.6 1661.6 625.6C1664.8 625.6 1668.5 624.5 1671 623.3C1673.5 622 1676.2 618.5 1678.1 617.4C1680 616.2 1681.9 615.7 1684 615.7C1686.1 615.7 1690.1 617.4 1692.3 619.7C1694.4 622.1 1696.6 627.3 1698.2 631.5C1699.7 635.8 1701.6 644.7 1702.9 648C1704.1 651.4 1705.2 653.9 1706.4 653.9C1707.7 653.9 1709.7 643.4 1711.1 638.6C1712.5 633.8 1714.3 625.1 1715.9 622.1C1717.4 619.1 1719.3 618.5 1721.8 618.5C1724.2 618.5 1729.4 618.5 1732.4 618.5C1735.4 618.5 1739 619.5 1741.8 620.9C1744.6 622.3 1748.8 625.3 1751.2 628C1753.7 630.6 1756.2 635.6 1758.3 638.6C1760.4 641.6 1763.3 648 1765.4 648C1767.5 648 1770.4 641.6 1772.5 638.6C1774.6 635.6 1777.8 630.1 1779.6 628C1781.3 625.9 1782.5 624.4 1784.3 624.4C1786.1 624.4 1789.2 628.2 1791.4 629.2C1793.5 630.2 1796.3 631.1 1798.4 631.1C1800.6 631.1 1803.6 628.3 1805.5 626.8C1807.5 625.3 1809.8 620.9 1811.4 620.9C1813 620.9 1814.7 626.7 1816.1 629.2C1817.6 631.6 1819.4 637.4 1820.9 637.4C1822.3 637.4 1824.2 626.9 1825.6 622.1C1827 617.3 1829.2 608.6 1830.3 605.6C1831.4 602.6 1831.8 602 1832.7 602C1833.5 602 1835 612.1 1836.2 617.4C1837.4 622.7 1839.5 637.4 1840.9 637.4C1842.3 637.4 1844.2 625.7 1845.6 617.4C1847 609 1848.9 590.8 1850.3 582C1851.8 573.1 1853.7 563 1855.1 558.4C1856.5 553.7 1858.4 550.8 1859.8 550.8C1861.2 550.8 1862.9 554.1 1864.5 558.4C1866.1 562.7 1868.6 573.6 1870.4 579.6C1872.2 585.6 1874.5 593.5 1876.3 598.5C1878.1 603.4 1880.4 609.1 1882.2 612.6C1884 616.2 1886.5 620.4 1888.1 622.1C1889.7 623.8 1891.4 624 1892.8 624C1894.2 624 1896.1 620.7 1897.5 619.7C1899 618.7 1900.7 617.4 1902.3 617.4C1903.9 617.4 1906.2 619.7 1908.2 620.2C1910.1 620.7 1913.1 619.7 1915 620.9C1916.9 622.1 1919 626 1920.9 628C1922.8 629.9 1925.7 632.8 1928 633.9C1930.3 634.9 1933.9 635.1 1936.2 635.1C1938.5 635.1 1941.4 634.6 1943.3 632.7C1945.3 630.8 1947.4 625.4 1949.2 622.1C1951 618.7 1953.9 612.3 1955.1 610.3C1956.4 608.2 1956.6 608.4 1957.5 608.4C1958.4 608.4 1959.8 616.1 1961 619.7C1962.3 623.4 1964.1 632.7 1965.7 632.7C1967.3 632.7 1969.9 623.2 1971.6 617.4C1973.4 611.5 1975.9 599.3 1977.5 593.8C1979.1 588.3 1981.3 582.9 1982.2 580.8C1983.2 578.7 1983.2 579.6 1983.9 579.6C1984.6 579.6 1986 586.3 1987 593.8C1988 601.2 1989.4 621 1990.5 629.2C1991.6 637.3 1993.3 648 1994.5 648C1995.8 648 1997.6 630.5 1998.8 624.4C1999.9 618.4 2001.2 610.8 2002.3 607.9C2003.4 605.1 2004.6 605.6 2005.8 605.6C2007.1 605.6 2009.1 611.5 2010.6 611.5C2012 611.5 2013.9 602.6 2015.3 598.5C2016.7 594.4 2018.8 587.3 2020 584.3C2021.2 581.3 2022 578.4 2023.1 578.4C2024.1 578.4 2025.8 587.6 2027.1 593.8C2028.4 600 2030.6 619.7 2031.8 619.7C2033 619.7 2034.1 603.3 2035.3 593.8C2036.6 584.2 2038.9 563.1 2040.1 556C2041.2 548.9 2041.8 546.6 2042.9 546.6C2044 546.6 2045.6 555.1 2047.1 560.7C2048.7 566.4 2051.3 579.4 2053 584.3C2054.8 589.3 2057.2 593.8 2058.9 593.8C2060.7 593.8 2063.1 585.9 2064.8 582C2066.6 578.1 2068.8 571.2 2070.7 567.8C2072.7 564.5 2075.9 559.6 2077.8 559.6C2079.8 559.6 2081.9 565.7 2083.7 567.8C2085.5 569.9 2087.8 573.7 2089.6 573.7C2091.4 573.7 2093.7 574.5 2095.5 572.5C2097.3 570.6 2099.8 564.1 2101.4 560.7C2103 557.4 2105.1 552.1 2106.1 550.1C2107.2 548.2 2107.4 547.8 2108.5 547.8C2109.5 547.8 2111.6 556.9 2113.2 563.1C2114.8 569.3 2117.3 582.3 2119.1 589C2120.9 595.8 2123.4 604.1 2125 607.9C2126.6 611.7 2128 614.5 2129.7 614.5C2131.5 614.5 2134.7 609 2136.8 605.6C2138.9 602.1 2141.8 597.8 2143.9 591.4C2146 585 2149 575.1 2151 563.1C2152.9 551.1 2155.3 525 2156.9 511.2C2158.5 497.4 2160.3 478.6 2161.6 471.1C2162.8 463.6 2164.1 461.2 2165.1 461.2C2166.2 461.2 2167.4 464.9 2168.7 473.4C2169.9 482 2172 503.7 2173.4 518.3C2174.8 532.8 2176.7 556.7 2178.1 570.2C2179.5 583.6 2181.6 599.8 2182.8 607.9C2184.1 616.1 2185.1 624.4 2186.4 624.4C2187.6 624.4 2189.8 613.1 2191.1 610.3C2192.3 607.5 2193.4 605.6 2194.6 605.6C2195.9 605.6 2197.9 609.2 2199.3 610.3C2200.7 611.3 2202.5 612.6 2204.1 612.6C2205.6 612.6 2208.5 607.9 2210 607.9C2211.4 607.9 2212.3 607.8 2213.5 610.3C2214.7 612.8 2217 621.4 2218.2 624.4C2219.4 627.5 2220.7 630.3 2221.7 630.3C2222.8 630.3 2224.2 621 2225.3 612.6C2226.3 604.3 2227.8 583.6 2228.8 574.9C2229.9 566.2 2231.6 558.2 2232.4 554.8C2233.1 551.5 2233.1 552.5 2234 552.5C2234.9 552.5 2236.9 562.1 2238.3 565.5C2239.6 568.8 2241.4 573.1 2243 574.9C2244.6 576.7 2247.1 574.4 2248.9 577.3C2250.7 580.1 2253 589 2254.8 593.8C2256.6 598.5 2259.1 609.1 2260.7 609.1C2262.3 609.1 2264 594.7 2265.4 589C2266.8 583.4 2268.7 571.4 2270.1 571.4C2271.5 571.4 2273.2 577.9 2274.8 582C2276.4 586 2279.1 598.5 2280.7 598.5C2282.3 598.5 2284 598 2285.5 597.3C2286.9 596.6 2288.8 593.8 2290.2 593.8C2291.6 593.8 2293.7 605.3 2294.9 610.3C2296.1 615.2 2297.4 626.8 2298.4 626.8C2299.5 626.8 2300.9 605.8 2302 593.8C2303 581.7 2304.4 557.4 2305.5 546.6C2306.6 535.8 2308.3 521.8 2309.5 521.8C2310.8 521.8 2312.3 533.2 2313.8 541.9C2315.3 550.5 2317.9 572.2 2319.7 579.6C2321.4 587 2324 591.4 2325.6 591.4C2327.2 591.4 2328.9 585.2 2330.3 574.9C2331.7 564.6 2333.6 541.4 2335 523C2336.4 504.6 2338.5 468.1 2339.7 452.2C2341 436.3 2342.1 429.6 2343.3 416.8C2344.4 404 2345.9 367 2347.3 367C2348.7 367 2351.4 434.5 2352.7 452.2C2354 469.9 2355.4 479.9 2356.2 485.2C2357 490.5 2357.2 487.6 2358.1 487.6C2359 487.6 2361 472.1 2362.1 466.4C2363.2 460.7 2364.6 449.8 2365.7 449.8C2366.8 449.8 2368 459.7 2369.2 466.4C2370.4 473.1 2372.8 489.8 2373.9 494.7C2375 499.6 2375.5 499.4 2376.3 499.4C2377.1 499.4 2378.6 481.9 2379.5 464C2380.4 446.1 2381.2 412.1 2382 380C2382.8 347.9 2383.8 286.1 2384.5 250C2385.2 213.8 2386.2 139 2387 139C2387.8 139 2388.6 142.7 2389.7 155.8C2390.8 168.9 2392.7 205.4 2394 226.6C2395.3 247.8 2397.1 277.9 2398.7 297.4C2400.3 316.9 2402.8 338.8 2404.6 356.4C2406.4 374 2409.2 404.5 2410.5 415C2411.8 425.5 2412.5 426.2 2413.4 426.2C2414.3 426.2 2415.6 424.4 2416.4 410C2417.2 395.6 2417.9 350.4 2418.8 330C2419.7 309.6 2421.5 283.1 2422.3 273.8C2423.1 264.5 2423.3 267.9 2424 267.9C2424.7 267.9 2426 274.1 2427 285.6C2428 297.1 2429.5 326.7 2430.6 344.6C2431.7 362.5 2433.1 390.6 2434 405C2434.9 419.4 2435.5 430.5 2436.5 440.4C2437.5 450.3 2439.5 471.1 2440.7 471.1C2441.9 471.1 2443.6 451.1 2444.7 440.4C2445.8 429.7 2447.2 414.4 2448 400C2448.8 385.6 2449.3 357 2450 344.6C2450.7 332.2 2451.7 317.4 2452.5 317.4C2453.3 317.4 2454.6 331.5 2455.4 344.6C2456.2 357.7 2457 385.3 2457.7 405C2458.4 424.7 2459.4 452.8 2460.1 475.8C2460.8 498.8 2461.8 542.6 2462.4 558.4C2463 574.1 2463.6 580.8 2464.3 580.8C2465 580.8 2466.3 548.8 2467.1 534.8C2467.9 520.8 2468.8 496.6 2469.5 487.6C2470.2 478.6 2471.2 474.6 2471.9 474.6C2472.6 474.6 2473.3 476.8 2474.2 487.6C2475.1 498.4 2476.7 529.6 2477.8 546.6C2478.9 563.6 2480.4 590.3 2481.3 600.9C2482.2 611.5 2482.8 617.4 2483.7 617.4C2484.6 617.4 2486.1 614.3 2487.2 612.7C2488.2 611.1 2489.8 606.8 2490.7 606.8C2491.6 606.8 2492.2 615.2 2493.1 622.1C2494 629 2495.5 642.9 2496.6 652.8C2497.7 662.7 2499.1 677.4 2500.2 688.2C2501.3 699 2503.1 712.4 2503.7 725C2504.3 737.6 2504 758 2504.3 772.2C2504.6 786.4 2505.3 803.5 2505.7 819.4C2506.2 835.3 2506.8 862.5 2507.3 878.4C2507.8 894.3 2508.8 918 2509.2 925.6C2509.6 933.2 2509.7 928.5 2509.8 929" fill="none" stroke="#fff" stroke-width="3.2" stroke-linejoin="round" stroke-linecap="round"/>
<g stroke="#fff" stroke-width="1.9" fill="none">
<path d="M105.9 1149.3V1351.5"/>
<path d="M316.1 1149.3V1283.5"/>
<path d="M507.2 1149.3V1317.7"/>
<path d="M727 1149.3V1283.5"/>
<path d="M918.1 1149.3V1283.5"/>
<path d="M1118.7 1149.3V1351.5"/>
<path d="M1309.8 1149.3V1283.5"/>
<path d="M1491.4 1149.3V1283.5"/>
<path d="M1692 1149.3V1317.7"/>
<path d="M1892.7 1149.3V1283.5"/>
<path d="M2093.3 1149.3V1283.5"/>
<path d="M2284.4 1149.3V1317.7"/>
<path d="M2494.7 1149.3V1283.5"/>
<path d="M2513.8 1149.3V1351.5"/>
</g>
<g fill="#fff" stroke="#fff" stroke-width="0.45" font-size="15.8" letter-spacing="0.2">
<text transform="translate(117.6 1160.3) rotate(-90)" text-anchor="end">1<tspan dx="1.2">/</tspan><tspan dx="1.2">8</tspan><tspan dx="1.2">/</tspan><tspan dx="1.2">2024</tspan></text>
<text transform="translate(146.2 1160.3) rotate(-90)" text-anchor="end">6<tspan dx="1.2">/</tspan><tspan dx="1.2">8</tspan><tspan dx="1.2">/</tspan><tspan dx="1.2">2024</tspan></text>
<text transform="translate(174.9 1160.3) rotate(-90)" text-anchor="end">9<tspan dx="1.2">/</tspan><tspan dx="1.2">8</tspan><tspan dx="1.2">/</tspan><tspan dx="1.2">2024</tspan></text>
<text transform="translate(203.6 1160.3) rotate(-90)" text-anchor="end">14<tspan dx="1.2">/</tspan><tspan dx="1.2">8</tspan><tspan dx="1.2">/</tspan><tspan dx="1.2">2024</tspan></text>
<text transform="translate(232.2 1160.3) rotate(-90)" text-anchor="end">19<tspan dx="1.2">/</tspan><tspan dx="1.2">8</tspan><tspan dx="1.2">/</tspan><tspan dx="1.2">2024</tspan></text>
<text transform="translate(260.9 1160.3) rotate(-90)" text-anchor="end">22<tspan dx="1.2">/</tspan><tspan dx="1.2">8</tspan><tspan dx="1.2">/</tspan><tspan dx="1.2">2024</tspan></text>
<text transform="translate(289.6 1160.3) rotate(-90)" text-anchor="end">27<tspan dx="1.2">/</tspan><tspan dx="1.2">8</tspan><tspan dx="1.2">/</tspan><tspan dx="1.2">2024</tspan></text>
<text transform="translate(318.2 1160.3) rotate(-90)" text-anchor="end">30<tspan dx="1.2">/</tspan><tspan dx="1.2">8</tspan><tspan dx="1.2">/</tspan><tspan dx="1.2">2024</tspan></text>
<text transform="translate(346.9 1160.3) rotate(-90)" text-anchor="end">5<tspan dx="1.2">/</tspan><tspan dx="1.2">9</tspan><tspan dx="1.2">/</tspan><tspan dx="1.2">2024</tspan></text>
<text transform="translate(375.6 1160.3) rotate(-90)" text-anchor="end">10<tspan dx="1.2">/</tspan><tspan dx="1.2">9</tspan><tspan dx="1.2">/</tspan><tspan dx="1.2">2024</tspan></text>
<text transform="translate(404.2 1160.3) rotate(-90)" text-anchor="end">13<tspan dx="1.2">/</tspan><tspan dx="1.2">9</tspan><tspan dx="1.2">/</tspan><tspan dx="1.2">2024</tspan></text>
<text transform="translate(432.9 1160.3) rotate(-90)" text-anchor="end">18<tspan dx="1.2">/</tspan><tspan dx="1.2">9</tspan><tspan dx="1.2">/</tspan><tspan dx="1.2">2024</tspan></text>
<text transform="translate(461.6 1160.3) rotate(-90)" text-anchor="end">23<tspan dx="1.2">/</tspan><tspan dx="1.2">9</tspan><tspan dx="1.2">/</tspan><tspan dx="1.2">2024</tspan></text>
<text transform="translate(490.2 1160.3) rotate(-90)" text-anchor="end">26<tspan dx="1.2">/</tspan><tspan dx="1.2">9</tspan><tspan dx="1.2">/</tspan><tspan dx="1.2">2024</tspan></text>
<text transform="translate(518.9 1160.3) rotate(-90)" text-anchor="end">1<tspan dx="1.2">/</tspan><tspan dx="1.2">10</tspan><tspan dx="1.2">/</tspan><tspan dx="1.2">2024</tspan></text>
<text transform="translate(547.6 1160.3) rotate(-90)" text-anchor="end">4<tspan dx="1.2">/</tspan><tspan dx="1.2">10</tspan><tspan dx="1.2">/</tspan><tspan dx="1.2">2024</tspan></text>
<text transform="translate(576.2 1160.3) rotate(-90)" text-anchor="end">9<tspan dx="1.2">/</tspan><tspan dx="1.2">10</tspan><tspan dx="1.2">/</tspan><tspan dx="1.2">2024</tspan></text>
<text transform="translate(604.9 1160.3) rotate(-90)" text-anchor="end">14<tspan dx="1.2">/</tspan><tspan dx="1.2">10</tspan><tspan dx="1.2">/</tspan><tspan dx="1.2">2024</tspan></text>
<text transform="translate(633.5 1160.3) rotate(-90)" text-anchor="end">17<tspan dx="1.2">/</tspan><tspan dx="1.2">10</tspan><tspan dx="1.2">/</tspan><tspan dx="1.2">2024</tspan></text>
<text transform="translate(662.2 1160.3) rotate(-90)" text-anchor="end">22<tspan dx="1.2">/</tspan><tspan dx="1.2">10</tspan><tspan dx="1.2">/</tspan><tspan dx="1.2">2024</tspan></text>
<text transform="translate(690.9 1160.3) rotate(-90)" text-anchor="end">25<tspan dx="1.2">/</tspan><tspan dx="1.2">10</tspan><tspan dx="1.2">/</tspan><tspan dx="1.2">2024</tspan></text>
<text transform="translate(719.5 1160.3) rotate(-90)" text-anchor="end">30<tspan dx="1.2">/</tspan><tspan dx="1.2">10</tspan><tspan dx="1.2">/</tspan><tspan dx="1.2">2024</tspan></text>
<text transform="translate(748.2 1160.3) rotate(-90)" text-anchor="end">4<tspan dx="1.2">/</tspan><tspan dx="1.2">11</tspan><tspan dx="1.2">/</tspan><tspan dx="1.2">2024</tspan></text>
<text transform="translate(776.9 1160.3) rotate(-90)" text-anchor="end">7<tspan dx="1.2">/</tspan><tspan dx="1.2">11</tspan><tspan dx="1.2">/</tspan><tspan dx="1.2">2024</tspan></text>
<text transform="translate(805.5 1160.3) rotate(-90)" text-anchor="end">12<tspan dx="1.2">/</tspan><tspan dx="1.2">11</tspan><tspan dx="1.2">/</tspan><tspan dx="1.2">2024</tspan></text>
<text transform="translate(834.2 1160.3) rotate(-90)" text-anchor="end">15<tspan dx="1.2">/</tspan><tspan dx="1.2">11</tspan><tspan dx="1.2">/</tspan><tspan dx="1.2">2024</tspan></text>
<text transform="translate(862.9 1160.3) rotate(-90)" text-anchor="end">20<tspan dx="1.2">/</tspan><tspan dx="1.2">11</tspan><tspan dx="1.2">/</tspan><tspan dx="1.2">2024</tspan></text>
<text transform="translate(891.5 1160.3) rotate(-90)" text-anchor="end">25<tspan dx="1.2">/</tspan><tspan dx="1.2">11</tspan><tspan dx="1.2">/</tspan><tspan dx="1.2">2024</tspan></text>
<text transform="translate(920.2 1160.3) rotate(-90)" text-anchor="end">29<tspan dx="1.2">/</tspan><tspan dx="1.2">11</tspan><tspan dx="1.2">/</tspan><tspan dx="1.2">2024</tspan></text>
<text transform="translate(948.9 1160.3) rotate(-90)" text-anchor="end">4<tspan dx="1.2">/</tspan><tspan dx="1.2">12</tspan><tspan dx="1.2">/</tspan><tspan dx="1.2">2024</tspan></text>
<text transform="translate(977.5 1160.3) rotate(-90)" text-anchor="end">9<tspan dx="1.2">/</tspan><tspan dx="1.2">12</tspan><tspan dx="1.2">/</tspan><tspan dx="1.2">2024</tspan></text>
<text transform="translate(1006.2 1160.3) rotate(-90)" text-anchor="end">12<tspan dx="1.2">/</tspan><tspan dx="1.2">12</tspan><tspan dx="1.2">/</tspan><tspan dx="1.2">2024</tspan></text>
<text transform="translate(1034.9 1160.3) rotate(-90)" text-anchor="end">17<tspan dx="1.2">/</tspan><tspan dx="1.2">12</tspan><tspan dx="1.2">/</tspan><tspan dx="1.2">2024</tspan></text>
<text transform="translate(1063.5 1160.3) rotate(-90)" text-anchor="end">20<tspan dx="1.2">/</tspan><tspan dx="1.2">12</tspan><tspan dx="1.2">/</tspan><tspan dx="1.2">2024</tspan></text>
<text transform="translate(1092.2 1160.3) rotate(-90)" text-anchor="end">26<tspan dx="1.2">/</tspan><tspan dx="1.2">12</tspan><tspan dx="1.2">/</tspan><tspan dx="1.2">2024</tspan></text>
<text transform="translate(1120.9 1160.3) rotate(-90)" text-anchor="end">31<tspan dx="1.2">/</tspan><tspan dx="1.2">12</tspan><tspan dx="1.2">/</tspan><tspan dx="1.2">2024</tspan></text>
<text transform="translate(1149.5 1160.3) rotate(-90)" text-anchor="end">6<tspan dx="1.2">/</tspan><tspan dx="1.2">1</tspan><tspan dx="1.2">/</tspan><tspan dx="1.2">2025</tspan></text>
<text transform="translate(1178.2 1160.3) rotate(-90)" text-anchor="end">10<tspan dx="1.2">/</tspan><tspan dx="1.2">1</tspan><tspan dx="1.2">/</tspan><tspan dx="1.2">2025</tspan></text>
<text transform="translate(1206.8 1160.3) rotate(-90)" text-anchor="end">15<tspan dx="1.2">/</tspan><tspan dx="1.2">1</tspan><tspan dx="1.2">/</tspan><tspan dx="1.2">2025</tspan></text>
<text transform="translate(1235.5 1160.3) rotate(-90)" text-anchor="end">21<tspan dx="1.2">/</tspan><tspan dx="1.2">1</tspan><tspan dx="1.2">/</tspan><tspan dx="1.2">2025</tspan></text>
<text transform="translate(1264.2 1160.3) rotate(-90)" text-anchor="end">24<tspan dx="1.2">/</tspan><tspan dx="1.2">1</tspan><tspan dx="1.2">/</tspan><tspan dx="1.2">2025</tspan></text>
<text transform="translate(1292.8 1160.3) rotate(-90)" text-anchor="end">29<tspan dx="1.2">/</tspan><tspan dx="1.2">1</tspan><tspan dx="1.2">/</tspan><tspan dx="1.2">2025</tspan></text>
<text transform="translate(1321.5 1160.3) rotate(-90)" text-anchor="end">3<tspan dx="1.2">/</tspan><tspan dx="1.2">2</tspan><tspan dx="1.2">/</tspan><tspan dx="1.2">2025</tspan></text>
<text transform="translate(1350.2 1160.3) rotate(-90)" text-anchor="end">6<tspan dx="1.2">/</tspan><tspan dx="1.2">2</tspan><tspan dx="1.2">/</tspan><tspan dx="1.2">2025</tspan></text>
<text transform="translate(1378.8 1160.3) rotate(-90)" text-anchor="end">11<tspan dx="1.2">/</tspan><tspan dx="1.2">2</tspan><tspan dx="1.2">/</tspan><tspan dx="1.2">2025</tspan></text>
<text transform="translate(1407.5 1160.3) rotate(-90)" text-anchor="end">14<tspan dx="1.2">/</tspan><tspan dx="1.2">2</tspan><tspan dx="1.2">/</tspan><tspan dx="1.2">2025</tspan></text>
<text transform="translate(1436.2 1160.3) rotate(-90)" text-anchor="end">20<tspan dx="1.2">/</tspan><tspan dx="1.2">2</tspan><tspan dx="1.2">/</tspan><tspan dx="1.2">2025</tspan></text>
<text transform="translate(1464.8 1160.3) rotate(-90)" text-anchor="end">25<tspan dx="1.2">/</tspan><tspan dx="1.2">2</tspan><tspan dx="1.2">/</tspan><tspan dx="1.2">2025</tspan></text>
<text transform="translate(1493.5 1160.3) rotate(-90)" text-anchor="end">28<tspan dx="1.2">/</tspan><tspan dx="1.2">2</tspan><tspan dx="1.2">/</tspan><tspan dx="1.2">2025</tspan></text>
<text transform="translate(1522.2 1160.3) rotate(-90)" text-anchor="end">5<tspan dx="1.2">/</tspan><tspan dx="1.2">3</tspan><tspan dx="1.2">/</tspan><tspan dx="1.2">2025</tspan></text>
<text transform="translate(1550.8 1160.3) rotate(-90)" text-anchor="end">10<tspan dx="1.2">/</tspan><tspan dx="1.2">3</tspan><tspan dx="1.2">/</tspan><tspan dx="1.2">2025</tspan></text>
<text transform="translate(1579.5 1160.3) rotate(-90)" text-anchor="end">13<tspan dx="1.2">/</tspan><tspan dx="1.2">3</tspan><tspan dx="1.2">/</tspan><tspan dx="1.2">2025</tspan></text>
<text transform="translate(1608.2 1160.3) rotate(-90)" text-anchor="end">18<tspan dx="1.2">/</tspan><tspan dx="1.2">3</tspan><tspan dx="1.2">/</tspan><tspan dx="1.2">2025</tspan></text>
<text transform="translate(1636.8 1160.3) rotate(-90)" text-anchor="end">21<tspan dx="1.2">/</tspan><tspan dx="1.2">3</tspan><tspan dx="1.2">/</tspan><tspan dx="1.2">2025</tspan></text>
<text transform="translate(1665.5 1160.3) rotate(-90)" text-anchor="end">26<tspan dx="1.2">/</tspan><tspan dx="1.2">3</tspan><tspan dx="1.2">/</tspan><tspan dx="1.2">2025</tspan></text>
<text transform="translate(1694.2 1160.3) rotate(-90)" text-anchor="end">31<tspan dx="1.2">/</tspan><tspan dx="1.2">3</tspan><tspan dx="1.2">/</tspan><tspan dx="1.2">2025</tspan></text>
<text transform="translate(1722.8 1160.3) rotate(-90)" text-anchor="end">3<tspan dx="1.2">/</tspan><tspan dx="1.2">4</tspan><tspan dx="1.2">/</tspan><tspan dx="1.2">2025</tspan></text>
<text transform="translate(1751.5 1160.3) rotate(-90)" text-anchor="end">8<tspan dx="1.2">/</tspan><tspan dx="1.2">4</tspan><tspan dx="1.2">/</tspan><tspan dx="1.2">2025</tspan></text>
<text transform="translate(1780.1 1160.3) rotate(-90)" text-anchor="end">11<tspan dx="1.2">/</tspan><tspan dx="1.2">4</tspan><tspan dx="1.2">/</tspan><tspan dx="1.2">2025</tspan></text>
<text transform="translate(1808.8 1160.3) rotate(-90)" text-anchor="end">16<tspan dx="1.2">/</tspan><tspan dx="1.2">4</tspan><tspan dx="1.2">/</tspan><tspan dx="1.2">2025</tspan></text>
<text transform="translate(1837.5 1160.3) rotate(-90)" text-anchor="end">22<tspan dx="1.2">/</tspan><tspan dx="1.2">4</tspan><tspan dx="1.2">/</tspan><tspan dx="1.2">2025</tspan></text>
<text transform="translate(1866.1 1160.3) rotate(-90)" text-anchor="end">25<tspan dx="1.2">/</tspan><tspan dx="1.2">4</tspan><tspan dx="1.2">/</tspan><tspan dx="1.2">2025</tspan></text>
<text transform="translate(1894.8 1160.3) rotate(-90)" text-anchor="end">30<tspan dx="1.2">/</tspan><tspan dx="1.2">4</tspan><tspan dx="1.2">/</tspan><tspan dx="1.2">2025</tspan></text>
<text transform="translate(1923.5 1160.3) rotate(-90)" text-anchor="end">5<tspan dx="1.2">/</tspan><tspan dx="1.2">5</tspan><tspan dx="1.2">/</tspan><tspan dx="1.2">2025</tspan></text>
<text transform="translate(1952.1 1160.3) rotate(-90)" text-anchor="end">8<tspan dx="1.2">/</tspan><tspan dx="1.2">5</tspan><tspan dx="1.2">/</tspan><tspan dx="1.2">2025</tspan></text>
<text transform="translate(1980.8 1160.3) rotate(-90)" text-anchor="end">13<tspan dx="1.2">/</tspan><tspan dx="1.2">5</tspan><tspan dx="1.2">/</tspan><tspan dx="1.2">2025</tspan></text>
<text transform="translate(2009.5 1160.3) rotate(-90)" text-anchor="end">16<tspan dx="1.2">/</tspan><tspan dx="1.2">5</tspan><tspan dx="1.2">/</tspan><tspan dx="1.2">2025</tspan></text>
<text transform="translate(2038.1 1160.3) rotate(-90)" text-anchor="end">21<tspan dx="1.2">/</tspan><tspan dx="1.2">5</tspan><tspan dx="1.2">/</tspan><tspan dx="1.2">2025</tspan></text>
<text transform="translate(2066.8 1160.3) rotate(-90)" text-anchor="end">27<tspan dx="1.2">/</tspan><tspan dx="1.2">5</tspan><tspan dx="1.2">/</tspan><tspan dx="1.2">2025</tspan></text>
<text transform="translate(2095.5 1160.3) rotate(-90)" text-anchor="end">30<tspan dx="1.2">/</tspan><tspan dx="1.2">5</tspan><tspan dx="1.2">/</tspan><tspan dx="1.2">2025</tspan></text>
<text transform="translate(2124.1 1160.3) rotate(-90)" text-anchor="end">4<tspan dx="1.2">/</tspan><tspan dx="1.2">6</tspan><tspan dx="1.2">/</tspan><tspan dx="1.2">2025</tspan></text>
<text transform="translate(2152.8 1160.3) rotate(-90)" text-anchor="end">9<tspan dx="1.2">/</tspan><tspan dx="1.2">6</tspan><tspan dx="1.2">/</tspan><tspan dx="1.2">2025</tspan></text>
<text transform="translate(2181.5 1160.3) rotate(-90)" text-anchor="end">12<tspan dx="1.2">/</tspan><tspan dx="1.2">6</tspan><tspan dx="1.2">/</tspan><tspan dx="1.2">2025</tspan></text>
<text transform="translate(2210.1 1160.3) rotate(-90)" text-anchor="end">17<tspan dx="1.2">/</tspan><tspan dx="1.2">6</tspan><tspan dx="1.2">/</tspan><tspan dx="1.2">2025</tspan></text>
<text transform="translate(2238.8 1160.3) rotate(-90)" text-anchor="end">23<tspan dx="1.2">/</tspan><tspan dx="1.2">6</tspan><tspan dx="1.2">/</tspan><tspan dx="1.2">2025</tspan></text>
<text transform="translate(2267.5 1160.3) rotate(-90)" text-anchor="end">26<tspan dx="1.2">/</tspan><tspan dx="1.2">6</tspan><tspan dx="1.2">/</tspan><tspan dx="1.2">2025</tspan></text>
<text transform="translate(2296.1 1160.3) rotate(-90)" text-anchor="end">1<tspan dx="1.2">/</tspan><tspan dx="1.2">7</tspan><tspan dx="1.2">/</tspan><tspan dx="1.2">2025</tspan></text>
<text transform="translate(2324.8 1160.3) rotate(-90)" text-anchor="end">7<tspan dx="1.2">/</tspan><tspan dx="1.2">7</tspan><tspan dx="1.2">/</tspan><tspan dx="1.2">2025</tspan></text>
<text transform="translate(2353.4 1160.3) rotate(-90)" text-anchor="end">10<tspan dx="1.2">/</tspan><tspan dx="1.2">7</tspan><tspan dx="1.2">/</tspan><tspan dx="1.2">2025</tspan></text>
<text transform="translate(2382.1 1160.3) rotate(-90)" text-anchor="end">15<tspan dx="1.2">/</tspan><tspan dx="1.2">7</tspan><tspan dx="1.2">/</tspan><tspan dx="1.2">2025</tspan></text>
<text transform="translate(2410.8 1160.3) rotate(-90)" text-anchor="end">18<tspan dx="1.2">/</tspan><tspan dx="1.2">7</tspan><tspan dx="1.2">/</tspan><tspan dx="1.2">2025</tspan></text>
<text transform="translate(2439.4 1160.3) rotate(-90)" text-anchor="end">23<tspan dx="1.2">/</tspan><tspan dx="1.2">7</tspan><tspan dx="1.2">/</tspan><tspan dx="1.2">2025</tspan></text>
<text transform="translate(2468.1 1160.3) rotate(-90)" text-anchor="end">28<tspan dx="1.2">/</tspan><tspan dx="1.2">7</tspan><tspan dx="1.2">/</tspan><tspan dx="1.2">2025</tspan></text>
<text transform="translate(2496.8 1160.3) rotate(-90)" text-anchor="end">31<tspan dx="1.2">/</tspan><tspan dx="1.2">7</tspan><tspan dx="1.2">/</tspan><tspan dx="1.2">2025</tspan></text>
</g>
<g fill="#fff" stroke="#fff" stroke-width="0.35" font-size="16.5" text-anchor="middle">
<text x="211" y="1277.6">Aug</text>
<text x="411.7" y="1277.6">Sep</text>
<text x="617.1" y="1277.6">Oct</text>
<text x="822.5" y="1277.6">Nov</text>
<text x="1018.4" y="1277.6">Dec</text>
<text x="1214.3" y="1277.6">Jan</text>
<text x="1400.6" y="1277.6">Feb</text>
<text x="1591.7" y="1277.6">Mar</text>
<text x="1792.4" y="1277.6">Apr</text>
<text x="1993" y="1277.6">May</text>
<text x="2188.9" y="1277.6">Jun</text>
<text x="2389.5" y="1277.6">Jul</text>
<text x="2504.2" y="1277.6">Aug</text>
<text x="306.6" y="1313">Qtr3</text>
<text x="813" y="1313">Qtr4</text>
<text x="1405.4" y="1313">Qtr1</text>
<text x="1988.2" y="1313">Qtr2</text>
<text x="2399.1" y="1313">Qtr3</text>
<text x="612.3" y="1348">2024</text>
<text x="1816.2" y="1348">2025</text>
</g>
<g font-size="15.5" text-anchor="end" stroke-width="0.25">
<text x="88" y="1155.6" fill="#c5323f" stroke="#c5323f">800</text>
<text x="88" y="1023.2" fill="#c5323f" stroke="#c5323f">600</text>
<text x="88" y="890.8" fill="#c5323f" stroke="#c5323f">400</text>
<text x="88" y="758.4" fill="#c5323f" stroke="#c5323f">200</text>
<text x="88" y="626" fill="#fff" stroke="#fff">0</text>
<text x="88" y="493.6" fill="#fff" stroke="#fff">200</text>
<text x="88" y="361.2" fill="#fff" stroke="#fff">400</text>
<text x="88" y="228.8" fill="#fff" stroke="#fff">600</text>
<text x="88" y="96.4" fill="#fff" stroke="#fff">800</text>
</g>
<g font-size="16" fill="#fff" stroke="#fff" stroke-width="0.6">
<text x="2536" y="30.3">6.0</text>
<text x="2536" y="63.4">5.9</text>
<text x="2536" y="96.5">5.8</text>
<text x="2536" y="129.6">5.7</text>
<text x="2536" y="162.7">5.6</text>
<text x="2536" y="195.8">5.5</text>
<text x="2536" y="228.9">5.4</text>
<text x="2536" y="262">5.3</text>
<text x="2536" y="295.1">5.2</text>
<text x="2536" y="328.2">5.1</text>
<text x="2536" y="361.3">5.0</text>
<text x="2536" y="394.4">4.9</text>
<text x="2536" y="427.5">4.8</text>
<text x="2536" y="460.6">4.7</text>
<text x="2536" y="493.7">4.6</text>
<text x="2536" y="526.8">4.5</text>
<text x="2536" y="559.9">4.4</text>
<text x="2536" y="593">4.3</text>
<text x="2536" y="626.1">4.2</text>
<text x="2536" y="659.2">4.1</text>
<text x="2536" y="692.3">4.0</text>
<text x="2536" y="725.4">3.9</text>
<text x="2536" y="758.5">3.8</text>
<text x="2536" y="791.6">3.7</text>
<text x="2536" y="824.7">3.6</text>
<text x="2536" y="857.8">3.5</text>
<text x="2536" y="890.9">3.4</text>
<text x="2536" y="924">3.3</text>
<text x="2536" y="957.1">3.2</text>
<text x="2536" y="990.2">3.1</text>
<text x="2536" y="1023.3">3.0</text>
<text x="2536" y="1056.4">2.9</text>
<text x="2536" y="1089.5">2.8</text>
<text x="2536" y="1122.6">2.7</text>
<text x="2536" y="1155.7">2.6</text>
<text x="2536" y="1188.8">2.5</text>
<text x="2536" y="1221.9">2.4</text>
<text x="2536" y="1255">2.3</text>
<text x="2536" y="1288.1">2.2</text>
<text x="2536" y="1321.2">2.1</text>
<text x="2536" y="1354.3">2.0</text>
</g>
<text transform="translate(50 621) rotate(-90)" text-anchor="middle" fill="#fff" stroke="#fff" stroke-width="0.4" font-size="17.5" letter-spacing="0.3">Net Flow ($million)</text>
<text transform="translate(2594 657) rotate(-90)" text-anchor="middle" fill="#fff" font-size="17" letter-spacing="-0.8" font-weight="bold">ETH Holding | Millions</text>
<text x="1085" y="46.5" fill="#fff" font-size="32">U.S. Ethereum ETF Net Flow</text>
<text x="1535" y="47.5" fill="#e6e6e6" font-size="20" text-decoration="underline">Trader T@thepfund</text>
<g font-size="15" font-weight="bold" fill="#fff">
<rect x="518.6" y="77" width="38.5" height="10" fill="#6a8fd2"/>
<text x="561.6" y="87.5">$ETHA</text>
<rect x="651" y="77" width="38.5" height="10" fill="#b6cc85"/>
<text x="694" y="87.5">$FETH</text>
<rect x="781" y="77" width="38.5" height="10" fill="#7bb8d8"/>
<text x="824" y="87.5">$ETHW</text>
<rect x="918.6" y="77" width="38.5" height="10" fill="#4c6190"/>
<text x="961.6" y="87.5">$CETH</text>
<rect x="1050" y="77" width="38.5" height="10" fill="#7f8c4f"/>
<text x="1093" y="87.5">$QETH</text>
<rect x="1183.5" y="77" width="38.5" height="10" fill="#40819b"/>
<text x="1226.5" y="87.5">$EZET</text>
<rect x="1310.5" y="77" width="38.5" height="10" fill="#8fa4de"/>
<text x="1353.5" y="87.5">$ETHV</text>
<rect x="1443" y="77" width="38.5" height="10" fill="#8e8e8e"/>
<text x="1486" y="87.5">$ETHE</text>
<rect x="1573" y="77" width="38.5" height="10" fill="#90cde2"/>
<text x="1616" y="87.5">$ETH</text>
<rect x="1694.6" y="77.6" width="38" height="9" fill="none" stroke="#a9a9a9" stroke-width="1.2"/><text x="1737" y="87.5">$Volume</text>
<path d="M1844 82H1882" stroke="#fff" stroke-width="4.5" stroke-linecap="round"/><text x="1887" y="87.5">Net Flow</text>
</g>
<path d="M2003 83H2050" stroke="#b0b0b0" stroke-width="8" stroke-opacity="0.4" stroke-linecap="round" filter="url(#b2)"/><path d="M2003 83H2050" stroke="#8d8d8d" stroke-width="4.5" stroke-linecap="round"/>
<text x="2065" y="89" fill="#fff" font-size="15.5">ETHUSD(VWAP)</text>
</svg></body></html>
